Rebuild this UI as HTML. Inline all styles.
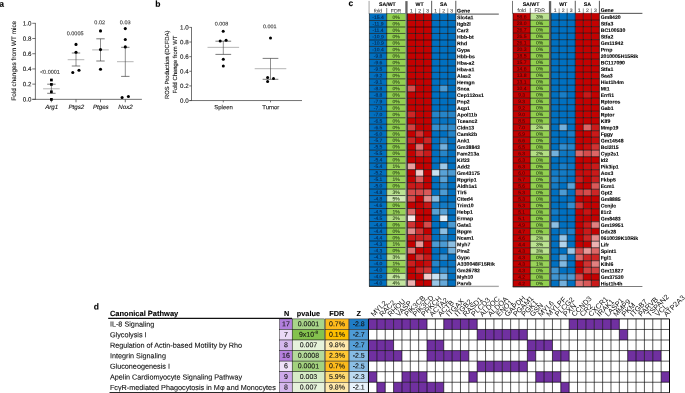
<!DOCTYPE html>
<html><head><meta charset="utf-8"><title>Figure</title>
<style>
html,body{margin:0;padding:0;background:#fff;}
body{width:685px;height:393px;overflow:hidden;font-family:'Liberation Sans', sans-serif;}
svg{display:block;font-family:"Liberation Sans",sans-serif;opacity:0.999;will-change:transform;text-rendering:geometricPrecision;}
</style></head><body>
<svg width="685" height="393" viewBox="0 0 685 393">
<rect width="685" height="393" fill="#fff"/>
<g>
<text x="-0.70" y="6.75" transform="rotate(0.04 -0.70 6.75)" font-size="8.5" text-anchor="start" font-weight="bold" font-style="normal" fill="#000" stroke="#000" stroke-width="0.1" >a</text>
<line x1="35.40" y1="22.95" x2="35.40" y2="99.70" stroke="#444" stroke-width="0.75"/>
<line x1="32.30" y1="99.35" x2="141.90" y2="99.35" stroke="#444" stroke-width="0.75"/>
<line x1="32.30" y1="99.35" x2="35.40" y2="99.35" stroke="#444" stroke-width="0.75"/>
<text x="31.40" y="101.55" transform="rotate(0.04 31.40 101.55)" font-size="6.2" text-anchor="end" font-weight="normal" font-style="normal" fill="#111" stroke="#111" stroke-width="0.1" >0.0</text>
<line x1="32.30" y1="84.14" x2="35.40" y2="84.14" stroke="#444" stroke-width="0.75"/>
<text x="31.40" y="86.34" transform="rotate(0.04 31.40 86.34)" font-size="6.2" text-anchor="end" font-weight="normal" font-style="normal" fill="#111" stroke="#111" stroke-width="0.1" >0.2</text>
<line x1="32.30" y1="68.93" x2="35.40" y2="68.93" stroke="#444" stroke-width="0.75"/>
<text x="31.40" y="71.13" transform="rotate(0.04 31.40 71.13)" font-size="6.2" text-anchor="end" font-weight="normal" font-style="normal" fill="#111" stroke="#111" stroke-width="0.1" >0.4</text>
<line x1="32.30" y1="53.72" x2="35.40" y2="53.72" stroke="#444" stroke-width="0.75"/>
<text x="31.40" y="55.92" transform="rotate(0.04 31.40 55.92)" font-size="6.2" text-anchor="end" font-weight="normal" font-style="normal" fill="#111" stroke="#111" stroke-width="0.1" >0.6</text>
<line x1="32.30" y1="38.51" x2="35.40" y2="38.51" stroke="#444" stroke-width="0.75"/>
<text x="31.40" y="40.71" transform="rotate(0.04 31.40 40.71)" font-size="6.2" text-anchor="end" font-weight="normal" font-style="normal" fill="#111" stroke="#111" stroke-width="0.1" >0.8</text>
<line x1="32.30" y1="23.30" x2="35.40" y2="23.30" stroke="#444" stroke-width="0.75"/>
<text x="31.40" y="25.50" transform="rotate(0.04 31.40 25.50)" font-size="6.2" text-anchor="end" font-weight="normal" font-style="normal" fill="#111" stroke="#111" stroke-width="0.1" >1.0</text>
<text transform="translate(15.6,60.75) rotate(-90)" font-size="6.4" text-anchor="middle" fill="#111" stroke="#111" stroke-width="0.1">Fold changes from WT mice</text>
<line x1="51.40" y1="99.35" x2="51.40" y2="102.25" stroke="#444" stroke-width="0.75"/>
<line x1="43.10" y1="88.80" x2="59.70" y2="88.80" stroke="#a8a8a8" stroke-width="0.85"/>
<line x1="51.40" y1="84.20" x2="51.40" y2="93.30" stroke="#444" stroke-width="0.6"/>
<line x1="47.20" y1="84.20" x2="55.60" y2="84.20" stroke="#333" stroke-width="0.65"/>
<line x1="47.20" y1="93.30" x2="55.60" y2="93.30" stroke="#333" stroke-width="0.65"/>
<rect x="50.04" y="78.64" width="2.73" height="2.73" fill="#000"/>
<rect x="50.04" y="83.04" width="2.73" height="2.73" fill="#000"/>
<rect x="50.04" y="90.44" width="2.73" height="2.73" fill="#000"/>
<rect x="50.04" y="98.04" width="2.73" height="2.73" fill="#000"/>
<text x="49.90" y="73.80" transform="rotate(0.04 49.90 73.80)" font-size="5.5" text-anchor="middle" font-weight="normal" font-style="normal" fill="#333" stroke="#333" stroke-width="0.1" >&lt;0.0001</text>
<text x="51.70" y="108.90" transform="rotate(0.04 51.70 108.90)" font-size="6.2" text-anchor="middle" font-weight="normal" font-style="italic" fill="#111" stroke="#111" stroke-width="0.1" >Arg1</text>
<line x1="76.00" y1="99.35" x2="76.00" y2="102.25" stroke="#444" stroke-width="0.75"/>
<line x1="67.70" y1="59.70" x2="84.30" y2="59.70" stroke="#a8a8a8" stroke-width="0.85"/>
<line x1="76.00" y1="53.00" x2="76.00" y2="66.00" stroke="#444" stroke-width="0.6"/>
<line x1="71.80" y1="53.00" x2="80.20" y2="53.00" stroke="#333" stroke-width="0.65"/>
<line x1="71.80" y1="66.00" x2="80.20" y2="66.00" stroke="#333" stroke-width="0.65"/>
<circle cx="76.00" cy="44.40" r="1.55" fill="#000"/>
<circle cx="76.00" cy="52.30" r="1.55" fill="#000"/>
<circle cx="72.80" cy="72.50" r="1.55" fill="#000"/>
<circle cx="79.00" cy="70.20" r="1.55" fill="#000"/>
<text x="75.10" y="35.30" transform="rotate(0.04 75.10 35.30)" font-size="5.5" text-anchor="middle" font-weight="normal" font-style="normal" fill="#333" stroke="#333" stroke-width="0.1" >0.0005</text>
<text x="76.30" y="108.90" transform="rotate(0.04 76.30 108.90)" font-size="6.2" text-anchor="middle" font-weight="normal" font-style="italic" fill="#111" stroke="#111" stroke-width="0.1" >Ptgs2</text>
<line x1="100.50" y1="99.35" x2="100.50" y2="102.25" stroke="#444" stroke-width="0.75"/>
<line x1="92.20" y1="49.90" x2="108.80" y2="49.90" stroke="#a8a8a8" stroke-width="0.85"/>
<line x1="100.50" y1="38.80" x2="100.50" y2="61.00" stroke="#444" stroke-width="0.6"/>
<line x1="96.30" y1="38.80" x2="104.70" y2="38.80" stroke="#333" stroke-width="0.65"/>
<line x1="96.30" y1="61.00" x2="104.70" y2="61.00" stroke="#333" stroke-width="0.65"/>
<circle cx="100.50" cy="30.90" r="1.55" fill="#000"/>
<circle cx="100.50" cy="49.60" r="1.55" fill="#000"/>
<circle cx="100.50" cy="69.30" r="1.55" fill="#000"/>
<text x="99.70" y="24.20" transform="rotate(0.04 99.70 24.20)" font-size="5.5" text-anchor="middle" font-weight="normal" font-style="normal" fill="#333" stroke="#333" stroke-width="0.1" >0.02</text>
<text x="100.80" y="108.90" transform="rotate(0.04 100.80 108.90)" font-size="6.2" text-anchor="middle" font-weight="normal" font-style="italic" fill="#111" stroke="#111" stroke-width="0.1" >Ptges</text>
<line x1="125.30" y1="99.35" x2="125.30" y2="102.25" stroke="#444" stroke-width="0.75"/>
<line x1="117.00" y1="61.70" x2="133.60" y2="61.70" stroke="#a8a8a8" stroke-width="0.85"/>
<line x1="125.30" y1="47.30" x2="125.30" y2="76.40" stroke="#444" stroke-width="0.6"/>
<line x1="121.10" y1="47.30" x2="129.50" y2="47.30" stroke="#333" stroke-width="0.65"/>
<line x1="121.10" y1="76.40" x2="129.50" y2="76.40" stroke="#333" stroke-width="0.65"/>
<circle cx="125.30" cy="28.60" r="1.55" fill="#000"/>
<circle cx="125.30" cy="39.50" r="1.55" fill="#000"/>
<circle cx="125.30" cy="46.90" r="1.55" fill="#000"/>
<circle cx="122.10" cy="97.50" r="1.55" fill="#000"/>
<circle cx="128.40" cy="96.50" r="1.55" fill="#000"/>
<text x="125.20" y="24.20" transform="rotate(0.04 125.20 24.20)" font-size="5.5" text-anchor="middle" font-weight="normal" font-style="normal" fill="#333" stroke="#333" stroke-width="0.1" >0.03</text>
<text x="125.60" y="108.90" transform="rotate(0.04 125.60 108.90)" font-size="6.2" text-anchor="middle" font-weight="normal" font-style="italic" fill="#111" stroke="#111" stroke-width="0.1" >Nox2</text>
<text x="155.20" y="6.80" transform="rotate(0.04 155.20 6.80)" font-size="8.5" text-anchor="start" font-weight="bold" font-style="normal" fill="#000" stroke="#000" stroke-width="0.1" >b</text>
<line x1="191.50" y1="27.05" x2="191.50" y2="100.90" stroke="#444" stroke-width="0.75"/>
<line x1="189.30" y1="100.55" x2="302.00" y2="100.55" stroke="#444" stroke-width="0.75"/>
<line x1="189.30" y1="100.55" x2="191.50" y2="100.55" stroke="#444" stroke-width="0.75"/>
<text x="188.70" y="102.75" transform="rotate(0.04 188.70 102.75)" font-size="6.2" text-anchor="end" font-weight="normal" font-style="normal" fill="#111" stroke="#111" stroke-width="0.1" >0.0</text>
<line x1="189.30" y1="85.92" x2="191.50" y2="85.92" stroke="#444" stroke-width="0.75"/>
<text x="188.70" y="88.12" transform="rotate(0.04 188.70 88.12)" font-size="6.2" text-anchor="end" font-weight="normal" font-style="normal" fill="#111" stroke="#111" stroke-width="0.1" >0.2</text>
<line x1="189.30" y1="71.29" x2="191.50" y2="71.29" stroke="#444" stroke-width="0.75"/>
<text x="188.70" y="73.49" transform="rotate(0.04 188.70 73.49)" font-size="6.2" text-anchor="end" font-weight="normal" font-style="normal" fill="#111" stroke="#111" stroke-width="0.1" >0.4</text>
<line x1="189.30" y1="56.66" x2="191.50" y2="56.66" stroke="#444" stroke-width="0.75"/>
<text x="188.70" y="58.86" transform="rotate(0.04 188.70 58.86)" font-size="6.2" text-anchor="end" font-weight="normal" font-style="normal" fill="#111" stroke="#111" stroke-width="0.1" >0.6</text>
<line x1="189.30" y1="42.03" x2="191.50" y2="42.03" stroke="#444" stroke-width="0.75"/>
<text x="188.70" y="44.23" transform="rotate(0.04 188.70 44.23)" font-size="6.2" text-anchor="end" font-weight="normal" font-style="normal" fill="#111" stroke="#111" stroke-width="0.1" >0.8</text>
<line x1="189.30" y1="27.40" x2="191.50" y2="27.40" stroke="#444" stroke-width="0.75"/>
<text x="188.70" y="29.60" transform="rotate(0.04 188.70 29.60)" font-size="6.2" text-anchor="end" font-weight="normal" font-style="normal" fill="#111" stroke="#111" stroke-width="0.1" >1.0</text>
<text transform="translate(169.0,64.8) rotate(-90)" font-size="5.9" text-anchor="middle" fill="#111" stroke="#111" stroke-width="0.1">ROS Production (DCFDA)</text>
<text transform="translate(177.0,64.6) rotate(-90)" font-size="5.9" text-anchor="middle" fill="#111" stroke="#111" stroke-width="0.1">Fold Change from WT</text>
<line x1="223.30" y1="100.55" x2="223.30" y2="102.35" stroke="#444" stroke-width="0.75"/>
<line x1="207.50" y1="47.35" x2="239.10" y2="47.35" stroke="#a8a8a8" stroke-width="0.85"/>
<line x1="223.30" y1="41.20" x2="223.30" y2="54.40" stroke="#444" stroke-width="0.6"/>
<line x1="215.45" y1="41.20" x2="231.15" y2="41.20" stroke="#333" stroke-width="0.65"/>
<line x1="215.45" y1="54.40" x2="231.15" y2="54.40" stroke="#333" stroke-width="0.65"/>
<circle cx="223.20" cy="31.30" r="1.5" fill="#000"/>
<circle cx="220.20" cy="41.00" r="1.5" fill="#000"/>
<circle cx="226.10" cy="40.30" r="1.5" fill="#000"/>
<circle cx="223.30" cy="59.20" r="1.5" fill="#000"/>
<circle cx="223.30" cy="66.00" r="1.5" fill="#000"/>
<text x="221.50" y="25.40" transform="rotate(0.04 221.50 25.40)" font-size="5.4" text-anchor="middle" font-weight="normal" font-style="normal" fill="#333" stroke="#333" stroke-width="0.1" >0.008</text>
<text x="223.60" y="109.20" transform="rotate(0.04 223.60 109.20)" font-size="6.0" text-anchor="middle" font-weight="normal" font-style="normal" fill="#111" stroke="#111" stroke-width="0.1" >Spleen</text>
<line x1="270.50" y1="100.55" x2="270.50" y2="102.35" stroke="#444" stroke-width="0.75"/>
<line x1="254.70" y1="68.70" x2="286.30" y2="68.70" stroke="#a8a8a8" stroke-width="0.85"/>
<line x1="270.50" y1="58.40" x2="270.50" y2="79.30" stroke="#444" stroke-width="0.6"/>
<line x1="262.65" y1="58.40" x2="278.35" y2="58.40" stroke="#333" stroke-width="0.65"/>
<line x1="262.65" y1="79.30" x2="278.35" y2="79.30" stroke="#333" stroke-width="0.65"/>
<circle cx="270.50" cy="38.10" r="1.5" fill="#000"/>
<circle cx="267.60" cy="77.60" r="1.5" fill="#000"/>
<circle cx="273.50" cy="78.50" r="1.5" fill="#000"/>
<circle cx="267.60" cy="81.60" r="1.5" fill="#000"/>
<text x="269.70" y="28.30" transform="rotate(0.04 269.70 28.30)" font-size="5.4" text-anchor="middle" font-weight="normal" font-style="normal" fill="#333" stroke="#333" stroke-width="0.1" >0.001</text>
<text x="270.80" y="109.20" transform="rotate(0.04 270.80 109.20)" font-size="6.0" text-anchor="middle" font-weight="normal" font-style="normal" fill="#111" stroke="#111" stroke-width="0.1" >Tumor</text>
<text x="348.40" y="5.90" transform="rotate(0.04 348.40 5.90)" font-size="8.5" text-anchor="start" font-weight="bold" font-style="normal" fill="#000" stroke="#000" stroke-width="0.1" >c</text>
<text x="387.40" y="6.00" transform="rotate(0.04 387.40 6.00)" font-size="5.2" text-anchor="middle" font-weight="bold" font-style="normal" fill="#000" stroke="#000" stroke-width="0.1" >SA/WT</text>
<text x="378.05" y="12.60" transform="rotate(0.04 378.05 12.60)" font-size="5.1" text-anchor="middle" font-weight="normal" font-style="normal" fill="#444" stroke="#444" stroke-width="0.1" >fold</text>
<text x="396.05" y="12.60" transform="rotate(0.04 396.05 12.60)" font-size="5.1" text-anchor="middle" font-weight="normal" font-style="normal" fill="#444" stroke="#444" stroke-width="0.1" >FDR</text>
<text x="419.57" y="6.00" transform="rotate(0.04 419.57 6.00)" font-size="5.2" text-anchor="middle" font-weight="bold" font-style="normal" fill="#000" stroke="#000" stroke-width="0.1" >WT</text>
<text x="443.73" y="6.00" transform="rotate(0.04 443.73 6.00)" font-size="5.2" text-anchor="middle" font-weight="bold" font-style="normal" fill="#000" stroke="#000" stroke-width="0.1" >SA</text>
<text x="411.52" y="12.60" transform="rotate(0.04 411.52 12.60)" font-size="5.1" text-anchor="middle" font-weight="normal" font-style="normal" fill="#444" stroke="#444" stroke-width="0.1" >1</text>
<text x="419.57" y="12.60" transform="rotate(0.04 419.57 12.60)" font-size="5.1" text-anchor="middle" font-weight="normal" font-style="normal" fill="#444" stroke="#444" stroke-width="0.1" >2</text>
<text x="427.62" y="12.60" transform="rotate(0.04 427.62 12.60)" font-size="5.1" text-anchor="middle" font-weight="normal" font-style="normal" fill="#444" stroke="#444" stroke-width="0.1" >3</text>
<text x="435.67" y="12.60" transform="rotate(0.04 435.67 12.60)" font-size="5.1" text-anchor="middle" font-weight="normal" font-style="normal" fill="#444" stroke="#444" stroke-width="0.1" >1</text>
<text x="443.72" y="12.60" transform="rotate(0.04 443.72 12.60)" font-size="5.1" text-anchor="middle" font-weight="normal" font-style="normal" fill="#444" stroke="#444" stroke-width="0.1" >2</text>
<text x="451.77" y="12.60" transform="rotate(0.04 451.77 12.60)" font-size="5.1" text-anchor="middle" font-weight="normal" font-style="normal" fill="#444" stroke="#444" stroke-width="0.1" >3</text>
<text x="457.10" y="12.60" transform="rotate(0.04 457.10 12.60)" font-size="5.2" text-anchor="start" font-weight="bold" font-style="normal" fill="#000" stroke="#000" stroke-width="0.1" >Gene</text>
<rect x="368.40" y="0.90" width="1.40" height="13.10" fill="#bdbdbd"/>
<line x1="386.70" y1="8.00" x2="386.70" y2="14.00" stroke="#333" stroke-width="0.6"/>
<rect x="405.30" y="1.10" width="2.30" height="285.25" fill="#636363"/>
<line x1="431.65" y1="0.80" x2="431.65" y2="14.00" stroke="#111" stroke-width="0.7"/>
<line x1="455.80" y1="0.80" x2="455.80" y2="14.00" stroke="#111" stroke-width="0.7"/>
<line x1="415.55" y1="8.40" x2="415.55" y2="14.00" stroke="#333" stroke-width="0.5"/>
<line x1="423.60" y1="8.40" x2="423.60" y2="14.00" stroke="#333" stroke-width="0.5"/>
<line x1="439.70" y1="8.40" x2="439.70" y2="14.00" stroke="#333" stroke-width="0.5"/>
<line x1="447.75" y1="8.40" x2="447.75" y2="14.00" stroke="#333" stroke-width="0.5"/>
<rect x="369.40" y="13.55" width="36.00" height="1.00" fill="#0070c0"/>
<rect x="386.70" y="13.55" width="18.70" height="1.00" fill="#92d050"/>
<rect x="407.50" y="13.55" width="24.15" height="1.00" fill="#c40000"/>
<rect x="431.65" y="13.55" width="24.15" height="1.00" fill="#0070c0"/>
<rect x="369.40" y="14.00" width="17.30" height="6.48" fill="#0070c0"/>
<rect x="386.70" y="14.00" width="18.70" height="6.48" fill="#92d050"/>
<rect x="407.50" y="14.00" width="8.05" height="6.48" fill="#c40000"/>
<rect x="431.65" y="14.00" width="8.05" height="6.48" fill="#0070c0"/>
<rect x="415.55" y="14.00" width="8.05" height="6.48" fill="#c40000"/>
<rect x="439.70" y="14.00" width="8.05" height="6.48" fill="#0070c0"/>
<rect x="423.60" y="14.00" width="8.05" height="6.48" fill="#c40000"/>
<rect x="447.75" y="14.00" width="8.05" height="6.48" fill="#0070c0"/>
<text x="378.05" y="18.93" transform="rotate(0.04 378.05 18.93)" font-size="5.0" text-anchor="middle" font-weight="normal" font-style="normal" fill="#08264d" stroke="#08264d" stroke-width="0.1" >-15.4</text>
<text x="396.05" y="18.93" transform="rotate(0.04 396.05 18.93)" font-size="5.0" text-anchor="middle" font-weight="normal" font-style="normal" fill="#2a4218" stroke="#2a4218" stroke-width="0.1" >0%</text>
<text x="457.10" y="19.28" transform="rotate(0.04 457.10 19.28)" font-size="5.15" text-anchor="start" font-weight="bold" font-style="normal" fill="#000" stroke="#000" stroke-width="0.1" >Slc4a1</text>
<rect x="369.40" y="20.48" width="17.30" height="6.48" fill="#0070c0"/>
<rect x="386.70" y="20.48" width="18.70" height="6.48" fill="#92d050"/>
<rect x="407.50" y="20.48" width="8.05" height="6.48" fill="#c40000"/>
<rect x="431.65" y="20.48" width="8.05" height="6.48" fill="#0070c0"/>
<rect x="415.55" y="20.48" width="8.05" height="6.48" fill="#c40000"/>
<rect x="439.70" y="20.48" width="8.05" height="6.48" fill="#0070c0"/>
<rect x="423.60" y="20.48" width="8.05" height="6.48" fill="#c40000"/>
<rect x="447.75" y="20.48" width="8.05" height="6.48" fill="#0070c0"/>
<text x="378.05" y="25.42" transform="rotate(0.04 378.05 25.42)" font-size="5.0" text-anchor="middle" font-weight="normal" font-style="normal" fill="#08264d" stroke="#08264d" stroke-width="0.1" >-11.9</text>
<text x="396.05" y="25.42" transform="rotate(0.04 396.05 25.42)" font-size="5.0" text-anchor="middle" font-weight="normal" font-style="normal" fill="#2a4218" stroke="#2a4218" stroke-width="0.1" >0%</text>
<text x="457.10" y="25.77" transform="rotate(0.04 457.10 25.77)" font-size="5.15" text-anchor="start" font-weight="bold" font-style="normal" fill="#000" stroke="#000" stroke-width="0.1" >Itgb2l</text>
<rect x="369.40" y="26.97" width="17.30" height="6.48" fill="#0070c0"/>
<rect x="386.70" y="26.97" width="18.70" height="6.48" fill="#92d050"/>
<rect x="407.50" y="26.97" width="8.05" height="6.48" fill="#c40000"/>
<rect x="431.65" y="26.97" width="8.05" height="6.48" fill="#0070c0"/>
<rect x="415.55" y="26.97" width="8.05" height="6.48" fill="#c40000"/>
<rect x="439.70" y="26.97" width="8.05" height="6.48" fill="#0070c0"/>
<rect x="423.60" y="26.97" width="8.05" height="6.48" fill="#c40000"/>
<rect x="447.75" y="26.97" width="8.05" height="6.48" fill="#0070c0"/>
<text x="378.05" y="31.90" transform="rotate(0.04 378.05 31.90)" font-size="5.0" text-anchor="middle" font-weight="normal" font-style="normal" fill="#08264d" stroke="#08264d" stroke-width="0.1" >-11.4</text>
<text x="396.05" y="31.90" transform="rotate(0.04 396.05 31.90)" font-size="5.0" text-anchor="middle" font-weight="normal" font-style="normal" fill="#2a4218" stroke="#2a4218" stroke-width="0.1" >0%</text>
<text x="457.10" y="32.25" transform="rotate(0.04 457.10 32.25)" font-size="5.15" text-anchor="start" font-weight="bold" font-style="normal" fill="#000" stroke="#000" stroke-width="0.1" >Car2</text>
<rect x="369.40" y="33.45" width="17.30" height="6.48" fill="#0070c0"/>
<rect x="386.70" y="33.45" width="18.70" height="6.48" fill="#92d050"/>
<rect x="407.50" y="33.45" width="8.05" height="6.48" fill="#c40000"/>
<rect x="431.65" y="33.45" width="8.05" height="6.48" fill="#0070c0"/>
<rect x="415.55" y="33.45" width="8.05" height="6.48" fill="#c40000"/>
<rect x="439.70" y="33.45" width="8.05" height="6.48" fill="#0070c0"/>
<rect x="423.60" y="33.45" width="8.05" height="6.48" fill="#c40000"/>
<rect x="447.75" y="33.45" width="8.05" height="6.48" fill="#0070c0"/>
<text x="378.05" y="38.39" transform="rotate(0.04 378.05 38.39)" font-size="5.0" text-anchor="middle" font-weight="normal" font-style="normal" fill="#08264d" stroke="#08264d" stroke-width="0.1" >-10.9</text>
<text x="396.05" y="38.39" transform="rotate(0.04 396.05 38.39)" font-size="5.0" text-anchor="middle" font-weight="normal" font-style="normal" fill="#2a4218" stroke="#2a4218" stroke-width="0.1" >0%</text>
<text x="457.10" y="38.74" transform="rotate(0.04 457.10 38.74)" font-size="5.15" text-anchor="start" font-weight="bold" font-style="normal" fill="#000" stroke="#000" stroke-width="0.1" >Hbb-bt</text>
<rect x="369.40" y="39.94" width="17.30" height="6.48" fill="#0070c0"/>
<rect x="386.70" y="39.94" width="18.70" height="6.48" fill="#92d050"/>
<rect x="407.50" y="39.94" width="8.05" height="6.48" fill="#c40000"/>
<rect x="431.65" y="39.94" width="8.05" height="6.48" fill="#0070c0"/>
<rect x="415.55" y="39.94" width="8.05" height="6.48" fill="#c40000"/>
<rect x="439.70" y="39.94" width="8.05" height="6.48" fill="#0070c0"/>
<rect x="423.60" y="39.94" width="8.05" height="6.48" fill="#c40000"/>
<rect x="447.75" y="39.94" width="8.05" height="6.48" fill="#0070c0"/>
<text x="378.05" y="44.87" transform="rotate(0.04 378.05 44.87)" font-size="5.0" text-anchor="middle" font-weight="normal" font-style="normal" fill="#08264d" stroke="#08264d" stroke-width="0.1" >-10.9</text>
<text x="396.05" y="44.87" transform="rotate(0.04 396.05 44.87)" font-size="5.0" text-anchor="middle" font-weight="normal" font-style="normal" fill="#2a4218" stroke="#2a4218" stroke-width="0.1" >0%</text>
<text x="457.10" y="45.22" transform="rotate(0.04 457.10 45.22)" font-size="5.15" text-anchor="start" font-weight="bold" font-style="normal" fill="#000" stroke="#000" stroke-width="0.1" >Rhd</text>
<rect x="369.40" y="46.42" width="17.30" height="6.48" fill="#0070c0"/>
<rect x="386.70" y="46.42" width="18.70" height="6.48" fill="#92d050"/>
<rect x="407.50" y="46.42" width="8.05" height="6.48" fill="#c40000"/>
<rect x="431.65" y="46.42" width="8.05" height="6.48" fill="#0070c0"/>
<rect x="415.55" y="46.42" width="8.05" height="6.48" fill="#c40000"/>
<rect x="439.70" y="46.42" width="8.05" height="6.48" fill="#0070c0"/>
<rect x="423.60" y="46.42" width="8.05" height="6.48" fill="#c40000"/>
<rect x="447.75" y="46.42" width="8.05" height="6.48" fill="#0070c0"/>
<text x="378.05" y="51.36" transform="rotate(0.04 378.05 51.36)" font-size="5.0" text-anchor="middle" font-weight="normal" font-style="normal" fill="#08264d" stroke="#08264d" stroke-width="0.1" >-10.4</text>
<text x="396.05" y="51.36" transform="rotate(0.04 396.05 51.36)" font-size="5.0" text-anchor="middle" font-weight="normal" font-style="normal" fill="#2a4218" stroke="#2a4218" stroke-width="0.1" >0%</text>
<text x="457.10" y="51.71" transform="rotate(0.04 457.10 51.71)" font-size="5.15" text-anchor="start" font-weight="bold" font-style="normal" fill="#000" stroke="#000" stroke-width="0.1" >Gypa</text>
<rect x="369.40" y="52.91" width="17.30" height="6.48" fill="#0070c0"/>
<rect x="386.70" y="52.91" width="18.70" height="6.48" fill="#92d050"/>
<rect x="407.50" y="52.91" width="8.05" height="6.48" fill="#c40000"/>
<rect x="431.65" y="52.91" width="8.05" height="6.48" fill="#0070c0"/>
<rect x="415.55" y="52.91" width="8.05" height="6.48" fill="#c40000"/>
<rect x="439.70" y="52.91" width="8.05" height="6.48" fill="#0070c0"/>
<rect x="423.60" y="52.91" width="8.05" height="6.48" fill="#c40000"/>
<rect x="447.75" y="52.91" width="8.05" height="6.48" fill="#0070c0"/>
<text x="378.05" y="57.84" transform="rotate(0.04 378.05 57.84)" font-size="5.0" text-anchor="middle" font-weight="normal" font-style="normal" fill="#08264d" stroke="#08264d" stroke-width="0.1" >-9.8</text>
<text x="396.05" y="57.84" transform="rotate(0.04 396.05 57.84)" font-size="5.0" text-anchor="middle" font-weight="normal" font-style="normal" fill="#2a4218" stroke="#2a4218" stroke-width="0.1" >0%</text>
<text x="457.10" y="58.19" transform="rotate(0.04 457.10 58.19)" font-size="5.15" text-anchor="start" font-weight="bold" font-style="normal" fill="#000" stroke="#000" stroke-width="0.1" >Hbb-bs</text>
<rect x="369.40" y="59.39" width="17.30" height="6.48" fill="#0070c0"/>
<rect x="386.70" y="59.39" width="18.70" height="6.48" fill="#92d050"/>
<rect x="407.50" y="59.39" width="8.05" height="6.48" fill="#c40000"/>
<rect x="431.65" y="59.39" width="8.05" height="6.48" fill="#0070c0"/>
<rect x="415.55" y="59.39" width="8.05" height="6.48" fill="#c40000"/>
<rect x="439.70" y="59.39" width="8.05" height="6.48" fill="#0070c0"/>
<rect x="423.60" y="59.39" width="8.05" height="6.48" fill="#c40000"/>
<rect x="447.75" y="59.39" width="8.05" height="6.48" fill="#0070c0"/>
<text x="378.05" y="64.33" transform="rotate(0.04 378.05 64.33)" font-size="5.0" text-anchor="middle" font-weight="normal" font-style="normal" fill="#08264d" stroke="#08264d" stroke-width="0.1" >-9.6</text>
<text x="396.05" y="64.33" transform="rotate(0.04 396.05 64.33)" font-size="5.0" text-anchor="middle" font-weight="normal" font-style="normal" fill="#2a4218" stroke="#2a4218" stroke-width="0.1" >0%</text>
<text x="457.10" y="64.68" transform="rotate(0.04 457.10 64.68)" font-size="5.15" text-anchor="start" font-weight="bold" font-style="normal" fill="#000" stroke="#000" stroke-width="0.1" >Hba-a2</text>
<rect x="369.40" y="65.88" width="17.30" height="6.48" fill="#0070c0"/>
<rect x="386.70" y="65.88" width="18.70" height="6.48" fill="#92d050"/>
<rect x="407.50" y="65.88" width="8.05" height="6.48" fill="#c40000"/>
<rect x="431.65" y="65.88" width="8.05" height="6.48" fill="#0070c0"/>
<rect x="415.55" y="65.88" width="8.05" height="6.48" fill="#c40000"/>
<rect x="439.70" y="65.88" width="8.05" height="6.48" fill="#0070c0"/>
<rect x="423.60" y="65.88" width="8.05" height="6.48" fill="#c40000"/>
<rect x="447.75" y="65.88" width="8.05" height="6.48" fill="#0070c0"/>
<text x="378.05" y="70.81" transform="rotate(0.04 378.05 70.81)" font-size="5.0" text-anchor="middle" font-weight="normal" font-style="normal" fill="#08264d" stroke="#08264d" stroke-width="0.1" >-9.5</text>
<text x="396.05" y="70.81" transform="rotate(0.04 396.05 70.81)" font-size="5.0" text-anchor="middle" font-weight="normal" font-style="normal" fill="#2a4218" stroke="#2a4218" stroke-width="0.1" >0%</text>
<text x="457.10" y="71.16" transform="rotate(0.04 457.10 71.16)" font-size="5.15" text-anchor="start" font-weight="bold" font-style="normal" fill="#000" stroke="#000" stroke-width="0.1" >Hba-a1</text>
<rect x="369.40" y="72.36" width="17.30" height="6.48" fill="#0070c0"/>
<rect x="386.70" y="72.36" width="18.70" height="6.48" fill="#92d050"/>
<rect x="407.50" y="72.36" width="8.05" height="6.48" fill="#c40000"/>
<rect x="431.65" y="72.36" width="8.05" height="6.48" fill="#0070c0"/>
<rect x="415.55" y="72.36" width="8.05" height="6.48" fill="#c40000"/>
<rect x="439.70" y="72.36" width="8.05" height="6.48" fill="#0070c0"/>
<rect x="423.60" y="72.36" width="8.05" height="6.48" fill="#c40000"/>
<rect x="447.75" y="72.36" width="8.05" height="6.48" fill="#0070c0"/>
<text x="378.05" y="77.30" transform="rotate(0.04 378.05 77.30)" font-size="5.0" text-anchor="middle" font-weight="normal" font-style="normal" fill="#08264d" stroke="#08264d" stroke-width="0.1" >-9.2</text>
<text x="396.05" y="77.30" transform="rotate(0.04 396.05 77.30)" font-size="5.0" text-anchor="middle" font-weight="normal" font-style="normal" fill="#2a4218" stroke="#2a4218" stroke-width="0.1" >0%</text>
<text x="457.10" y="77.65" transform="rotate(0.04 457.10 77.65)" font-size="5.15" text-anchor="start" font-weight="bold" font-style="normal" fill="#000" stroke="#000" stroke-width="0.1" >Alas2</text>
<rect x="369.40" y="78.85" width="17.30" height="6.48" fill="#0070c0"/>
<rect x="386.70" y="78.85" width="18.70" height="6.48" fill="#92d050"/>
<rect x="407.50" y="78.85" width="8.05" height="6.48" fill="#c40000"/>
<rect x="431.65" y="78.85" width="8.05" height="6.48" fill="#0070c0"/>
<rect x="415.55" y="78.85" width="8.05" height="6.48" fill="#c40000"/>
<rect x="439.70" y="78.85" width="8.05" height="6.48" fill="#0070c0"/>
<rect x="423.60" y="78.85" width="8.05" height="6.48" fill="#c40000"/>
<rect x="447.75" y="78.85" width="8.05" height="6.48" fill="#0070c0"/>
<text x="378.05" y="83.78" transform="rotate(0.04 378.05 83.78)" font-size="5.0" text-anchor="middle" font-weight="normal" font-style="normal" fill="#08264d" stroke="#08264d" stroke-width="0.1" >-9.1</text>
<text x="396.05" y="83.78" transform="rotate(0.04 396.05 83.78)" font-size="5.0" text-anchor="middle" font-weight="normal" font-style="normal" fill="#2a4218" stroke="#2a4218" stroke-width="0.1" >0%</text>
<text x="457.10" y="84.13" transform="rotate(0.04 457.10 84.13)" font-size="5.15" text-anchor="start" font-weight="bold" font-style="normal" fill="#000" stroke="#000" stroke-width="0.1" >Hemgn</text>
<rect x="369.40" y="85.33" width="17.30" height="6.48" fill="#0070c0"/>
<rect x="386.70" y="85.33" width="18.70" height="6.48" fill="#92d050"/>
<rect x="407.50" y="85.33" width="8.05" height="6.48" fill="#d64c4c"/>
<rect x="431.65" y="85.33" width="8.05" height="6.48" fill="#0070c0"/>
<rect x="415.55" y="85.33" width="8.05" height="6.48" fill="#c40000"/>
<rect x="439.70" y="85.33" width="8.05" height="6.48" fill="#4c9bd3"/>
<rect x="423.60" y="85.33" width="8.05" height="6.48" fill="#c40000"/>
<rect x="447.75" y="85.33" width="8.05" height="6.48" fill="#0070c0"/>
<text x="378.05" y="90.26" transform="rotate(0.04 378.05 90.26)" font-size="5.0" text-anchor="middle" font-weight="normal" font-style="normal" fill="#08264d" stroke="#08264d" stroke-width="0.1" >-8.8</text>
<text x="396.05" y="90.26" transform="rotate(0.04 396.05 90.26)" font-size="5.0" text-anchor="middle" font-weight="normal" font-style="normal" fill="#2a4218" stroke="#2a4218" stroke-width="0.1" >0%</text>
<text x="457.10" y="90.61" transform="rotate(0.04 457.10 90.61)" font-size="5.15" text-anchor="start" font-weight="bold" font-style="normal" fill="#000" stroke="#000" stroke-width="0.1" >Snca</text>
<rect x="369.40" y="91.81" width="17.30" height="6.48" fill="#0070c0"/>
<rect x="386.70" y="91.81" width="18.70" height="6.48" fill="#92d050"/>
<rect x="407.50" y="91.81" width="8.05" height="6.48" fill="#c40000"/>
<rect x="431.65" y="91.81" width="8.05" height="6.48" fill="#0070c0"/>
<rect x="415.55" y="91.81" width="8.05" height="6.48" fill="#c40000"/>
<rect x="439.70" y="91.81" width="8.05" height="6.48" fill="#0070c0"/>
<rect x="423.60" y="91.81" width="8.05" height="6.48" fill="#c40000"/>
<rect x="447.75" y="91.81" width="8.05" height="6.48" fill="#0070c0"/>
<text x="378.05" y="96.75" transform="rotate(0.04 378.05 96.75)" font-size="5.0" text-anchor="middle" font-weight="normal" font-style="normal" fill="#08264d" stroke="#08264d" stroke-width="0.1" >-8.8</text>
<text x="396.05" y="96.75" transform="rotate(0.04 396.05 96.75)" font-size="5.0" text-anchor="middle" font-weight="normal" font-style="normal" fill="#2a4218" stroke="#2a4218" stroke-width="0.1" >0%</text>
<text x="457.10" y="97.10" transform="rotate(0.04 457.10 97.10)" font-size="5.15" text-anchor="start" font-weight="bold" font-style="normal" fill="#000" stroke="#000" stroke-width="0.1" >Cep112os1</text>
<rect x="369.40" y="98.30" width="17.30" height="6.48" fill="#0070c0"/>
<rect x="386.70" y="98.30" width="18.70" height="6.48" fill="#92d050"/>
<rect x="407.50" y="98.30" width="8.05" height="6.48" fill="#c40000"/>
<rect x="431.65" y="98.30" width="8.05" height="6.48" fill="#0070c0"/>
<rect x="415.55" y="98.30" width="8.05" height="6.48" fill="#c40000"/>
<rect x="439.70" y="98.30" width="8.05" height="6.48" fill="#0070c0"/>
<rect x="423.60" y="98.30" width="8.05" height="6.48" fill="#c40000"/>
<rect x="447.75" y="98.30" width="8.05" height="6.48" fill="#0070c0"/>
<text x="378.05" y="103.23" transform="rotate(0.04 378.05 103.23)" font-size="5.0" text-anchor="middle" font-weight="normal" font-style="normal" fill="#08264d" stroke="#08264d" stroke-width="0.1" >-7.9</text>
<text x="396.05" y="103.23" transform="rotate(0.04 396.05 103.23)" font-size="5.0" text-anchor="middle" font-weight="normal" font-style="normal" fill="#2a4218" stroke="#2a4218" stroke-width="0.1" >0%</text>
<text x="457.10" y="103.58" transform="rotate(0.04 457.10 103.58)" font-size="5.15" text-anchor="start" font-weight="bold" font-style="normal" fill="#000" stroke="#000" stroke-width="0.1" >Pnp2</text>
<rect x="369.40" y="104.78" width="17.30" height="6.48" fill="#0070c0"/>
<rect x="386.70" y="104.78" width="18.70" height="6.48" fill="#92d050"/>
<rect x="407.50" y="104.78" width="8.05" height="6.48" fill="#c40000"/>
<rect x="431.65" y="104.78" width="8.05" height="6.48" fill="#0070c0"/>
<rect x="415.55" y="104.78" width="8.05" height="6.48" fill="#c40000"/>
<rect x="439.70" y="104.78" width="8.05" height="6.48" fill="#0070c0"/>
<rect x="423.60" y="104.78" width="8.05" height="6.48" fill="#c40000"/>
<rect x="447.75" y="104.78" width="8.05" height="6.48" fill="#0070c0"/>
<text x="378.05" y="109.72" transform="rotate(0.04 378.05 109.72)" font-size="5.0" text-anchor="middle" font-weight="normal" font-style="normal" fill="#08264d" stroke="#08264d" stroke-width="0.1" >-7.3</text>
<text x="396.05" y="109.72" transform="rotate(0.04 396.05 109.72)" font-size="5.0" text-anchor="middle" font-weight="normal" font-style="normal" fill="#2a4218" stroke="#2a4218" stroke-width="0.1" >0%</text>
<text x="457.10" y="110.07" transform="rotate(0.04 457.10 110.07)" font-size="5.15" text-anchor="start" font-weight="bold" font-style="normal" fill="#000" stroke="#000" stroke-width="0.1" >Aqp1</text>
<rect x="369.40" y="111.27" width="17.30" height="6.48" fill="#0070c0"/>
<rect x="386.70" y="111.27" width="18.70" height="6.48" fill="#92d050"/>
<rect x="407.50" y="111.27" width="8.05" height="6.48" fill="#cd2626"/>
<rect x="431.65" y="111.27" width="8.05" height="6.48" fill="#2685c9"/>
<rect x="415.55" y="111.27" width="8.05" height="6.48" fill="#c40000"/>
<rect x="439.70" y="111.27" width="8.05" height="6.48" fill="#2685c9"/>
<rect x="423.60" y="111.27" width="8.05" height="6.48" fill="#c40000"/>
<rect x="447.75" y="111.27" width="8.05" height="6.48" fill="#2685c9"/>
<text x="378.05" y="116.20" transform="rotate(0.04 378.05 116.20)" font-size="5.0" text-anchor="middle" font-weight="normal" font-style="normal" fill="#08264d" stroke="#08264d" stroke-width="0.1" >-7.0</text>
<text x="396.05" y="116.20" transform="rotate(0.04 396.05 116.20)" font-size="5.0" text-anchor="middle" font-weight="normal" font-style="normal" fill="#2a4218" stroke="#2a4218" stroke-width="0.1" >0%</text>
<text x="457.10" y="116.55" transform="rotate(0.04 457.10 116.55)" font-size="5.15" text-anchor="start" font-weight="bold" font-style="normal" fill="#000" stroke="#000" stroke-width="0.1" >Apol11b</text>
<rect x="369.40" y="117.75" width="17.30" height="6.48" fill="#0070c0"/>
<rect x="386.70" y="117.75" width="18.70" height="6.48" fill="#92d050"/>
<rect x="407.50" y="117.75" width="8.05" height="6.48" fill="#c40000"/>
<rect x="431.65" y="117.75" width="8.05" height="6.48" fill="#0874c2"/>
<rect x="415.55" y="117.75" width="8.05" height="6.48" fill="#c40000"/>
<rect x="439.70" y="117.75" width="8.05" height="6.48" fill="#0874c2"/>
<rect x="423.60" y="117.75" width="8.05" height="6.48" fill="#c40000"/>
<rect x="447.75" y="117.75" width="8.05" height="6.48" fill="#0874c2"/>
<text x="378.05" y="122.69" transform="rotate(0.04 378.05 122.69)" font-size="5.0" text-anchor="middle" font-weight="normal" font-style="normal" fill="#08264d" stroke="#08264d" stroke-width="0.1" >-6.5</text>
<text x="396.05" y="122.69" transform="rotate(0.04 396.05 122.69)" font-size="5.0" text-anchor="middle" font-weight="normal" font-style="normal" fill="#2a4218" stroke="#2a4218" stroke-width="0.1" >0%</text>
<text x="457.10" y="123.04" transform="rotate(0.04 457.10 123.04)" font-size="5.15" text-anchor="start" font-weight="bold" font-style="normal" fill="#000" stroke="#000" stroke-width="0.1" >Tceanc2</text>
<rect x="369.40" y="124.24" width="17.30" height="6.48" fill="#0070c0"/>
<rect x="386.70" y="124.24" width="18.70" height="6.48" fill="#92d050"/>
<rect x="407.50" y="124.24" width="8.05" height="6.48" fill="#d34040"/>
<rect x="431.65" y="124.24" width="8.05" height="6.48" fill="#388fce"/>
<rect x="415.55" y="124.24" width="8.05" height="6.48" fill="#c40000"/>
<rect x="439.70" y="124.24" width="8.05" height="6.48" fill="#338dcd"/>
<rect x="423.60" y="124.24" width="8.05" height="6.48" fill="#c40000"/>
<rect x="447.75" y="124.24" width="8.05" height="6.48" fill="#338dcd"/>
<text x="378.05" y="129.17" transform="rotate(0.04 378.05 129.17)" font-size="5.0" text-anchor="middle" font-weight="normal" font-style="normal" fill="#08264d" stroke="#08264d" stroke-width="0.1" >-6.5</text>
<text x="396.05" y="129.17" transform="rotate(0.04 396.05 129.17)" font-size="5.0" text-anchor="middle" font-weight="normal" font-style="normal" fill="#2a4218" stroke="#2a4218" stroke-width="0.1" >0%</text>
<text x="457.10" y="129.52" transform="rotate(0.04 457.10 129.52)" font-size="5.15" text-anchor="start" font-weight="bold" font-style="normal" fill="#000" stroke="#000" stroke-width="0.1" >Cldn13</text>
<rect x="369.40" y="130.72" width="17.30" height="6.48" fill="#0070c0"/>
<rect x="386.70" y="130.72" width="18.70" height="6.48" fill="#92d050"/>
<rect x="407.50" y="130.72" width="8.05" height="6.48" fill="#c40000"/>
<rect x="431.65" y="130.72" width="8.05" height="6.48" fill="#0070c0"/>
<rect x="415.55" y="130.72" width="8.05" height="6.48" fill="#d03333"/>
<rect x="439.70" y="130.72" width="8.05" height="6.48" fill="#0070c0"/>
<rect x="423.60" y="130.72" width="8.05" height="6.48" fill="#c40000"/>
<rect x="447.75" y="130.72" width="8.05" height="6.48" fill="#2685c9"/>
<text x="378.05" y="135.66" transform="rotate(0.04 378.05 135.66)" font-size="5.0" text-anchor="middle" font-weight="normal" font-style="normal" fill="#08264d" stroke="#08264d" stroke-width="0.1" >-6.0</text>
<text x="396.05" y="135.66" transform="rotate(0.04 396.05 135.66)" font-size="5.0" text-anchor="middle" font-weight="normal" font-style="normal" fill="#2a4218" stroke="#2a4218" stroke-width="0.1" >0%</text>
<text x="457.10" y="136.01" transform="rotate(0.04 457.10 136.01)" font-size="5.15" text-anchor="start" font-weight="bold" font-style="normal" fill="#000" stroke="#000" stroke-width="0.1" >Camk2b</text>
<rect x="369.40" y="137.21" width="17.30" height="6.48" fill="#0070c0"/>
<rect x="386.70" y="137.21" width="18.70" height="6.48" fill="#92d050"/>
<rect x="407.50" y="137.21" width="8.05" height="6.48" fill="#cd2626"/>
<rect x="431.65" y="137.21" width="8.05" height="6.48" fill="#0070c0"/>
<rect x="415.55" y="137.21" width="8.05" height="6.48" fill="#c40000"/>
<rect x="439.70" y="137.21" width="8.05" height="6.48" fill="#2685c9"/>
<rect x="423.60" y="137.21" width="8.05" height="6.48" fill="#cd2626"/>
<rect x="447.75" y="137.21" width="8.05" height="6.48" fill="#0070c0"/>
<text x="378.05" y="142.14" transform="rotate(0.04 378.05 142.14)" font-size="5.0" text-anchor="middle" font-weight="normal" font-style="normal" fill="#08264d" stroke="#08264d" stroke-width="0.1" >-5.7</text>
<text x="396.05" y="142.14" transform="rotate(0.04 396.05 142.14)" font-size="5.0" text-anchor="middle" font-weight="normal" font-style="normal" fill="#2a4218" stroke="#2a4218" stroke-width="0.1" >0%</text>
<text x="457.10" y="142.49" transform="rotate(0.04 457.10 142.49)" font-size="5.15" text-anchor="start" font-weight="bold" font-style="normal" fill="#000" stroke="#000" stroke-width="0.1" >Ank1</text>
<rect x="369.40" y="143.69" width="17.30" height="6.48" fill="#0070c0"/>
<rect x="386.70" y="143.69" width="18.70" height="6.48" fill="#92d050"/>
<rect x="407.50" y="143.69" width="8.05" height="6.48" fill="#c40000"/>
<rect x="431.65" y="143.69" width="8.05" height="6.48" fill="#0070c0"/>
<rect x="415.55" y="143.69" width="8.05" height="6.48" fill="#df7373"/>
<rect x="439.70" y="143.69" width="8.05" height="6.48" fill="#73b0dc"/>
<rect x="423.60" y="143.69" width="8.05" height="6.48" fill="#c40000"/>
<rect x="447.75" y="143.69" width="8.05" height="6.48" fill="#0070c0"/>
<text x="378.05" y="148.62" transform="rotate(0.04 378.05 148.62)" font-size="5.0" text-anchor="middle" font-weight="normal" font-style="normal" fill="#08264d" stroke="#08264d" stroke-width="0.1" >-5.5</text>
<text x="396.05" y="148.62" transform="rotate(0.04 396.05 148.62)" font-size="5.0" text-anchor="middle" font-weight="normal" font-style="normal" fill="#2a4218" stroke="#2a4218" stroke-width="0.1" >0%</text>
<text x="457.10" y="148.98" transform="rotate(0.04 457.10 148.98)" font-size="5.15" text-anchor="start" font-weight="bold" font-style="normal" fill="#000" stroke="#000" stroke-width="0.1" >Gm38843</text>
<rect x="369.40" y="150.18" width="17.30" height="6.48" fill="#0070c0"/>
<rect x="386.70" y="150.18" width="18.70" height="6.48" fill="#92d050"/>
<rect x="407.50" y="150.18" width="8.05" height="6.48" fill="#c40000"/>
<rect x="431.65" y="150.18" width="8.05" height="6.48" fill="#0070c0"/>
<rect x="415.55" y="150.18" width="8.05" height="6.48" fill="#d03333"/>
<rect x="439.70" y="150.18" width="8.05" height="6.48" fill="#2685c9"/>
<rect x="423.60" y="150.18" width="8.05" height="6.48" fill="#ca1a1a"/>
<rect x="447.75" y="150.18" width="8.05" height="6.48" fill="#0070c0"/>
<text x="378.05" y="155.11" transform="rotate(0.04 378.05 155.11)" font-size="5.0" text-anchor="middle" font-weight="normal" font-style="normal" fill="#08264d" stroke="#08264d" stroke-width="0.1" >-5.5</text>
<text x="396.05" y="155.11" transform="rotate(0.04 396.05 155.11)" font-size="5.0" text-anchor="middle" font-weight="normal" font-style="normal" fill="#2a4218" stroke="#2a4218" stroke-width="0.1" >0%</text>
<text x="457.10" y="155.46" transform="rotate(0.04 457.10 155.46)" font-size="5.15" text-anchor="start" font-weight="bold" font-style="normal" fill="#000" stroke="#000" stroke-width="0.1" >Fam213a</text>
<rect x="369.40" y="156.66" width="17.30" height="6.48" fill="#0070c0"/>
<rect x="386.70" y="156.66" width="18.70" height="6.48" fill="#92d050"/>
<rect x="407.50" y="156.66" width="8.05" height="6.48" fill="#c40000"/>
<rect x="431.65" y="156.66" width="8.05" height="6.48" fill="#0070c0"/>
<rect x="415.55" y="156.66" width="8.05" height="6.48" fill="#c40000"/>
<rect x="439.70" y="156.66" width="8.05" height="6.48" fill="#0070c0"/>
<rect x="423.60" y="156.66" width="8.05" height="6.48" fill="#c40000"/>
<rect x="447.75" y="156.66" width="8.05" height="6.48" fill="#0070c0"/>
<text x="378.05" y="161.59" transform="rotate(0.04 378.05 161.59)" font-size="5.0" text-anchor="middle" font-weight="normal" font-style="normal" fill="#08264d" stroke="#08264d" stroke-width="0.1" >-5.4</text>
<text x="396.05" y="161.59" transform="rotate(0.04 396.05 161.59)" font-size="5.0" text-anchor="middle" font-weight="normal" font-style="normal" fill="#2a4218" stroke="#2a4218" stroke-width="0.1" >0%</text>
<text x="457.10" y="161.94" transform="rotate(0.04 457.10 161.94)" font-size="5.15" text-anchor="start" font-weight="bold" font-style="normal" fill="#000" stroke="#000" stroke-width="0.1" >Kif23</text>
<rect x="369.40" y="163.14" width="17.30" height="6.48" fill="#0070c0"/>
<rect x="386.70" y="163.14" width="18.70" height="6.48" fill="#99d35a"/>
<rect x="407.50" y="163.14" width="8.05" height="6.48" fill="#e99e9e"/>
<rect x="431.65" y="163.14" width="8.05" height="6.48" fill="#0070c0"/>
<rect x="415.55" y="163.14" width="8.05" height="6.48" fill="#c40000"/>
<rect x="439.70" y="163.14" width="8.05" height="6.48" fill="#9ec9e7"/>
<rect x="423.60" y="163.14" width="8.05" height="6.48" fill="#c40000"/>
<rect x="447.75" y="163.14" width="8.05" height="6.48" fill="#0070c0"/>
<text x="378.05" y="168.08" transform="rotate(0.04 378.05 168.08)" font-size="5.0" text-anchor="middle" font-weight="normal" font-style="normal" fill="#08264d" stroke="#08264d" stroke-width="0.1" >-5.4</text>
<text x="396.05" y="168.08" transform="rotate(0.04 396.05 168.08)" font-size="5.0" text-anchor="middle" font-weight="normal" font-style="normal" fill="#2a4218" stroke="#2a4218" stroke-width="0.1" >1%</text>
<text x="457.10" y="168.43" transform="rotate(0.04 457.10 168.43)" font-size="5.15" text-anchor="start" font-weight="bold" font-style="normal" fill="#000" stroke="#000" stroke-width="0.1" >Add2</text>
<rect x="369.40" y="169.63" width="17.30" height="6.48" fill="#0070c0"/>
<rect x="386.70" y="169.63" width="18.70" height="6.48" fill="#92d050"/>
<rect x="407.50" y="169.63" width="8.05" height="6.48" fill="#c40000"/>
<rect x="431.65" y="169.63" width="8.05" height="6.48" fill="#c7e0f1"/>
<rect x="415.55" y="169.63" width="8.05" height="6.48" fill="#f2c7c7"/>
<rect x="439.70" y="169.63" width="8.05" height="6.48" fill="#59a2d6"/>
<rect x="423.60" y="169.63" width="8.05" height="6.48" fill="#c40000"/>
<rect x="447.75" y="169.63" width="8.05" height="6.48" fill="#4c9bd3"/>
<text x="378.05" y="174.56" transform="rotate(0.04 378.05 174.56)" font-size="5.0" text-anchor="middle" font-weight="normal" font-style="normal" fill="#08264d" stroke="#08264d" stroke-width="0.1" >-5.2</text>
<text x="396.05" y="174.56" transform="rotate(0.04 396.05 174.56)" font-size="5.0" text-anchor="middle" font-weight="normal" font-style="normal" fill="#2a4218" stroke="#2a4218" stroke-width="0.1" >0%</text>
<text x="457.10" y="174.91" transform="rotate(0.04 457.10 174.91)" font-size="5.15" text-anchor="start" font-weight="bold" font-style="normal" fill="#000" stroke="#000" stroke-width="0.1" >Gm43175</text>
<rect x="369.40" y="176.11" width="17.30" height="6.48" fill="#0070c0"/>
<rect x="386.70" y="176.11" width="18.70" height="6.48" fill="#99d35a"/>
<rect x="407.50" y="176.11" width="8.05" height="6.48" fill="#c40000"/>
<rect x="431.65" y="176.11" width="8.05" height="6.48" fill="#0070c0"/>
<rect x="415.55" y="176.11" width="8.05" height="6.48" fill="#d95959"/>
<rect x="439.70" y="176.11" width="8.05" height="6.48" fill="#59a2d6"/>
<rect x="423.60" y="176.11" width="8.05" height="6.48" fill="#c40000"/>
<rect x="447.75" y="176.11" width="8.05" height="6.48" fill="#0070c0"/>
<text x="378.05" y="181.05" transform="rotate(0.04 378.05 181.05)" font-size="5.0" text-anchor="middle" font-weight="normal" font-style="normal" fill="#08264d" stroke="#08264d" stroke-width="0.1" >-5.1</text>
<text x="396.05" y="181.05" transform="rotate(0.04 396.05 181.05)" font-size="5.0" text-anchor="middle" font-weight="normal" font-style="normal" fill="#2a4218" stroke="#2a4218" stroke-width="0.1" >1%</text>
<text x="457.10" y="181.40" transform="rotate(0.04 457.10 181.40)" font-size="5.15" text-anchor="start" font-weight="bold" font-style="normal" fill="#000" stroke="#000" stroke-width="0.1" >Rpgrip1</text>
<rect x="369.40" y="182.60" width="17.30" height="6.48" fill="#0070c0"/>
<rect x="386.70" y="182.60" width="18.70" height="6.48" fill="#92d050"/>
<rect x="407.50" y="182.60" width="8.05" height="6.48" fill="#ca1a1a"/>
<rect x="431.65" y="182.60" width="8.05" height="6.48" fill="#0070c0"/>
<rect x="415.55" y="182.60" width="8.05" height="6.48" fill="#ca1a1a"/>
<rect x="439.70" y="182.60" width="8.05" height="6.48" fill="#2685c9"/>
<rect x="423.60" y="182.60" width="8.05" height="6.48" fill="#c40000"/>
<rect x="447.75" y="182.60" width="8.05" height="6.48" fill="#0070c0"/>
<text x="378.05" y="187.53" transform="rotate(0.04 378.05 187.53)" font-size="5.0" text-anchor="middle" font-weight="normal" font-style="normal" fill="#08264d" stroke="#08264d" stroke-width="0.1" >-5.0</text>
<text x="396.05" y="187.53" transform="rotate(0.04 396.05 187.53)" font-size="5.0" text-anchor="middle" font-weight="normal" font-style="normal" fill="#2a4218" stroke="#2a4218" stroke-width="0.1" >0%</text>
<text x="457.10" y="187.88" transform="rotate(0.04 457.10 187.88)" font-size="5.15" text-anchor="start" font-weight="bold" font-style="normal" fill="#000" stroke="#000" stroke-width="0.1" >Aldh1a1</text>
<rect x="369.40" y="189.08" width="17.30" height="6.48" fill="#0070c0"/>
<rect x="386.70" y="189.08" width="18.70" height="6.48" fill="#bbe292"/>
<rect x="407.50" y="189.08" width="8.05" height="6.48" fill="#d64c4c"/>
<rect x="431.65" y="189.08" width="8.05" height="6.48" fill="#0070c0"/>
<rect x="415.55" y="189.08" width="8.05" height="6.48" fill="#d64c4c"/>
<rect x="439.70" y="189.08" width="8.05" height="6.48" fill="#4c9bd3"/>
<rect x="423.60" y="189.08" width="8.05" height="6.48" fill="#d95959"/>
<rect x="447.75" y="189.08" width="8.05" height="6.48" fill="#0070c0"/>
<text x="378.05" y="194.02" transform="rotate(0.04 378.05 194.02)" font-size="5.0" text-anchor="middle" font-weight="normal" font-style="normal" fill="#08264d" stroke="#08264d" stroke-width="0.1" >-4.8</text>
<text x="396.05" y="194.02" transform="rotate(0.04 396.05 194.02)" font-size="5.0" text-anchor="middle" font-weight="normal" font-style="normal" fill="#2a4218" stroke="#2a4218" stroke-width="0.1" >3%</text>
<text x="457.10" y="194.37" transform="rotate(0.04 457.10 194.37)" font-size="5.15" text-anchor="start" font-weight="bold" font-style="normal" fill="#000" stroke="#000" stroke-width="0.1" >Tlr5</text>
<rect x="369.40" y="195.57" width="17.30" height="6.48" fill="#0070c0"/>
<rect x="386.70" y="195.57" width="18.70" height="6.48" fill="#d1ebb6"/>
<rect x="407.50" y="195.57" width="8.05" height="6.48" fill="#d64c4c"/>
<rect x="431.65" y="195.57" width="8.05" height="6.48" fill="#8cbfe3"/>
<rect x="415.55" y="195.57" width="8.05" height="6.48" fill="#c40000"/>
<rect x="439.70" y="195.57" width="8.05" height="6.48" fill="#0070c0"/>
<rect x="423.60" y="195.57" width="8.05" height="6.48" fill="#e48c8c"/>
<rect x="447.75" y="195.57" width="8.05" height="6.48" fill="#0070c0"/>
<text x="378.05" y="200.50" transform="rotate(0.04 378.05 200.50)" font-size="5.0" text-anchor="middle" font-weight="normal" font-style="normal" fill="#08264d" stroke="#08264d" stroke-width="0.1" >-4.8</text>
<text x="396.05" y="200.50" transform="rotate(0.04 396.05 200.50)" font-size="5.0" text-anchor="middle" font-weight="normal" font-style="normal" fill="#2a4218" stroke="#2a4218" stroke-width="0.1" >5%</text>
<text x="457.10" y="200.85" transform="rotate(0.04 457.10 200.85)" font-size="5.15" text-anchor="start" font-weight="bold" font-style="normal" fill="#000" stroke="#000" stroke-width="0.1" >Cited4</text>
<rect x="369.40" y="202.05" width="17.30" height="6.48" fill="#0070c0"/>
<rect x="386.70" y="202.05" width="18.70" height="6.48" fill="#92d050"/>
<rect x="407.50" y="202.05" width="8.05" height="6.48" fill="#c40000"/>
<rect x="431.65" y="202.05" width="8.05" height="6.48" fill="#147bc5"/>
<rect x="415.55" y="202.05" width="8.05" height="6.48" fill="#c40000"/>
<rect x="439.70" y="202.05" width="8.05" height="6.48" fill="#147bc5"/>
<rect x="423.60" y="202.05" width="8.05" height="6.48" fill="#c91414"/>
<rect x="447.75" y="202.05" width="8.05" height="6.48" fill="#147bc5"/>
<text x="378.05" y="206.99" transform="rotate(0.04 378.05 206.99)" font-size="5.0" text-anchor="middle" font-weight="normal" font-style="normal" fill="#08264d" stroke="#08264d" stroke-width="0.1" >-4.6</text>
<text x="396.05" y="206.99" transform="rotate(0.04 396.05 206.99)" font-size="5.0" text-anchor="middle" font-weight="normal" font-style="normal" fill="#2a4218" stroke="#2a4218" stroke-width="0.1" >0%</text>
<text x="457.10" y="207.34" transform="rotate(0.04 457.10 207.34)" font-size="5.15" text-anchor="start" font-weight="bold" font-style="normal" fill="#000" stroke="#000" stroke-width="0.1" >Trim10</text>
<rect x="369.40" y="208.54" width="17.30" height="6.48" fill="#0070c0"/>
<rect x="386.70" y="208.54" width="18.70" height="6.48" fill="#99d35a"/>
<rect x="407.50" y="208.54" width="8.05" height="6.48" fill="#dc6666"/>
<rect x="431.65" y="208.54" width="8.05" height="6.48" fill="#59a2d6"/>
<rect x="415.55" y="208.54" width="8.05" height="6.48" fill="#c40000"/>
<rect x="439.70" y="208.54" width="8.05" height="6.48" fill="#59a2d6"/>
<rect x="423.60" y="208.54" width="8.05" height="6.48" fill="#c40000"/>
<rect x="447.75" y="208.54" width="8.05" height="6.48" fill="#0070c0"/>
<text x="378.05" y="213.47" transform="rotate(0.04 378.05 213.47)" font-size="5.0" text-anchor="middle" font-weight="normal" font-style="normal" fill="#08264d" stroke="#08264d" stroke-width="0.1" >-4.5</text>
<text x="396.05" y="213.47" transform="rotate(0.04 396.05 213.47)" font-size="5.0" text-anchor="middle" font-weight="normal" font-style="normal" fill="#2a4218" stroke="#2a4218" stroke-width="0.1" >1%</text>
<text x="457.10" y="213.82" transform="rotate(0.04 457.10 213.82)" font-size="5.15" text-anchor="start" font-weight="bold" font-style="normal" fill="#000" stroke="#000" stroke-width="0.1" >Hebp1</text>
<rect x="369.40" y="215.02" width="17.30" height="6.48" fill="#0070c0"/>
<rect x="386.70" y="215.02" width="18.70" height="6.48" fill="#b3de84"/>
<rect x="407.50" y="215.02" width="8.05" height="6.48" fill="#f9e6e6"/>
<rect x="431.65" y="215.02" width="8.05" height="6.48" fill="#0070c0"/>
<rect x="415.55" y="215.02" width="8.05" height="6.48" fill="#c40000"/>
<rect x="439.70" y="215.02" width="8.05" height="6.48" fill="#e6f1f9"/>
<rect x="423.60" y="215.02" width="8.05" height="6.48" fill="#c40000"/>
<rect x="447.75" y="215.02" width="8.05" height="6.48" fill="#0070c0"/>
<text x="378.05" y="219.95" transform="rotate(0.04 378.05 219.95)" font-size="5.0" text-anchor="middle" font-weight="normal" font-style="normal" fill="#08264d" stroke="#08264d" stroke-width="0.1" >-4.5</text>
<text x="396.05" y="219.95" transform="rotate(0.04 396.05 219.95)" font-size="5.0" text-anchor="middle" font-weight="normal" font-style="normal" fill="#2a4218" stroke="#2a4218" stroke-width="0.1" >2%</text>
<text x="457.10" y="220.30" transform="rotate(0.04 457.10 220.30)" font-size="5.15" text-anchor="start" font-weight="bold" font-style="normal" fill="#000" stroke="#000" stroke-width="0.1" >Ermap</text>
<rect x="369.40" y="221.50" width="17.30" height="6.48" fill="#0070c0"/>
<rect x="386.70" y="221.50" width="18.70" height="6.48" fill="#92d050"/>
<rect x="407.50" y="221.50" width="8.05" height="6.48" fill="#d03333"/>
<rect x="431.65" y="221.50" width="8.05" height="6.48" fill="#0070c0"/>
<rect x="415.55" y="221.50" width="8.05" height="6.48" fill="#c40000"/>
<rect x="439.70" y="221.50" width="8.05" height="6.48" fill="#0070c0"/>
<rect x="423.60" y="221.50" width="8.05" height="6.48" fill="#d64c4c"/>
<rect x="447.75" y="221.50" width="8.05" height="6.48" fill="#4c9bd3"/>
<text x="378.05" y="226.44" transform="rotate(0.04 378.05 226.44)" font-size="5.0" text-anchor="middle" font-weight="normal" font-style="normal" fill="#08264d" stroke="#08264d" stroke-width="0.1" >-4.4</text>
<text x="396.05" y="226.44" transform="rotate(0.04 396.05 226.44)" font-size="5.0" text-anchor="middle" font-weight="normal" font-style="normal" fill="#2a4218" stroke="#2a4218" stroke-width="0.1" >0%</text>
<text x="457.10" y="226.79" transform="rotate(0.04 457.10 226.79)" font-size="5.15" text-anchor="start" font-weight="bold" font-style="normal" fill="#000" stroke="#000" stroke-width="0.1" >Gata1</text>
<rect x="369.40" y="227.99" width="17.30" height="6.48" fill="#0070c0"/>
<rect x="386.70" y="227.99" width="18.70" height="6.48" fill="#92d050"/>
<rect x="407.50" y="227.99" width="8.05" height="6.48" fill="#e48c8c"/>
<rect x="431.65" y="227.99" width="8.05" height="6.48" fill="#0070c0"/>
<rect x="415.55" y="227.99" width="8.05" height="6.48" fill="#d03333"/>
<rect x="439.70" y="227.99" width="8.05" height="6.48" fill="#8cbfe3"/>
<rect x="423.60" y="227.99" width="8.05" height="6.48" fill="#c40000"/>
<rect x="447.75" y="227.99" width="8.05" height="6.48" fill="#0070c0"/>
<text x="378.05" y="232.92" transform="rotate(0.04 378.05 232.92)" font-size="5.0" text-anchor="middle" font-weight="normal" font-style="normal" fill="#08264d" stroke="#08264d" stroke-width="0.1" >-4.4</text>
<text x="396.05" y="232.92" transform="rotate(0.04 396.05 232.92)" font-size="5.0" text-anchor="middle" font-weight="normal" font-style="normal" fill="#2a4218" stroke="#2a4218" stroke-width="0.1" >0%</text>
<text x="457.10" y="233.27" transform="rotate(0.04 457.10 233.27)" font-size="5.15" text-anchor="start" font-weight="bold" font-style="normal" fill="#000" stroke="#000" stroke-width="0.1" >Bpgm</text>
<rect x="369.40" y="234.47" width="17.30" height="6.48" fill="#0070c0"/>
<rect x="386.70" y="234.47" width="18.70" height="6.48" fill="#92d050"/>
<rect x="407.50" y="234.47" width="8.05" height="6.48" fill="#ca1a1a"/>
<rect x="431.65" y="234.47" width="8.05" height="6.48" fill="#0070c0"/>
<rect x="415.55" y="234.47" width="8.05" height="6.48" fill="#cb1f1f"/>
<rect x="439.70" y="234.47" width="8.05" height="6.48" fill="#2685c9"/>
<rect x="423.60" y="234.47" width="8.05" height="6.48" fill="#cd2626"/>
<rect x="447.75" y="234.47" width="8.05" height="6.48" fill="#0070c0"/>
<text x="378.05" y="239.41" transform="rotate(0.04 378.05 239.41)" font-size="5.0" text-anchor="middle" font-weight="normal" font-style="normal" fill="#08264d" stroke="#08264d" stroke-width="0.1" >-4.4</text>
<text x="396.05" y="239.41" transform="rotate(0.04 396.05 239.41)" font-size="5.0" text-anchor="middle" font-weight="normal" font-style="normal" fill="#2a4218" stroke="#2a4218" stroke-width="0.1" >0%</text>
<text x="457.10" y="239.76" transform="rotate(0.04 457.10 239.76)" font-size="5.15" text-anchor="start" font-weight="bold" font-style="normal" fill="#000" stroke="#000" stroke-width="0.1" >Ncam1</text>
<rect x="369.40" y="240.96" width="17.30" height="6.48" fill="#0070c0"/>
<rect x="386.70" y="240.96" width="18.70" height="6.48" fill="#99d35a"/>
<rect x="407.50" y="240.96" width="8.05" height="6.48" fill="#c40000"/>
<rect x="431.65" y="240.96" width="8.05" height="6.48" fill="#4c9bd3"/>
<rect x="415.55" y="240.96" width="8.05" height="6.48" fill="#e79999"/>
<rect x="439.70" y="240.96" width="8.05" height="6.48" fill="#4c9bd3"/>
<rect x="423.60" y="240.96" width="8.05" height="6.48" fill="#c40000"/>
<rect x="447.75" y="240.96" width="8.05" height="6.48" fill="#8cbfe3"/>
<text x="378.05" y="245.89" transform="rotate(0.04 378.05 245.89)" font-size="5.0" text-anchor="middle" font-weight="normal" font-style="normal" fill="#08264d" stroke="#08264d" stroke-width="0.1" >-4.3</text>
<text x="396.05" y="245.89" transform="rotate(0.04 396.05 245.89)" font-size="5.0" text-anchor="middle" font-weight="normal" font-style="normal" fill="#2a4218" stroke="#2a4218" stroke-width="0.1" >1%</text>
<text x="457.10" y="246.24" transform="rotate(0.04 457.10 246.24)" font-size="5.15" text-anchor="start" font-weight="bold" font-style="normal" fill="#000" stroke="#000" stroke-width="0.1" >Myh7</text>
<rect x="369.40" y="247.44" width="17.30" height="6.48" fill="#0070c0"/>
<rect x="386.70" y="247.44" width="18.70" height="6.48" fill="#92d050"/>
<rect x="407.50" y="247.44" width="8.05" height="6.48" fill="#df7373"/>
<rect x="431.65" y="247.44" width="8.05" height="6.48" fill="#0070c0"/>
<rect x="415.55" y="247.44" width="8.05" height="6.48" fill="#c40000"/>
<rect x="439.70" y="247.44" width="8.05" height="6.48" fill="#0070c0"/>
<rect x="423.60" y="247.44" width="8.05" height="6.48" fill="#c40000"/>
<rect x="447.75" y="247.44" width="8.05" height="6.48" fill="#73b0dc"/>
<text x="378.05" y="252.38" transform="rotate(0.04 378.05 252.38)" font-size="5.0" text-anchor="middle" font-weight="normal" font-style="normal" fill="#08264d" stroke="#08264d" stroke-width="0.1" >-4.3</text>
<text x="396.05" y="252.38" transform="rotate(0.04 396.05 252.38)" font-size="5.0" text-anchor="middle" font-weight="normal" font-style="normal" fill="#2a4218" stroke="#2a4218" stroke-width="0.1" >0%</text>
<text x="457.10" y="252.73" transform="rotate(0.04 457.10 252.73)" font-size="5.15" text-anchor="start" font-weight="bold" font-style="normal" fill="#000" stroke="#000" stroke-width="0.1" >Pira2</text>
<rect x="369.40" y="253.93" width="17.30" height="6.48" fill="#0070c0"/>
<rect x="386.70" y="253.93" width="18.70" height="6.48" fill="#bbe292"/>
<rect x="407.50" y="253.93" width="8.05" height="6.48" fill="#c40000"/>
<rect x="431.65" y="253.93" width="8.05" height="6.48" fill="#0070c0"/>
<rect x="415.55" y="253.93" width="8.05" height="6.48" fill="#d34040"/>
<rect x="439.70" y="253.93" width="8.05" height="6.48" fill="#4094d0"/>
<rect x="423.60" y="253.93" width="8.05" height="6.48" fill="#ca1a1a"/>
<rect x="447.75" y="253.93" width="8.05" height="6.48" fill="#0070c0"/>
<text x="378.05" y="258.86" transform="rotate(0.04 378.05 258.86)" font-size="5.0" text-anchor="middle" font-weight="normal" font-style="normal" fill="#08264d" stroke="#08264d" stroke-width="0.1" >-4.1</text>
<text x="396.05" y="258.86" transform="rotate(0.04 396.05 258.86)" font-size="5.0" text-anchor="middle" font-weight="normal" font-style="normal" fill="#2a4218" stroke="#2a4218" stroke-width="0.1" >3%</text>
<text x="457.10" y="259.21" transform="rotate(0.04 457.10 259.21)" font-size="5.15" text-anchor="start" font-weight="bold" font-style="normal" fill="#000" stroke="#000" stroke-width="0.1" >Gypc</text>
<rect x="369.40" y="260.41" width="17.30" height="6.48" fill="#0070c0"/>
<rect x="386.70" y="260.41" width="18.70" height="6.48" fill="#99d35a"/>
<rect x="407.50" y="260.41" width="8.05" height="6.48" fill="#cb1f1f"/>
<rect x="431.65" y="260.41" width="8.05" height="6.48" fill="#2685c9"/>
<rect x="415.55" y="260.41" width="8.05" height="6.48" fill="#c40000"/>
<rect x="439.70" y="260.41" width="8.05" height="6.48" fill="#0070c0"/>
<rect x="423.60" y="260.41" width="8.05" height="6.48" fill="#c70d0d"/>
<rect x="447.75" y="260.41" width="8.05" height="6.48" fill="#0d77c3"/>
<text x="378.05" y="265.35" transform="rotate(0.04 378.05 265.35)" font-size="5.0" text-anchor="middle" font-weight="normal" font-style="normal" fill="#08264d" stroke="#08264d" stroke-width="0.1" >-4.0</text>
<text x="396.05" y="265.35" transform="rotate(0.04 396.05 265.35)" font-size="5.0" text-anchor="middle" font-weight="normal" font-style="normal" fill="#2a4218" stroke="#2a4218" stroke-width="0.1" >1%</text>
<text x="457.10" y="265.70" transform="rotate(0.04 457.10 265.70)" font-size="5.15" text-anchor="start" font-weight="bold" font-style="normal" fill="#000" stroke="#000" stroke-width="0.1" >A330048F15Rik</text>
<rect x="369.40" y="266.90" width="17.30" height="6.48" fill="#0070c0"/>
<rect x="386.70" y="266.90" width="18.70" height="6.48" fill="#92d050"/>
<rect x="407.50" y="266.90" width="8.05" height="6.48" fill="#c40000"/>
<rect x="431.65" y="266.90" width="8.05" height="6.48" fill="#0070c0"/>
<rect x="415.55" y="266.90" width="8.05" height="6.48" fill="#cd2626"/>
<rect x="439.70" y="266.90" width="8.05" height="6.48" fill="#338dcd"/>
<rect x="423.60" y="266.90" width="8.05" height="6.48" fill="#d03333"/>
<rect x="447.75" y="266.90" width="8.05" height="6.48" fill="#0d77c3"/>
<text x="378.05" y="271.83" transform="rotate(0.04 378.05 271.83)" font-size="5.0" text-anchor="middle" font-weight="normal" font-style="normal" fill="#08264d" stroke="#08264d" stroke-width="0.1" >-4.0</text>
<text x="396.05" y="271.83" transform="rotate(0.04 396.05 271.83)" font-size="5.0" text-anchor="middle" font-weight="normal" font-style="normal" fill="#2a4218" stroke="#2a4218" stroke-width="0.1" >0%</text>
<text x="457.10" y="272.18" transform="rotate(0.04 457.10 272.18)" font-size="5.15" text-anchor="start" font-weight="bold" font-style="normal" fill="#000" stroke="#000" stroke-width="0.1" >Gm26782</text>
<rect x="369.40" y="273.38" width="17.30" height="6.48" fill="#0070c0"/>
<rect x="386.70" y="273.38" width="18.70" height="6.48" fill="#c3e59f"/>
<rect x="407.50" y="273.38" width="8.05" height="6.48" fill="#c40000"/>
<rect x="431.65" y="273.38" width="8.05" height="6.48" fill="#cce2f2"/>
<rect x="415.55" y="273.38" width="8.05" height="6.48" fill="#c40000"/>
<rect x="439.70" y="273.38" width="8.05" height="6.48" fill="#8cbfe3"/>
<rect x="423.60" y="273.38" width="8.05" height="6.48" fill="#f3cccc"/>
<rect x="447.75" y="273.38" width="8.05" height="6.48" fill="#0070c0"/>
<text x="378.05" y="278.32" transform="rotate(0.04 378.05 278.32)" font-size="5.0" text-anchor="middle" font-weight="normal" font-style="normal" fill="#08264d" stroke="#08264d" stroke-width="0.1" >-4.0</text>
<text x="396.05" y="278.32" transform="rotate(0.04 396.05 278.32)" font-size="5.0" text-anchor="middle" font-weight="normal" font-style="normal" fill="#2a4218" stroke="#2a4218" stroke-width="0.1" >4%</text>
<text x="457.10" y="278.67" transform="rotate(0.04 457.10 278.67)" font-size="5.15" text-anchor="start" font-weight="bold" font-style="normal" fill="#000" stroke="#000" stroke-width="0.1" >Myh10</text>
<rect x="369.40" y="279.87" width="17.30" height="6.48" fill="#0070c0"/>
<rect x="386.70" y="279.87" width="18.70" height="6.48" fill="#c3e59f"/>
<rect x="407.50" y="279.87" width="8.05" height="6.48" fill="#edb2b2"/>
<rect x="431.65" y="279.87" width="8.05" height="6.48" fill="#99c6e6"/>
<rect x="415.55" y="279.87" width="8.05" height="6.48" fill="#c40000"/>
<rect x="439.70" y="279.87" width="8.05" height="6.48" fill="#66a9d9"/>
<rect x="423.60" y="279.87" width="8.05" height="6.48" fill="#c40000"/>
<rect x="447.75" y="279.87" width="8.05" height="6.48" fill="#0070c0"/>
<text x="378.05" y="284.80" transform="rotate(0.04 378.05 284.80)" font-size="5.0" text-anchor="middle" font-weight="normal" font-style="normal" fill="#08264d" stroke="#08264d" stroke-width="0.1" >-4.0</text>
<text x="396.05" y="284.80" transform="rotate(0.04 396.05 284.80)" font-size="5.0" text-anchor="middle" font-weight="normal" font-style="normal" fill="#2a4218" stroke="#2a4218" stroke-width="0.1" >4%</text>
<text x="457.10" y="285.15" transform="rotate(0.04 457.10 285.15)" font-size="5.15" text-anchor="start" font-weight="bold" font-style="normal" fill="#000" stroke="#000" stroke-width="0.1" >Parvb</text>
<line x1="369.40" y1="13.55" x2="405.40" y2="13.55" stroke="#333" stroke-width="0.35"/>
<line x1="407.50" y1="13.55" x2="455.80" y2="13.55" stroke="#333" stroke-width="0.35"/>
<line x1="369.40" y1="20.48" x2="405.40" y2="20.48" stroke="#000" stroke-width="0.62"/>
<line x1="407.50" y1="20.48" x2="455.80" y2="20.48" stroke="#000" stroke-width="0.62"/>
<line x1="369.40" y1="26.97" x2="405.40" y2="26.97" stroke="#000" stroke-width="0.62"/>
<line x1="407.50" y1="26.97" x2="455.80" y2="26.97" stroke="#000" stroke-width="0.62"/>
<line x1="369.40" y1="33.45" x2="405.40" y2="33.45" stroke="#000" stroke-width="0.62"/>
<line x1="407.50" y1="33.45" x2="455.80" y2="33.45" stroke="#000" stroke-width="0.62"/>
<line x1="369.40" y1="39.94" x2="405.40" y2="39.94" stroke="#000" stroke-width="0.62"/>
<line x1="407.50" y1="39.94" x2="455.80" y2="39.94" stroke="#000" stroke-width="0.62"/>
<line x1="369.40" y1="46.42" x2="405.40" y2="46.42" stroke="#000" stroke-width="0.62"/>
<line x1="407.50" y1="46.42" x2="455.80" y2="46.42" stroke="#000" stroke-width="0.62"/>
<line x1="369.40" y1="52.91" x2="405.40" y2="52.91" stroke="#000" stroke-width="0.62"/>
<line x1="407.50" y1="52.91" x2="455.80" y2="52.91" stroke="#000" stroke-width="0.62"/>
<line x1="369.40" y1="59.39" x2="405.40" y2="59.39" stroke="#000" stroke-width="0.62"/>
<line x1="407.50" y1="59.39" x2="455.80" y2="59.39" stroke="#000" stroke-width="0.62"/>
<line x1="369.40" y1="65.88" x2="405.40" y2="65.88" stroke="#000" stroke-width="0.62"/>
<line x1="407.50" y1="65.88" x2="455.80" y2="65.88" stroke="#000" stroke-width="0.62"/>
<line x1="369.40" y1="72.36" x2="405.40" y2="72.36" stroke="#000" stroke-width="0.62"/>
<line x1="407.50" y1="72.36" x2="455.80" y2="72.36" stroke="#000" stroke-width="0.62"/>
<line x1="369.40" y1="78.85" x2="405.40" y2="78.85" stroke="#000" stroke-width="0.62"/>
<line x1="407.50" y1="78.85" x2="455.80" y2="78.85" stroke="#000" stroke-width="0.62"/>
<line x1="369.40" y1="85.33" x2="405.40" y2="85.33" stroke="#000" stroke-width="0.62"/>
<line x1="407.50" y1="85.33" x2="455.80" y2="85.33" stroke="#000" stroke-width="0.62"/>
<line x1="369.40" y1="91.81" x2="405.40" y2="91.81" stroke="#000" stroke-width="0.62"/>
<line x1="407.50" y1="91.81" x2="455.80" y2="91.81" stroke="#000" stroke-width="0.62"/>
<line x1="369.40" y1="98.30" x2="405.40" y2="98.30" stroke="#000" stroke-width="0.62"/>
<line x1="407.50" y1="98.30" x2="455.80" y2="98.30" stroke="#000" stroke-width="0.62"/>
<line x1="369.40" y1="104.78" x2="405.40" y2="104.78" stroke="#000" stroke-width="0.62"/>
<line x1="407.50" y1="104.78" x2="455.80" y2="104.78" stroke="#000" stroke-width="0.62"/>
<line x1="369.40" y1="111.27" x2="405.40" y2="111.27" stroke="#000" stroke-width="0.62"/>
<line x1="407.50" y1="111.27" x2="455.80" y2="111.27" stroke="#000" stroke-width="0.62"/>
<line x1="369.40" y1="117.75" x2="405.40" y2="117.75" stroke="#000" stroke-width="0.62"/>
<line x1="407.50" y1="117.75" x2="455.80" y2="117.75" stroke="#000" stroke-width="0.62"/>
<line x1="369.40" y1="124.24" x2="405.40" y2="124.24" stroke="#000" stroke-width="0.62"/>
<line x1="407.50" y1="124.24" x2="455.80" y2="124.24" stroke="#000" stroke-width="0.62"/>
<line x1="369.40" y1="130.72" x2="405.40" y2="130.72" stroke="#000" stroke-width="0.62"/>
<line x1="407.50" y1="130.72" x2="455.80" y2="130.72" stroke="#000" stroke-width="0.62"/>
<line x1="369.40" y1="137.21" x2="405.40" y2="137.21" stroke="#000" stroke-width="0.62"/>
<line x1="407.50" y1="137.21" x2="455.80" y2="137.21" stroke="#000" stroke-width="0.62"/>
<line x1="369.40" y1="143.69" x2="405.40" y2="143.69" stroke="#000" stroke-width="0.62"/>
<line x1="407.50" y1="143.69" x2="455.80" y2="143.69" stroke="#000" stroke-width="0.62"/>
<line x1="369.40" y1="150.18" x2="405.40" y2="150.18" stroke="#000" stroke-width="0.62"/>
<line x1="407.50" y1="150.18" x2="455.80" y2="150.18" stroke="#000" stroke-width="0.62"/>
<line x1="369.40" y1="156.66" x2="405.40" y2="156.66" stroke="#000" stroke-width="0.62"/>
<line x1="407.50" y1="156.66" x2="455.80" y2="156.66" stroke="#000" stroke-width="0.62"/>
<line x1="369.40" y1="163.14" x2="405.40" y2="163.14" stroke="#000" stroke-width="0.62"/>
<line x1="407.50" y1="163.14" x2="455.80" y2="163.14" stroke="#000" stroke-width="0.62"/>
<line x1="369.40" y1="169.63" x2="405.40" y2="169.63" stroke="#000" stroke-width="0.62"/>
<line x1="407.50" y1="169.63" x2="455.80" y2="169.63" stroke="#000" stroke-width="0.62"/>
<line x1="369.40" y1="176.11" x2="405.40" y2="176.11" stroke="#000" stroke-width="0.62"/>
<line x1="407.50" y1="176.11" x2="455.80" y2="176.11" stroke="#000" stroke-width="0.62"/>
<line x1="369.40" y1="182.60" x2="405.40" y2="182.60" stroke="#000" stroke-width="0.62"/>
<line x1="407.50" y1="182.60" x2="455.80" y2="182.60" stroke="#000" stroke-width="0.62"/>
<line x1="369.40" y1="189.08" x2="405.40" y2="189.08" stroke="#000" stroke-width="0.62"/>
<line x1="407.50" y1="189.08" x2="455.80" y2="189.08" stroke="#000" stroke-width="0.62"/>
<line x1="369.40" y1="195.57" x2="405.40" y2="195.57" stroke="#000" stroke-width="0.62"/>
<line x1="407.50" y1="195.57" x2="455.80" y2="195.57" stroke="#000" stroke-width="0.62"/>
<line x1="369.40" y1="202.05" x2="405.40" y2="202.05" stroke="#000" stroke-width="0.62"/>
<line x1="407.50" y1="202.05" x2="455.80" y2="202.05" stroke="#000" stroke-width="0.62"/>
<line x1="369.40" y1="208.54" x2="405.40" y2="208.54" stroke="#000" stroke-width="0.62"/>
<line x1="407.50" y1="208.54" x2="455.80" y2="208.54" stroke="#000" stroke-width="0.62"/>
<line x1="369.40" y1="215.02" x2="405.40" y2="215.02" stroke="#000" stroke-width="0.62"/>
<line x1="407.50" y1="215.02" x2="455.80" y2="215.02" stroke="#000" stroke-width="0.62"/>
<line x1="369.40" y1="221.50" x2="405.40" y2="221.50" stroke="#000" stroke-width="0.62"/>
<line x1="407.50" y1="221.50" x2="455.80" y2="221.50" stroke="#000" stroke-width="0.62"/>
<line x1="369.40" y1="227.99" x2="405.40" y2="227.99" stroke="#000" stroke-width="0.62"/>
<line x1="407.50" y1="227.99" x2="455.80" y2="227.99" stroke="#000" stroke-width="0.62"/>
<line x1="369.40" y1="234.47" x2="405.40" y2="234.47" stroke="#000" stroke-width="0.62"/>
<line x1="407.50" y1="234.47" x2="455.80" y2="234.47" stroke="#000" stroke-width="0.62"/>
<line x1="369.40" y1="240.96" x2="405.40" y2="240.96" stroke="#000" stroke-width="0.62"/>
<line x1="407.50" y1="240.96" x2="455.80" y2="240.96" stroke="#000" stroke-width="0.62"/>
<line x1="369.40" y1="247.44" x2="405.40" y2="247.44" stroke="#000" stroke-width="0.62"/>
<line x1="407.50" y1="247.44" x2="455.80" y2="247.44" stroke="#000" stroke-width="0.62"/>
<line x1="369.40" y1="253.93" x2="405.40" y2="253.93" stroke="#000" stroke-width="0.62"/>
<line x1="407.50" y1="253.93" x2="455.80" y2="253.93" stroke="#000" stroke-width="0.62"/>
<line x1="369.40" y1="260.41" x2="405.40" y2="260.41" stroke="#000" stroke-width="0.62"/>
<line x1="407.50" y1="260.41" x2="455.80" y2="260.41" stroke="#000" stroke-width="0.62"/>
<line x1="369.40" y1="266.90" x2="405.40" y2="266.90" stroke="#000" stroke-width="0.62"/>
<line x1="407.50" y1="266.90" x2="455.80" y2="266.90" stroke="#000" stroke-width="0.62"/>
<line x1="369.40" y1="273.38" x2="405.40" y2="273.38" stroke="#000" stroke-width="0.62"/>
<line x1="407.50" y1="273.38" x2="455.80" y2="273.38" stroke="#000" stroke-width="0.62"/>
<line x1="369.40" y1="279.87" x2="405.40" y2="279.87" stroke="#000" stroke-width="0.62"/>
<line x1="407.50" y1="279.87" x2="455.80" y2="279.87" stroke="#000" stroke-width="0.62"/>
<line x1="369.40" y1="286.35" x2="405.40" y2="286.35" stroke="#000" stroke-width="0.62"/>
<line x1="407.50" y1="286.35" x2="455.80" y2="286.35" stroke="#000" stroke-width="0.62"/>
<line x1="369.40" y1="13.55" x2="369.40" y2="286.35" stroke="#000" stroke-width="0.62"/>
<line x1="386.70" y1="13.55" x2="386.70" y2="286.35" stroke="#000" stroke-width="0.62"/>
<line x1="407.50" y1="13.55" x2="407.50" y2="286.35" stroke="#000" stroke-width="0.62"/>
<line x1="415.55" y1="13.55" x2="415.55" y2="286.35" stroke="#000" stroke-width="0.62"/>
<line x1="423.60" y1="13.55" x2="423.60" y2="286.35" stroke="#000" stroke-width="0.62"/>
<line x1="431.65" y1="13.55" x2="431.65" y2="286.35" stroke="#000" stroke-width="0.62"/>
<line x1="439.70" y1="13.55" x2="439.70" y2="286.35" stroke="#000" stroke-width="0.62"/>
<line x1="447.75" y1="13.55" x2="447.75" y2="286.35" stroke="#000" stroke-width="0.62"/>
<line x1="455.80" y1="13.55" x2="455.80" y2="286.35" stroke="#000" stroke-width="0.62"/>
<line x1="455.80" y1="14.10" x2="498.80" y2="14.10" stroke="#222" stroke-width="0.8"/>
<line x1="369.00" y1="286.35" x2="455.80" y2="286.35" stroke="#222" stroke-width="0.8"/>
<rect x="455.80" y="285.70" width="43.00" height="1.35" fill="#a8a8a8"/>
<text x="531.00" y="6.00" transform="rotate(0.04 531.00 6.00)" font-size="5.2" text-anchor="middle" font-weight="bold" font-style="normal" fill="#000" stroke="#000" stroke-width="0.1" >SA/WT</text>
<text x="521.65" y="12.00" transform="rotate(0.04 521.65 12.00)" font-size="5.1" text-anchor="middle" font-weight="normal" font-style="normal" fill="#444" stroke="#444" stroke-width="0.1" >fold</text>
<text x="539.65" y="12.00" transform="rotate(0.04 539.65 12.00)" font-size="5.1" text-anchor="middle" font-weight="normal" font-style="normal" fill="#444" stroke="#444" stroke-width="0.1" >FDR</text>
<text x="563.17" y="6.00" transform="rotate(0.04 563.17 6.00)" font-size="5.2" text-anchor="middle" font-weight="bold" font-style="normal" fill="#000" stroke="#000" stroke-width="0.1" >WT</text>
<text x="587.33" y="6.00" transform="rotate(0.04 587.33 6.00)" font-size="5.2" text-anchor="middle" font-weight="bold" font-style="normal" fill="#000" stroke="#000" stroke-width="0.1" >SA</text>
<text x="555.12" y="12.00" transform="rotate(0.04 555.12 12.00)" font-size="5.1" text-anchor="middle" font-weight="normal" font-style="normal" fill="#444" stroke="#444" stroke-width="0.1" >1</text>
<text x="563.17" y="12.00" transform="rotate(0.04 563.17 12.00)" font-size="5.1" text-anchor="middle" font-weight="normal" font-style="normal" fill="#444" stroke="#444" stroke-width="0.1" >2</text>
<text x="571.23" y="12.00" transform="rotate(0.04 571.23 12.00)" font-size="5.1" text-anchor="middle" font-weight="normal" font-style="normal" fill="#444" stroke="#444" stroke-width="0.1" >3</text>
<text x="579.27" y="12.00" transform="rotate(0.04 579.27 12.00)" font-size="5.1" text-anchor="middle" font-weight="normal" font-style="normal" fill="#444" stroke="#444" stroke-width="0.1" >1</text>
<text x="587.33" y="12.00" transform="rotate(0.04 587.33 12.00)" font-size="5.1" text-anchor="middle" font-weight="normal" font-style="normal" fill="#444" stroke="#444" stroke-width="0.1" >2</text>
<text x="595.38" y="12.00" transform="rotate(0.04 595.38 12.00)" font-size="5.1" text-anchor="middle" font-weight="normal" font-style="normal" fill="#444" stroke="#444" stroke-width="0.1" >3</text>
<text x="600.70" y="12.00" transform="rotate(0.04 600.70 12.00)" font-size="5.2" text-anchor="start" font-weight="bold" font-style="normal" fill="#000" stroke="#000" stroke-width="0.1" >Gene</text>
<rect x="512.00" y="0.90" width="0.80" height="12.75" fill="#555"/>
<line x1="530.30" y1="8.00" x2="530.30" y2="13.65" stroke="#333" stroke-width="0.6"/>
<rect x="548.90" y="1.10" width="2.30" height="285.65" fill="#636363"/>
<line x1="575.25" y1="0.80" x2="575.25" y2="13.65" stroke="#111" stroke-width="0.7"/>
<line x1="599.40" y1="0.80" x2="599.40" y2="13.65" stroke="#111" stroke-width="0.7"/>
<line x1="559.15" y1="8.40" x2="559.15" y2="13.65" stroke="#333" stroke-width="0.5"/>
<line x1="567.20" y1="8.40" x2="567.20" y2="13.65" stroke="#333" stroke-width="0.5"/>
<line x1="583.30" y1="8.40" x2="583.30" y2="13.65" stroke="#333" stroke-width="0.5"/>
<line x1="591.35" y1="8.40" x2="591.35" y2="13.65" stroke="#333" stroke-width="0.5"/>
<rect x="513.00" y="13.20" width="36.00" height="1.00" fill="#c40000"/>
<rect x="530.30" y="13.20" width="18.70" height="1.00" fill="#bbe292"/>
<rect x="551.10" y="13.20" width="24.15" height="1.00" fill="#0070c0"/>
<rect x="575.25" y="13.20" width="24.15" height="1.00" fill="#c40000"/>
<rect x="513.00" y="13.65" width="17.30" height="6.50" fill="#c40000"/>
<rect x="530.30" y="13.65" width="18.70" height="6.50" fill="#bbe292"/>
<rect x="551.10" y="13.65" width="8.05" height="6.50" fill="#0070c0"/>
<rect x="575.25" y="13.65" width="8.05" height="6.50" fill="#c40000"/>
<rect x="559.15" y="13.65" width="8.05" height="6.50" fill="#0070c0"/>
<rect x="583.30" y="13.65" width="8.05" height="6.50" fill="#c40000"/>
<rect x="567.20" y="13.65" width="8.05" height="6.50" fill="#0070c0"/>
<rect x="591.35" y="13.65" width="8.05" height="6.50" fill="#c40000"/>
<text x="521.65" y="18.60" transform="rotate(0.04 521.65 18.60)" font-size="5.0" text-anchor="middle" font-weight="normal" font-style="normal" fill="#4d0000" stroke="#4d0000" stroke-width="0.1" >58.6</text>
<text x="539.65" y="18.60" transform="rotate(0.04 539.65 18.60)" font-size="5.0" text-anchor="middle" font-weight="normal" font-style="normal" fill="#2a4218" stroke="#2a4218" stroke-width="0.1" >3%</text>
<text x="600.70" y="18.95" transform="rotate(0.04 600.70 18.95)" font-size="5.15" text-anchor="start" font-weight="bold" font-style="normal" fill="#000" stroke="#000" stroke-width="0.1" >Gm8420</text>
<rect x="513.00" y="20.15" width="17.30" height="6.50" fill="#c40000"/>
<rect x="530.30" y="20.15" width="18.70" height="6.50" fill="#92d050"/>
<rect x="551.10" y="20.15" width="8.05" height="6.50" fill="#0070c0"/>
<rect x="575.25" y="20.15" width="8.05" height="6.50" fill="#c40000"/>
<rect x="559.15" y="20.15" width="8.05" height="6.50" fill="#0070c0"/>
<rect x="583.30" y="20.15" width="8.05" height="6.50" fill="#c40000"/>
<rect x="567.20" y="20.15" width="8.05" height="6.50" fill="#0070c0"/>
<rect x="591.35" y="20.15" width="8.05" height="6.50" fill="#c40000"/>
<text x="521.65" y="25.10" transform="rotate(0.04 521.65 25.10)" font-size="5.0" text-anchor="middle" font-weight="normal" font-style="normal" fill="#4d0000" stroke="#4d0000" stroke-width="0.1" >28.0</text>
<text x="539.65" y="25.10" transform="rotate(0.04 539.65 25.10)" font-size="5.0" text-anchor="middle" font-weight="normal" font-style="normal" fill="#2a4218" stroke="#2a4218" stroke-width="0.1" >0%</text>
<text x="600.70" y="25.45" transform="rotate(0.04 600.70 25.45)" font-size="5.15" text-anchor="start" font-weight="bold" font-style="normal" fill="#000" stroke="#000" stroke-width="0.1" >Stfa3</text>
<rect x="513.00" y="26.65" width="17.30" height="6.50" fill="#c40000"/>
<rect x="530.30" y="26.65" width="18.70" height="6.50" fill="#92d050"/>
<rect x="551.10" y="26.65" width="8.05" height="6.50" fill="#0070c0"/>
<rect x="575.25" y="26.65" width="8.05" height="6.50" fill="#c40000"/>
<rect x="559.15" y="26.65" width="8.05" height="6.50" fill="#0070c0"/>
<rect x="583.30" y="26.65" width="8.05" height="6.50" fill="#c40000"/>
<rect x="567.20" y="26.65" width="8.05" height="6.50" fill="#0070c0"/>
<rect x="591.35" y="26.65" width="8.05" height="6.50" fill="#c40000"/>
<text x="521.65" y="31.61" transform="rotate(0.04 521.65 31.61)" font-size="5.0" text-anchor="middle" font-weight="normal" font-style="normal" fill="#4d0000" stroke="#4d0000" stroke-width="0.1" >26.7</text>
<text x="539.65" y="31.61" transform="rotate(0.04 539.65 31.61)" font-size="5.0" text-anchor="middle" font-weight="normal" font-style="normal" fill="#2a4218" stroke="#2a4218" stroke-width="0.1" >0%</text>
<text x="600.70" y="31.96" transform="rotate(0.04 600.70 31.96)" font-size="5.15" text-anchor="start" font-weight="bold" font-style="normal" fill="#000" stroke="#000" stroke-width="0.1" >BC100530</text>
<rect x="513.00" y="33.16" width="17.30" height="6.50" fill="#c40000"/>
<rect x="530.30" y="33.16" width="18.70" height="6.50" fill="#92d050"/>
<rect x="551.10" y="33.16" width="8.05" height="6.50" fill="#0070c0"/>
<rect x="575.25" y="33.16" width="8.05" height="6.50" fill="#c40000"/>
<rect x="559.15" y="33.16" width="8.05" height="6.50" fill="#0070c0"/>
<rect x="583.30" y="33.16" width="8.05" height="6.50" fill="#c40000"/>
<rect x="567.20" y="33.16" width="8.05" height="6.50" fill="#0070c0"/>
<rect x="591.35" y="33.16" width="8.05" height="6.50" fill="#c40000"/>
<text x="521.65" y="38.11" transform="rotate(0.04 521.65 38.11)" font-size="5.0" text-anchor="middle" font-weight="normal" font-style="normal" fill="#4d0000" stroke="#4d0000" stroke-width="0.1" >26.5</text>
<text x="539.65" y="38.11" transform="rotate(0.04 539.65 38.11)" font-size="5.0" text-anchor="middle" font-weight="normal" font-style="normal" fill="#2a4218" stroke="#2a4218" stroke-width="0.1" >0%</text>
<text x="600.70" y="38.46" transform="rotate(0.04 600.70 38.46)" font-size="5.15" text-anchor="start" font-weight="bold" font-style="normal" fill="#000" stroke="#000" stroke-width="0.1" >Stfa2</text>
<rect x="513.00" y="39.66" width="17.30" height="6.50" fill="#c40000"/>
<rect x="530.30" y="39.66" width="18.70" height="6.50" fill="#92d050"/>
<rect x="551.10" y="39.66" width="8.05" height="6.50" fill="#0070c0"/>
<rect x="575.25" y="39.66" width="8.05" height="6.50" fill="#c40000"/>
<rect x="559.15" y="39.66" width="8.05" height="6.50" fill="#0070c0"/>
<rect x="583.30" y="39.66" width="8.05" height="6.50" fill="#c40000"/>
<rect x="567.20" y="39.66" width="8.05" height="6.50" fill="#0070c0"/>
<rect x="591.35" y="39.66" width="8.05" height="6.50" fill="#c40000"/>
<text x="521.65" y="44.61" transform="rotate(0.04 521.65 44.61)" font-size="5.0" text-anchor="middle" font-weight="normal" font-style="normal" fill="#4d0000" stroke="#4d0000" stroke-width="0.1" >26.1</text>
<text x="539.65" y="44.61" transform="rotate(0.04 539.65 44.61)" font-size="5.0" text-anchor="middle" font-weight="normal" font-style="normal" fill="#2a4218" stroke="#2a4218" stroke-width="0.1" >0%</text>
<text x="600.70" y="44.96" transform="rotate(0.04 600.70 44.96)" font-size="5.15" text-anchor="start" font-weight="bold" font-style="normal" fill="#000" stroke="#000" stroke-width="0.1" >Gm11942</text>
<rect x="513.00" y="46.16" width="17.30" height="6.50" fill="#c40000"/>
<rect x="530.30" y="46.16" width="18.70" height="6.50" fill="#92d050"/>
<rect x="551.10" y="46.16" width="8.05" height="6.50" fill="#0070c0"/>
<rect x="575.25" y="46.16" width="8.05" height="6.50" fill="#c40000"/>
<rect x="559.15" y="46.16" width="8.05" height="6.50" fill="#0070c0"/>
<rect x="583.30" y="46.16" width="8.05" height="6.50" fill="#c40000"/>
<rect x="567.20" y="46.16" width="8.05" height="6.50" fill="#0070c0"/>
<rect x="591.35" y="46.16" width="8.05" height="6.50" fill="#c40000"/>
<text x="521.65" y="51.11" transform="rotate(0.04 521.65 51.11)" font-size="5.0" text-anchor="middle" font-weight="normal" font-style="normal" fill="#4d0000" stroke="#4d0000" stroke-width="0.1" >20.3</text>
<text x="539.65" y="51.11" transform="rotate(0.04 539.65 51.11)" font-size="5.0" text-anchor="middle" font-weight="normal" font-style="normal" fill="#2a4218" stroke="#2a4218" stroke-width="0.1" >0%</text>
<text x="600.70" y="51.46" transform="rotate(0.04 600.70 51.46)" font-size="5.15" text-anchor="start" font-weight="bold" font-style="normal" fill="#000" stroke="#000" stroke-width="0.1" >Prnp</text>
<rect x="513.00" y="52.66" width="17.30" height="6.50" fill="#c40000"/>
<rect x="530.30" y="52.66" width="18.70" height="6.50" fill="#92d050"/>
<rect x="551.10" y="52.66" width="8.05" height="6.50" fill="#0070c0"/>
<rect x="575.25" y="52.66" width="8.05" height="6.50" fill="#c40000"/>
<rect x="559.15" y="52.66" width="8.05" height="6.50" fill="#0070c0"/>
<rect x="583.30" y="52.66" width="8.05" height="6.50" fill="#c40000"/>
<rect x="567.20" y="52.66" width="8.05" height="6.50" fill="#0070c0"/>
<rect x="591.35" y="52.66" width="8.05" height="6.50" fill="#c40000"/>
<text x="521.65" y="57.62" transform="rotate(0.04 521.65 57.62)" font-size="5.0" text-anchor="middle" font-weight="normal" font-style="normal" fill="#4d0000" stroke="#4d0000" stroke-width="0.1" >18.5</text>
<text x="539.65" y="57.62" transform="rotate(0.04 539.65 57.62)" font-size="5.0" text-anchor="middle" font-weight="normal" font-style="normal" fill="#2a4218" stroke="#2a4218" stroke-width="0.1" >0%</text>
<text x="600.70" y="57.97" transform="rotate(0.04 600.70 57.97)" font-size="5.15" text-anchor="start" font-weight="bold" font-style="normal" fill="#000" stroke="#000" stroke-width="0.1" >2010005H15Rik</text>
<rect x="513.00" y="59.17" width="17.30" height="6.50" fill="#c40000"/>
<rect x="530.30" y="59.17" width="18.70" height="6.50" fill="#92d050"/>
<rect x="551.10" y="59.17" width="8.05" height="6.50" fill="#0070c0"/>
<rect x="575.25" y="59.17" width="8.05" height="6.50" fill="#c40000"/>
<rect x="559.15" y="59.17" width="8.05" height="6.50" fill="#0070c0"/>
<rect x="583.30" y="59.17" width="8.05" height="6.50" fill="#c40000"/>
<rect x="567.20" y="59.17" width="8.05" height="6.50" fill="#0070c0"/>
<rect x="591.35" y="59.17" width="8.05" height="6.50" fill="#c40000"/>
<text x="521.65" y="64.12" transform="rotate(0.04 521.65 64.12)" font-size="5.0" text-anchor="middle" font-weight="normal" font-style="normal" fill="#4d0000" stroke="#4d0000" stroke-width="0.1" >15.7</text>
<text x="539.65" y="64.12" transform="rotate(0.04 539.65 64.12)" font-size="5.0" text-anchor="middle" font-weight="normal" font-style="normal" fill="#2a4218" stroke="#2a4218" stroke-width="0.1" >0%</text>
<text x="600.70" y="64.47" transform="rotate(0.04 600.70 64.47)" font-size="5.15" text-anchor="start" font-weight="bold" font-style="normal" fill="#000" stroke="#000" stroke-width="0.1" >BC117090</text>
<rect x="513.00" y="65.67" width="17.30" height="6.50" fill="#c40000"/>
<rect x="530.30" y="65.67" width="18.70" height="6.50" fill="#92d050"/>
<rect x="551.10" y="65.67" width="8.05" height="6.50" fill="#0070c0"/>
<rect x="575.25" y="65.67" width="8.05" height="6.50" fill="#c40000"/>
<rect x="559.15" y="65.67" width="8.05" height="6.50" fill="#0070c0"/>
<rect x="583.30" y="65.67" width="8.05" height="6.50" fill="#c40000"/>
<rect x="567.20" y="65.67" width="8.05" height="6.50" fill="#0070c0"/>
<rect x="591.35" y="65.67" width="8.05" height="6.50" fill="#c40000"/>
<text x="521.65" y="70.62" transform="rotate(0.04 521.65 70.62)" font-size="5.0" text-anchor="middle" font-weight="normal" font-style="normal" fill="#4d0000" stroke="#4d0000" stroke-width="0.1" >14.6</text>
<text x="539.65" y="70.62" transform="rotate(0.04 539.65 70.62)" font-size="5.0" text-anchor="middle" font-weight="normal" font-style="normal" fill="#2a4218" stroke="#2a4218" stroke-width="0.1" >0%</text>
<text x="600.70" y="70.97" transform="rotate(0.04 600.70 70.97)" font-size="5.15" text-anchor="start" font-weight="bold" font-style="normal" fill="#000" stroke="#000" stroke-width="0.1" >Stfa1</text>
<rect x="513.00" y="72.17" width="17.30" height="6.50" fill="#c40000"/>
<rect x="530.30" y="72.17" width="18.70" height="6.50" fill="#92d050"/>
<rect x="551.10" y="72.17" width="8.05" height="6.50" fill="#0070c0"/>
<rect x="575.25" y="72.17" width="8.05" height="6.50" fill="#c40000"/>
<rect x="559.15" y="72.17" width="8.05" height="6.50" fill="#0070c0"/>
<rect x="583.30" y="72.17" width="8.05" height="6.50" fill="#c40000"/>
<rect x="567.20" y="72.17" width="8.05" height="6.50" fill="#0070c0"/>
<rect x="591.35" y="72.17" width="8.05" height="6.50" fill="#c40000"/>
<text x="521.65" y="77.12" transform="rotate(0.04 521.65 77.12)" font-size="5.0" text-anchor="middle" font-weight="normal" font-style="normal" fill="#4d0000" stroke="#4d0000" stroke-width="0.1" >13.8</text>
<text x="539.65" y="77.12" transform="rotate(0.04 539.65 77.12)" font-size="5.0" text-anchor="middle" font-weight="normal" font-style="normal" fill="#2a4218" stroke="#2a4218" stroke-width="0.1" >0%</text>
<text x="600.70" y="77.47" transform="rotate(0.04 600.70 77.47)" font-size="5.15" text-anchor="start" font-weight="bold" font-style="normal" fill="#000" stroke="#000" stroke-width="0.1" >Saa3</text>
<rect x="513.00" y="78.67" width="17.30" height="6.50" fill="#c40000"/>
<rect x="530.30" y="78.67" width="18.70" height="6.50" fill="#92d050"/>
<rect x="551.10" y="78.67" width="8.05" height="6.50" fill="#0070c0"/>
<rect x="575.25" y="78.67" width="8.05" height="6.50" fill="#c40000"/>
<rect x="559.15" y="78.67" width="8.05" height="6.50" fill="#0070c0"/>
<rect x="583.30" y="78.67" width="8.05" height="6.50" fill="#c40000"/>
<rect x="567.20" y="78.67" width="8.05" height="6.50" fill="#0070c0"/>
<rect x="591.35" y="78.67" width="8.05" height="6.50" fill="#c40000"/>
<text x="521.65" y="83.63" transform="rotate(0.04 521.65 83.63)" font-size="5.0" text-anchor="middle" font-weight="normal" font-style="normal" fill="#4d0000" stroke="#4d0000" stroke-width="0.1" >13.1</text>
<text x="539.65" y="83.63" transform="rotate(0.04 539.65 83.63)" font-size="5.0" text-anchor="middle" font-weight="normal" font-style="normal" fill="#2a4218" stroke="#2a4218" stroke-width="0.1" >0%</text>
<text x="600.70" y="83.98" transform="rotate(0.04 600.70 83.98)" font-size="5.15" text-anchor="start" font-weight="bold" font-style="normal" fill="#000" stroke="#000" stroke-width="0.1" >Hist1h4m</text>
<rect x="513.00" y="85.18" width="17.30" height="6.50" fill="#c40000"/>
<rect x="530.30" y="85.18" width="18.70" height="6.50" fill="#92d050"/>
<rect x="551.10" y="85.18" width="8.05" height="6.50" fill="#0070c0"/>
<rect x="575.25" y="85.18" width="8.05" height="6.50" fill="#c40000"/>
<rect x="559.15" y="85.18" width="8.05" height="6.50" fill="#0070c0"/>
<rect x="583.30" y="85.18" width="8.05" height="6.50" fill="#c40000"/>
<rect x="567.20" y="85.18" width="8.05" height="6.50" fill="#0070c0"/>
<rect x="591.35" y="85.18" width="8.05" height="6.50" fill="#c40000"/>
<text x="521.65" y="90.13" transform="rotate(0.04 521.65 90.13)" font-size="5.0" text-anchor="middle" font-weight="normal" font-style="normal" fill="#4d0000" stroke="#4d0000" stroke-width="0.1" >10.4</text>
<text x="539.65" y="90.13" transform="rotate(0.04 539.65 90.13)" font-size="5.0" text-anchor="middle" font-weight="normal" font-style="normal" fill="#2a4218" stroke="#2a4218" stroke-width="0.1" >0%</text>
<text x="600.70" y="90.48" transform="rotate(0.04 600.70 90.48)" font-size="5.15" text-anchor="start" font-weight="bold" font-style="normal" fill="#000" stroke="#000" stroke-width="0.1" >Mt1</text>
<rect x="513.00" y="91.68" width="17.30" height="6.50" fill="#c40000"/>
<rect x="530.30" y="91.68" width="18.70" height="6.50" fill="#92d050"/>
<rect x="551.10" y="91.68" width="8.05" height="6.50" fill="#0070c0"/>
<rect x="575.25" y="91.68" width="8.05" height="6.50" fill="#c40000"/>
<rect x="559.15" y="91.68" width="8.05" height="6.50" fill="#1a7ec6"/>
<rect x="583.30" y="91.68" width="8.05" height="6.50" fill="#ca1a1a"/>
<rect x="567.20" y="91.68" width="8.05" height="6.50" fill="#0070c0"/>
<rect x="591.35" y="91.68" width="8.05" height="6.50" fill="#c40000"/>
<text x="521.65" y="96.63" transform="rotate(0.04 521.65 96.63)" font-size="5.0" text-anchor="middle" font-weight="normal" font-style="normal" fill="#4d0000" stroke="#4d0000" stroke-width="0.1" >9.3</text>
<text x="539.65" y="96.63" transform="rotate(0.04 539.65 96.63)" font-size="5.0" text-anchor="middle" font-weight="normal" font-style="normal" fill="#2a4218" stroke="#2a4218" stroke-width="0.1" >0%</text>
<text x="600.70" y="96.98" transform="rotate(0.04 600.70 96.98)" font-size="5.15" text-anchor="start" font-weight="bold" font-style="normal" fill="#000" stroke="#000" stroke-width="0.1" >Errfi1</text>
<rect x="513.00" y="98.18" width="17.30" height="6.50" fill="#c40000"/>
<rect x="530.30" y="98.18" width="18.70" height="6.50" fill="#92d050"/>
<rect x="551.10" y="98.18" width="8.05" height="6.50" fill="#0070c0"/>
<rect x="575.25" y="98.18" width="8.05" height="6.50" fill="#c40000"/>
<rect x="559.15" y="98.18" width="8.05" height="6.50" fill="#0070c0"/>
<rect x="583.30" y="98.18" width="8.05" height="6.50" fill="#c40000"/>
<rect x="567.20" y="98.18" width="8.05" height="6.50" fill="#0070c0"/>
<rect x="591.35" y="98.18" width="8.05" height="6.50" fill="#c40000"/>
<text x="521.65" y="103.13" transform="rotate(0.04 521.65 103.13)" font-size="5.0" text-anchor="middle" font-weight="normal" font-style="normal" fill="#4d0000" stroke="#4d0000" stroke-width="0.1" >9.3</text>
<text x="539.65" y="103.13" transform="rotate(0.04 539.65 103.13)" font-size="5.0" text-anchor="middle" font-weight="normal" font-style="normal" fill="#2a4218" stroke="#2a4218" stroke-width="0.1" >0%</text>
<text x="600.70" y="103.48" transform="rotate(0.04 600.70 103.48)" font-size="5.15" text-anchor="start" font-weight="bold" font-style="normal" fill="#000" stroke="#000" stroke-width="0.1" >Rptoros</text>
<rect x="513.00" y="104.68" width="17.30" height="6.50" fill="#c40000"/>
<rect x="530.30" y="104.68" width="18.70" height="6.50" fill="#92d050"/>
<rect x="551.10" y="104.68" width="8.05" height="6.50" fill="#0070c0"/>
<rect x="575.25" y="104.68" width="8.05" height="6.50" fill="#c40000"/>
<rect x="559.15" y="104.68" width="8.05" height="6.50" fill="#0070c0"/>
<rect x="583.30" y="104.68" width="8.05" height="6.50" fill="#c40000"/>
<rect x="567.20" y="104.68" width="8.05" height="6.50" fill="#0070c0"/>
<rect x="591.35" y="104.68" width="8.05" height="6.50" fill="#c40000"/>
<text x="521.65" y="109.64" transform="rotate(0.04 521.65 109.64)" font-size="5.0" text-anchor="middle" font-weight="normal" font-style="normal" fill="#4d0000" stroke="#4d0000" stroke-width="0.1" >9.2</text>
<text x="539.65" y="109.64" transform="rotate(0.04 539.65 109.64)" font-size="5.0" text-anchor="middle" font-weight="normal" font-style="normal" fill="#2a4218" stroke="#2a4218" stroke-width="0.1" >0%</text>
<text x="600.70" y="109.99" transform="rotate(0.04 600.70 109.99)" font-size="5.15" text-anchor="start" font-weight="bold" font-style="normal" fill="#000" stroke="#000" stroke-width="0.1" >Gab1</text>
<rect x="513.00" y="111.19" width="17.30" height="6.50" fill="#c40000"/>
<rect x="530.30" y="111.19" width="18.70" height="6.50" fill="#92d050"/>
<rect x="551.10" y="111.19" width="8.05" height="6.50" fill="#0070c0"/>
<rect x="575.25" y="111.19" width="8.05" height="6.50" fill="#c40000"/>
<rect x="559.15" y="111.19" width="8.05" height="6.50" fill="#0070c0"/>
<rect x="583.30" y="111.19" width="8.05" height="6.50" fill="#c40000"/>
<rect x="567.20" y="111.19" width="8.05" height="6.50" fill="#0070c0"/>
<rect x="591.35" y="111.19" width="8.05" height="6.50" fill="#c40000"/>
<text x="521.65" y="116.14" transform="rotate(0.04 521.65 116.14)" font-size="5.0" text-anchor="middle" font-weight="normal" font-style="normal" fill="#4d0000" stroke="#4d0000" stroke-width="0.1" >9.0</text>
<text x="539.65" y="116.14" transform="rotate(0.04 539.65 116.14)" font-size="5.0" text-anchor="middle" font-weight="normal" font-style="normal" fill="#2a4218" stroke="#2a4218" stroke-width="0.1" >0%</text>
<text x="600.70" y="116.49" transform="rotate(0.04 600.70 116.49)" font-size="5.15" text-anchor="start" font-weight="bold" font-style="normal" fill="#000" stroke="#000" stroke-width="0.1" >Rptor</text>
<rect x="513.00" y="117.69" width="17.30" height="6.50" fill="#c40000"/>
<rect x="530.30" y="117.69" width="18.70" height="6.50" fill="#92d050"/>
<rect x="551.10" y="117.69" width="8.05" height="6.50" fill="#0070c0"/>
<rect x="575.25" y="117.69" width="8.05" height="6.50" fill="#c40000"/>
<rect x="559.15" y="117.69" width="8.05" height="6.50" fill="#0070c0"/>
<rect x="583.30" y="117.69" width="8.05" height="6.50" fill="#c40000"/>
<rect x="567.20" y="117.69" width="8.05" height="6.50" fill="#0070c0"/>
<rect x="591.35" y="117.69" width="8.05" height="6.50" fill="#c40000"/>
<text x="521.65" y="122.64" transform="rotate(0.04 521.65 122.64)" font-size="5.0" text-anchor="middle" font-weight="normal" font-style="normal" fill="#4d0000" stroke="#4d0000" stroke-width="0.1" >8.5</text>
<text x="539.65" y="122.64" transform="rotate(0.04 539.65 122.64)" font-size="5.0" text-anchor="middle" font-weight="normal" font-style="normal" fill="#2a4218" stroke="#2a4218" stroke-width="0.1" >0%</text>
<text x="600.70" y="122.99" transform="rotate(0.04 600.70 122.99)" font-size="5.15" text-anchor="start" font-weight="bold" font-style="normal" fill="#000" stroke="#000" stroke-width="0.1" >Klf9</text>
<rect x="513.00" y="124.19" width="17.30" height="6.50" fill="#c40000"/>
<rect x="530.30" y="124.19" width="18.70" height="6.50" fill="#b3de84"/>
<rect x="551.10" y="124.19" width="8.05" height="6.50" fill="#0070c0"/>
<rect x="575.25" y="124.19" width="8.05" height="6.50" fill="#c40000"/>
<rect x="559.15" y="124.19" width="8.05" height="6.50" fill="#73b0dc"/>
<rect x="583.30" y="124.19" width="8.05" height="6.50" fill="#dc6666"/>
<rect x="567.20" y="124.19" width="8.05" height="6.50" fill="#0070c0"/>
<rect x="591.35" y="124.19" width="8.05" height="6.50" fill="#ca1a1a"/>
<text x="521.65" y="129.14" transform="rotate(0.04 521.65 129.14)" font-size="5.0" text-anchor="middle" font-weight="normal" font-style="normal" fill="#4d0000" stroke="#4d0000" stroke-width="0.1" >7.0</text>
<text x="539.65" y="129.14" transform="rotate(0.04 539.65 129.14)" font-size="5.0" text-anchor="middle" font-weight="normal" font-style="normal" fill="#2a4218" stroke="#2a4218" stroke-width="0.1" >2%</text>
<text x="600.70" y="129.49" transform="rotate(0.04 600.70 129.49)" font-size="5.15" text-anchor="start" font-weight="bold" font-style="normal" fill="#000" stroke="#000" stroke-width="0.1" >Mmp19</text>
<rect x="513.00" y="130.69" width="17.30" height="6.50" fill="#c40000"/>
<rect x="530.30" y="130.69" width="18.70" height="6.50" fill="#92d050"/>
<rect x="551.10" y="130.69" width="8.05" height="6.50" fill="#0070c0"/>
<rect x="575.25" y="130.69" width="8.05" height="6.50" fill="#c40000"/>
<rect x="559.15" y="130.69" width="8.05" height="6.50" fill="#0070c0"/>
<rect x="583.30" y="130.69" width="8.05" height="6.50" fill="#c40000"/>
<rect x="567.20" y="130.69" width="8.05" height="6.50" fill="#1a7ec6"/>
<rect x="591.35" y="130.69" width="8.05" height="6.50" fill="#ca1a1a"/>
<text x="521.65" y="135.65" transform="rotate(0.04 521.65 135.65)" font-size="5.0" text-anchor="middle" font-weight="normal" font-style="normal" fill="#4d0000" stroke="#4d0000" stroke-width="0.1" >6.9</text>
<text x="539.65" y="135.65" transform="rotate(0.04 539.65 135.65)" font-size="5.0" text-anchor="middle" font-weight="normal" font-style="normal" fill="#2a4218" stroke="#2a4218" stroke-width="0.1" >0%</text>
<text x="600.70" y="136.00" transform="rotate(0.04 600.70 136.00)" font-size="5.15" text-anchor="start" font-weight="bold" font-style="normal" fill="#000" stroke="#000" stroke-width="0.1" >Fggy</text>
<rect x="513.00" y="137.20" width="17.30" height="6.50" fill="#c40000"/>
<rect x="530.30" y="137.20" width="18.70" height="6.50" fill="#92d050"/>
<rect x="551.10" y="137.20" width="8.05" height="6.50" fill="#0070c0"/>
<rect x="575.25" y="137.20" width="8.05" height="6.50" fill="#c40000"/>
<rect x="559.15" y="137.20" width="8.05" height="6.50" fill="#0070c0"/>
<rect x="583.30" y="137.20" width="8.05" height="6.50" fill="#c40000"/>
<rect x="567.20" y="137.20" width="8.05" height="6.50" fill="#0070c0"/>
<rect x="591.35" y="137.20" width="8.05" height="6.50" fill="#c70d0d"/>
<text x="521.65" y="142.15" transform="rotate(0.04 521.65 142.15)" font-size="5.0" text-anchor="middle" font-weight="normal" font-style="normal" fill="#4d0000" stroke="#4d0000" stroke-width="0.1" >6.6</text>
<text x="539.65" y="142.15" transform="rotate(0.04 539.65 142.15)" font-size="5.0" text-anchor="middle" font-weight="normal" font-style="normal" fill="#2a4218" stroke="#2a4218" stroke-width="0.1" >0%</text>
<text x="600.70" y="142.50" transform="rotate(0.04 600.70 142.50)" font-size="5.15" text-anchor="start" font-weight="bold" font-style="normal" fill="#000" stroke="#000" stroke-width="0.1" >Gm14548</text>
<rect x="513.00" y="143.70" width="17.30" height="6.50" fill="#c40000"/>
<rect x="530.30" y="143.70" width="18.70" height="6.50" fill="#92d050"/>
<rect x="551.10" y="143.70" width="8.05" height="6.50" fill="#0070c0"/>
<rect x="575.25" y="143.70" width="8.05" height="6.50" fill="#c40000"/>
<rect x="559.15" y="143.70" width="8.05" height="6.50" fill="#338dcd"/>
<rect x="583.30" y="143.70" width="8.05" height="6.50" fill="#c70d0d"/>
<rect x="567.20" y="143.70" width="8.05" height="6.50" fill="#2685c9"/>
<rect x="591.35" y="143.70" width="8.05" height="6.50" fill="#d03333"/>
<text x="521.65" y="148.65" transform="rotate(0.04 521.65 148.65)" font-size="5.0" text-anchor="middle" font-weight="normal" font-style="normal" fill="#4d0000" stroke="#4d0000" stroke-width="0.1" >6.5</text>
<text x="539.65" y="148.65" transform="rotate(0.04 539.65 148.65)" font-size="5.0" text-anchor="middle" font-weight="normal" font-style="normal" fill="#2a4218" stroke="#2a4218" stroke-width="0.1" >0%</text>
<text x="600.70" y="149.00" transform="rotate(0.04 600.70 149.00)" font-size="5.15" text-anchor="start" font-weight="bold" font-style="normal" fill="#000" stroke="#000" stroke-width="0.1" >Bcl2l15</text>
<rect x="513.00" y="150.20" width="17.30" height="6.50" fill="#c40000"/>
<rect x="530.30" y="150.20" width="18.70" height="6.50" fill="#b3de84"/>
<rect x="551.10" y="150.20" width="8.05" height="6.50" fill="#73b0dc"/>
<rect x="575.25" y="150.20" width="8.05" height="6.50" fill="#dc6666"/>
<rect x="559.15" y="150.20" width="8.05" height="6.50" fill="#0d77c3"/>
<rect x="583.30" y="150.20" width="8.05" height="6.50" fill="#d64c4c"/>
<rect x="567.20" y="150.20" width="8.05" height="6.50" fill="#0d77c3"/>
<rect x="591.35" y="150.20" width="8.05" height="6.50" fill="#dc6666"/>
<text x="521.65" y="155.15" transform="rotate(0.04 521.65 155.15)" font-size="5.0" text-anchor="middle" font-weight="normal" font-style="normal" fill="#4d0000" stroke="#4d0000" stroke-width="0.1" >6.3</text>
<text x="539.65" y="155.15" transform="rotate(0.04 539.65 155.15)" font-size="5.0" text-anchor="middle" font-weight="normal" font-style="normal" fill="#2a4218" stroke="#2a4218" stroke-width="0.1" >2%</text>
<text x="600.70" y="155.50" transform="rotate(0.04 600.70 155.50)" font-size="5.15" text-anchor="start" font-weight="bold" font-style="normal" fill="#000" stroke="#000" stroke-width="0.1" >Cyp2s1</text>
<rect x="513.00" y="156.70" width="17.30" height="6.50" fill="#c40000"/>
<rect x="530.30" y="156.70" width="18.70" height="6.50" fill="#92d050"/>
<rect x="551.10" y="156.70" width="8.05" height="6.50" fill="#0070c0"/>
<rect x="575.25" y="156.70" width="8.05" height="6.50" fill="#c40000"/>
<rect x="559.15" y="156.70" width="8.05" height="6.50" fill="#0070c0"/>
<rect x="583.30" y="156.70" width="8.05" height="6.50" fill="#c40000"/>
<rect x="567.20" y="156.70" width="8.05" height="6.50" fill="#0070c0"/>
<rect x="591.35" y="156.70" width="8.05" height="6.50" fill="#c40000"/>
<text x="521.65" y="161.65" transform="rotate(0.04 521.65 161.65)" font-size="5.0" text-anchor="middle" font-weight="normal" font-style="normal" fill="#4d0000" stroke="#4d0000" stroke-width="0.1" >6.3</text>
<text x="539.65" y="161.65" transform="rotate(0.04 539.65 161.65)" font-size="5.0" text-anchor="middle" font-weight="normal" font-style="normal" fill="#2a4218" stroke="#2a4218" stroke-width="0.1" >0%</text>
<text x="600.70" y="162.00" transform="rotate(0.04 600.70 162.00)" font-size="5.15" text-anchor="start" font-weight="bold" font-style="normal" fill="#000" stroke="#000" stroke-width="0.1" >Id2</text>
<rect x="513.00" y="163.20" width="17.30" height="6.50" fill="#c40000"/>
<rect x="530.30" y="163.20" width="18.70" height="6.50" fill="#92d050"/>
<rect x="551.10" y="163.20" width="8.05" height="6.50" fill="#0070c0"/>
<rect x="575.25" y="163.20" width="8.05" height="6.50" fill="#c40000"/>
<rect x="559.15" y="163.20" width="8.05" height="6.50" fill="#1a7ec6"/>
<rect x="583.30" y="163.20" width="8.05" height="6.50" fill="#c70d0d"/>
<rect x="567.20" y="163.20" width="8.05" height="6.50" fill="#0d77c3"/>
<rect x="591.35" y="163.20" width="8.05" height="6.50" fill="#ca1a1a"/>
<text x="521.65" y="168.16" transform="rotate(0.04 521.65 168.16)" font-size="5.0" text-anchor="middle" font-weight="normal" font-style="normal" fill="#4d0000" stroke="#4d0000" stroke-width="0.1" >6.3</text>
<text x="539.65" y="168.16" transform="rotate(0.04 539.65 168.16)" font-size="5.0" text-anchor="middle" font-weight="normal" font-style="normal" fill="#2a4218" stroke="#2a4218" stroke-width="0.1" >0%</text>
<text x="600.70" y="168.51" transform="rotate(0.04 600.70 168.51)" font-size="5.15" text-anchor="start" font-weight="bold" font-style="normal" fill="#000" stroke="#000" stroke-width="0.1" >Pik3ip1</text>
<rect x="513.00" y="169.71" width="17.30" height="6.50" fill="#c40000"/>
<rect x="530.30" y="169.71" width="18.70" height="6.50" fill="#92d050"/>
<rect x="551.10" y="169.71" width="8.05" height="6.50" fill="#147bc5"/>
<rect x="575.25" y="169.71" width="8.05" height="6.50" fill="#c70d0d"/>
<rect x="559.15" y="169.71" width="8.05" height="6.50" fill="#147bc5"/>
<rect x="583.30" y="169.71" width="8.05" height="6.50" fill="#c70d0d"/>
<rect x="567.20" y="169.71" width="8.05" height="6.50" fill="#0d77c3"/>
<rect x="591.35" y="169.71" width="8.05" height="6.50" fill="#ca1a1a"/>
<text x="521.65" y="174.66" transform="rotate(0.04 521.65 174.66)" font-size="5.0" text-anchor="middle" font-weight="normal" font-style="normal" fill="#4d0000" stroke="#4d0000" stroke-width="0.1" >6.0</text>
<text x="539.65" y="174.66" transform="rotate(0.04 539.65 174.66)" font-size="5.0" text-anchor="middle" font-weight="normal" font-style="normal" fill="#2a4218" stroke="#2a4218" stroke-width="0.1" >0%</text>
<text x="600.70" y="175.01" transform="rotate(0.04 600.70 175.01)" font-size="5.15" text-anchor="start" font-weight="bold" font-style="normal" fill="#000" stroke="#000" stroke-width="0.1" >Aox3</text>
<rect x="513.00" y="176.21" width="17.30" height="6.50" fill="#c40000"/>
<rect x="530.30" y="176.21" width="18.70" height="6.50" fill="#92d050"/>
<rect x="551.10" y="176.21" width="8.05" height="6.50" fill="#1f81c8"/>
<rect x="575.25" y="176.21" width="8.05" height="6.50" fill="#ca1a1a"/>
<rect x="559.15" y="176.21" width="8.05" height="6.50" fill="#0d77c3"/>
<rect x="583.30" y="176.21" width="8.05" height="6.50" fill="#c40000"/>
<rect x="567.20" y="176.21" width="8.05" height="6.50" fill="#0070c0"/>
<rect x="591.35" y="176.21" width="8.05" height="6.50" fill="#cb1f1f"/>
<text x="521.65" y="181.16" transform="rotate(0.04 521.65 181.16)" font-size="5.0" text-anchor="middle" font-weight="normal" font-style="normal" fill="#4d0000" stroke="#4d0000" stroke-width="0.1" >5.7</text>
<text x="539.65" y="181.16" transform="rotate(0.04 539.65 181.16)" font-size="5.0" text-anchor="middle" font-weight="normal" font-style="normal" fill="#2a4218" stroke="#2a4218" stroke-width="0.1" >0%</text>
<text x="600.70" y="181.51" transform="rotate(0.04 600.70 181.51)" font-size="5.15" text-anchor="start" font-weight="bold" font-style="normal" fill="#000" stroke="#000" stroke-width="0.1" >Fkbp5</text>
<rect x="513.00" y="182.71" width="17.30" height="6.50" fill="#c40000"/>
<rect x="530.30" y="182.71" width="18.70" height="6.50" fill="#92d050"/>
<rect x="551.10" y="182.71" width="8.05" height="6.50" fill="#147bc5"/>
<rect x="575.25" y="182.71" width="8.05" height="6.50" fill="#c40000"/>
<rect x="559.15" y="182.71" width="8.05" height="6.50" fill="#0070c0"/>
<rect x="583.30" y="182.71" width="8.05" height="6.50" fill="#c40000"/>
<rect x="567.20" y="182.71" width="8.05" height="6.50" fill="#59a2d6"/>
<rect x="591.35" y="182.71" width="8.05" height="6.50" fill="#d95959"/>
<text x="521.65" y="187.66" transform="rotate(0.04 521.65 187.66)" font-size="5.0" text-anchor="middle" font-weight="normal" font-style="normal" fill="#4d0000" stroke="#4d0000" stroke-width="0.1" >5.6</text>
<text x="539.65" y="187.66" transform="rotate(0.04 539.65 187.66)" font-size="5.0" text-anchor="middle" font-weight="normal" font-style="normal" fill="#2a4218" stroke="#2a4218" stroke-width="0.1" >0%</text>
<text x="600.70" y="188.01" transform="rotate(0.04 600.70 188.01)" font-size="5.15" text-anchor="start" font-weight="bold" font-style="normal" fill="#000" stroke="#000" stroke-width="0.1" >Ecm1</text>
<rect x="513.00" y="189.21" width="17.30" height="6.50" fill="#c40000"/>
<rect x="530.30" y="189.21" width="18.70" height="6.50" fill="#92d050"/>
<rect x="551.10" y="189.21" width="8.05" height="6.50" fill="#0070c0"/>
<rect x="575.25" y="189.21" width="8.05" height="6.50" fill="#d34040"/>
<rect x="559.15" y="189.21" width="8.05" height="6.50" fill="#4c9bd3"/>
<rect x="583.30" y="189.21" width="8.05" height="6.50" fill="#d64c4c"/>
<rect x="567.20" y="189.21" width="8.05" height="6.50" fill="#0070c0"/>
<rect x="591.35" y="189.21" width="8.05" height="6.50" fill="#cd2626"/>
<text x="521.65" y="194.17" transform="rotate(0.04 521.65 194.17)" font-size="5.0" text-anchor="middle" font-weight="normal" font-style="normal" fill="#4d0000" stroke="#4d0000" stroke-width="0.1" >5.3</text>
<text x="539.65" y="194.17" transform="rotate(0.04 539.65 194.17)" font-size="5.0" text-anchor="middle" font-weight="normal" font-style="normal" fill="#2a4218" stroke="#2a4218" stroke-width="0.1" >0%</text>
<text x="600.70" y="194.52" transform="rotate(0.04 600.70 194.52)" font-size="5.15" text-anchor="start" font-weight="bold" font-style="normal" fill="#000" stroke="#000" stroke-width="0.1" >Gpt2</text>
<rect x="513.00" y="195.72" width="17.30" height="6.50" fill="#c40000"/>
<rect x="530.30" y="195.72" width="18.70" height="6.50" fill="#92d050"/>
<rect x="551.10" y="195.72" width="8.05" height="6.50" fill="#0070c0"/>
<rect x="575.25" y="195.72" width="8.05" height="6.50" fill="#c40000"/>
<rect x="559.15" y="195.72" width="8.05" height="6.50" fill="#0070c0"/>
<rect x="583.30" y="195.72" width="8.05" height="6.50" fill="#c40000"/>
<rect x="567.20" y="195.72" width="8.05" height="6.50" fill="#0070c0"/>
<rect x="591.35" y="195.72" width="8.05" height="6.50" fill="#c40000"/>
<text x="521.65" y="200.67" transform="rotate(0.04 521.65 200.67)" font-size="5.0" text-anchor="middle" font-weight="normal" font-style="normal" fill="#4d0000" stroke="#4d0000" stroke-width="0.1" >5.3</text>
<text x="539.65" y="200.67" transform="rotate(0.04 539.65 200.67)" font-size="5.0" text-anchor="middle" font-weight="normal" font-style="normal" fill="#2a4218" stroke="#2a4218" stroke-width="0.1" >0%</text>
<text x="600.70" y="201.02" transform="rotate(0.04 600.70 201.02)" font-size="5.15" text-anchor="start" font-weight="bold" font-style="normal" fill="#000" stroke="#000" stroke-width="0.1" >Gm8885</text>
<rect x="513.00" y="202.22" width="17.30" height="6.50" fill="#c40000"/>
<rect x="530.30" y="202.22" width="18.70" height="6.50" fill="#92d050"/>
<rect x="551.10" y="202.22" width="8.05" height="6.50" fill="#0070c0"/>
<rect x="575.25" y="202.22" width="8.05" height="6.50" fill="#d03333"/>
<rect x="559.15" y="202.22" width="8.05" height="6.50" fill="#0070c0"/>
<rect x="583.30" y="202.22" width="8.05" height="6.50" fill="#c40000"/>
<rect x="567.20" y="202.22" width="8.05" height="6.50" fill="#338dcd"/>
<rect x="591.35" y="202.22" width="8.05" height="6.50" fill="#c40000"/>
<text x="521.65" y="207.17" transform="rotate(0.04 521.65 207.17)" font-size="5.0" text-anchor="middle" font-weight="normal" font-style="normal" fill="#4d0000" stroke="#4d0000" stroke-width="0.1" >5.3</text>
<text x="539.65" y="207.17" transform="rotate(0.04 539.65 207.17)" font-size="5.0" text-anchor="middle" font-weight="normal" font-style="normal" fill="#2a4218" stroke="#2a4218" stroke-width="0.1" >0%</text>
<text x="600.70" y="207.52" transform="rotate(0.04 600.70 207.52)" font-size="5.15" text-anchor="start" font-weight="bold" font-style="normal" fill="#000" stroke="#000" stroke-width="0.1" >Ccnjlc</text>
<rect x="513.00" y="208.72" width="17.30" height="6.50" fill="#c40000"/>
<rect x="530.30" y="208.72" width="18.70" height="6.50" fill="#92d050"/>
<rect x="551.10" y="208.72" width="8.05" height="6.50" fill="#147bc5"/>
<rect x="575.25" y="208.72" width="8.05" height="6.50" fill="#c40000"/>
<rect x="559.15" y="208.72" width="8.05" height="6.50" fill="#0070c0"/>
<rect x="583.30" y="208.72" width="8.05" height="6.50" fill="#c91414"/>
<rect x="567.20" y="208.72" width="8.05" height="6.50" fill="#0070c0"/>
<rect x="591.35" y="208.72" width="8.05" height="6.50" fill="#c40000"/>
<text x="521.65" y="213.67" transform="rotate(0.04 521.65 213.67)" font-size="5.0" text-anchor="middle" font-weight="normal" font-style="normal" fill="#4d0000" stroke="#4d0000" stroke-width="0.1" >5.1</text>
<text x="539.65" y="213.67" transform="rotate(0.04 539.65 213.67)" font-size="5.0" text-anchor="middle" font-weight="normal" font-style="normal" fill="#2a4218" stroke="#2a4218" stroke-width="0.1" >0%</text>
<text x="600.70" y="214.02" transform="rotate(0.04 600.70 214.02)" font-size="5.15" text-anchor="start" font-weight="bold" font-style="normal" fill="#000" stroke="#000" stroke-width="0.1" >Il1r2</text>
<rect x="513.00" y="215.22" width="17.30" height="6.50" fill="#c40000"/>
<rect x="530.30" y="215.22" width="18.70" height="6.50" fill="#92d050"/>
<rect x="551.10" y="215.22" width="8.05" height="6.50" fill="#0070c0"/>
<rect x="575.25" y="215.22" width="8.05" height="6.50" fill="#c40000"/>
<rect x="559.15" y="215.22" width="8.05" height="6.50" fill="#0070c0"/>
<rect x="583.30" y="215.22" width="8.05" height="6.50" fill="#c40000"/>
<rect x="567.20" y="215.22" width="8.05" height="6.50" fill="#0070c0"/>
<rect x="591.35" y="215.22" width="8.05" height="6.50" fill="#c40000"/>
<text x="521.65" y="220.18" transform="rotate(0.04 521.65 220.18)" font-size="5.0" text-anchor="middle" font-weight="normal" font-style="normal" fill="#4d0000" stroke="#4d0000" stroke-width="0.1" >5.1</text>
<text x="539.65" y="220.18" transform="rotate(0.04 539.65 220.18)" font-size="5.0" text-anchor="middle" font-weight="normal" font-style="normal" fill="#2a4218" stroke="#2a4218" stroke-width="0.1" >0%</text>
<text x="600.70" y="220.53" transform="rotate(0.04 600.70 220.53)" font-size="5.15" text-anchor="start" font-weight="bold" font-style="normal" fill="#000" stroke="#000" stroke-width="0.1" >Gm8483</text>
<rect x="513.00" y="221.73" width="17.30" height="6.50" fill="#c40000"/>
<rect x="530.30" y="221.73" width="18.70" height="6.50" fill="#92d050"/>
<rect x="551.10" y="221.73" width="8.05" height="6.50" fill="#8cbfe3"/>
<rect x="575.25" y="221.73" width="8.05" height="6.50" fill="#c40000"/>
<rect x="559.15" y="221.73" width="8.05" height="6.50" fill="#0070c0"/>
<rect x="583.30" y="221.73" width="8.05" height="6.50" fill="#ca1a1a"/>
<rect x="567.20" y="221.73" width="8.05" height="6.50" fill="#0070c0"/>
<rect x="591.35" y="221.73" width="8.05" height="6.50" fill="#e28080"/>
<text x="521.65" y="226.68" transform="rotate(0.04 521.65 226.68)" font-size="5.0" text-anchor="middle" font-weight="normal" font-style="normal" fill="#4d0000" stroke="#4d0000" stroke-width="0.1" >4.9</text>
<text x="539.65" y="226.68" transform="rotate(0.04 539.65 226.68)" font-size="5.0" text-anchor="middle" font-weight="normal" font-style="normal" fill="#2a4218" stroke="#2a4218" stroke-width="0.1" >0%</text>
<text x="600.70" y="227.03" transform="rotate(0.04 600.70 227.03)" font-size="5.15" text-anchor="start" font-weight="bold" font-style="normal" fill="#000" stroke="#000" stroke-width="0.1" >Gm19951</text>
<rect x="513.00" y="228.23" width="17.30" height="6.50" fill="#c40000"/>
<rect x="530.30" y="228.23" width="18.70" height="6.50" fill="#92d050"/>
<rect x="551.10" y="228.23" width="8.05" height="6.50" fill="#0070c0"/>
<rect x="575.25" y="228.23" width="8.05" height="6.50" fill="#c40000"/>
<rect x="559.15" y="228.23" width="8.05" height="6.50" fill="#0d77c3"/>
<rect x="583.30" y="228.23" width="8.05" height="6.50" fill="#ca1a1a"/>
<rect x="567.20" y="228.23" width="8.05" height="6.50" fill="#1f81c8"/>
<rect x="591.35" y="228.23" width="8.05" height="6.50" fill="#c40000"/>
<text x="521.65" y="233.18" transform="rotate(0.04 521.65 233.18)" font-size="5.0" text-anchor="middle" font-weight="normal" font-style="normal" fill="#4d0000" stroke="#4d0000" stroke-width="0.1" >4.7</text>
<text x="539.65" y="233.18" transform="rotate(0.04 539.65 233.18)" font-size="5.0" text-anchor="middle" font-weight="normal" font-style="normal" fill="#2a4218" stroke="#2a4218" stroke-width="0.1" >0%</text>
<text x="600.70" y="233.53" transform="rotate(0.04 600.70 233.53)" font-size="5.15" text-anchor="start" font-weight="bold" font-style="normal" fill="#000" stroke="#000" stroke-width="0.1" >Ddx28</text>
<rect x="513.00" y="234.73" width="17.30" height="6.50" fill="#c40000"/>
<rect x="530.30" y="234.73" width="18.70" height="6.50" fill="#b3de84"/>
<rect x="551.10" y="234.73" width="8.05" height="6.50" fill="#0070c0"/>
<rect x="575.25" y="234.73" width="8.05" height="6.50" fill="#c40000"/>
<rect x="559.15" y="234.73" width="8.05" height="6.50" fill="#99c6e6"/>
<rect x="583.30" y="234.73" width="8.05" height="6.50" fill="#cd2626"/>
<rect x="567.20" y="234.73" width="8.05" height="6.50" fill="#0070c0"/>
<rect x="591.35" y="234.73" width="8.05" height="6.50" fill="#e48c8c"/>
<text x="521.65" y="239.68" transform="rotate(0.04 521.65 239.68)" font-size="5.0" text-anchor="middle" font-weight="normal" font-style="normal" fill="#4d0000" stroke="#4d0000" stroke-width="0.1" >4.6</text>
<text x="539.65" y="239.68" transform="rotate(0.04 539.65 239.68)" font-size="5.0" text-anchor="middle" font-weight="normal" font-style="normal" fill="#2a4218" stroke="#2a4218" stroke-width="0.1" >2%</text>
<text x="600.70" y="240.03" transform="rotate(0.04 600.70 240.03)" font-size="5.15" text-anchor="start" font-weight="bold" font-style="normal" fill="#000" stroke="#000" stroke-width="0.1" >0610039K10Rik</text>
<rect x="513.00" y="241.23" width="17.30" height="6.50" fill="#c40000"/>
<rect x="530.30" y="241.23" width="18.70" height="6.50" fill="#bbe292"/>
<rect x="551.10" y="241.23" width="8.05" height="6.50" fill="#0070c0"/>
<rect x="575.25" y="241.23" width="8.05" height="6.50" fill="#c40000"/>
<rect x="559.15" y="241.23" width="8.05" height="6.50" fill="#b2d4ec"/>
<rect x="583.30" y="241.23" width="8.05" height="6.50" fill="#c40000"/>
<rect x="567.20" y="241.23" width="8.05" height="6.50" fill="#0070c0"/>
<rect x="591.35" y="241.23" width="8.05" height="6.50" fill="#edb2b2"/>
<text x="521.65" y="246.19" transform="rotate(0.04 521.65 246.19)" font-size="5.0" text-anchor="middle" font-weight="normal" font-style="normal" fill="#4d0000" stroke="#4d0000" stroke-width="0.1" >4.4</text>
<text x="539.65" y="246.19" transform="rotate(0.04 539.65 246.19)" font-size="5.0" text-anchor="middle" font-weight="normal" font-style="normal" fill="#2a4218" stroke="#2a4218" stroke-width="0.1" >3%</text>
<text x="600.70" y="246.54" transform="rotate(0.04 600.70 246.54)" font-size="5.15" text-anchor="start" font-weight="bold" font-style="normal" fill="#000" stroke="#000" stroke-width="0.1" >Lifr</text>
<rect x="513.00" y="247.74" width="17.30" height="6.50" fill="#c40000"/>
<rect x="530.30" y="247.74" width="18.70" height="6.50" fill="#bbe292"/>
<rect x="551.10" y="247.74" width="8.05" height="6.50" fill="#0070c0"/>
<rect x="575.25" y="247.74" width="8.05" height="6.50" fill="#d64c4c"/>
<rect x="559.15" y="247.74" width="8.05" height="6.50" fill="#0070c0"/>
<rect x="583.30" y="247.74" width="8.05" height="6.50" fill="#e79999"/>
<rect x="567.20" y="247.74" width="8.05" height="6.50" fill="#99c6e6"/>
<rect x="591.35" y="247.74" width="8.05" height="6.50" fill="#dc6666"/>
<text x="521.65" y="252.69" transform="rotate(0.04 521.65 252.69)" font-size="5.0" text-anchor="middle" font-weight="normal" font-style="normal" fill="#4d0000" stroke="#4d0000" stroke-width="0.1" >4.3</text>
<text x="539.65" y="252.69" transform="rotate(0.04 539.65 252.69)" font-size="5.0" text-anchor="middle" font-weight="normal" font-style="normal" fill="#2a4218" stroke="#2a4218" stroke-width="0.1" >3%</text>
<text x="600.70" y="253.04" transform="rotate(0.04 600.70 253.04)" font-size="5.15" text-anchor="start" font-weight="bold" font-style="normal" fill="#000" stroke="#000" stroke-width="0.1" >Spint1</text>
<rect x="513.00" y="254.24" width="17.30" height="6.50" fill="#c40000"/>
<rect x="530.30" y="254.24" width="18.70" height="6.50" fill="#92d050"/>
<rect x="551.10" y="254.24" width="8.05" height="6.50" fill="#0070c0"/>
<rect x="575.25" y="254.24" width="8.05" height="6.50" fill="#dc6666"/>
<rect x="559.15" y="254.24" width="8.05" height="6.50" fill="#66a9d9"/>
<rect x="583.30" y="254.24" width="8.05" height="6.50" fill="#cd2626"/>
<rect x="567.20" y="254.24" width="8.05" height="6.50" fill="#0070c0"/>
<rect x="591.35" y="254.24" width="8.05" height="6.50" fill="#cd2626"/>
<text x="521.65" y="259.19" transform="rotate(0.04 521.65 259.19)" font-size="5.0" text-anchor="middle" font-weight="normal" font-style="normal" fill="#4d0000" stroke="#4d0000" stroke-width="0.1" >4.3</text>
<text x="539.65" y="259.19" transform="rotate(0.04 539.65 259.19)" font-size="5.0" text-anchor="middle" font-weight="normal" font-style="normal" fill="#2a4218" stroke="#2a4218" stroke-width="0.1" >0%</text>
<text x="600.70" y="259.54" transform="rotate(0.04 600.70 259.54)" font-size="5.15" text-anchor="start" font-weight="bold" font-style="normal" fill="#000" stroke="#000" stroke-width="0.1" >Fgl1</text>
<rect x="513.00" y="260.74" width="17.30" height="6.50" fill="#c40000"/>
<rect x="530.30" y="260.74" width="18.70" height="6.50" fill="#99d35a"/>
<rect x="551.10" y="260.74" width="8.05" height="6.50" fill="#0070c0"/>
<rect x="575.25" y="260.74" width="8.05" height="6.50" fill="#c40000"/>
<rect x="559.15" y="260.74" width="8.05" height="6.50" fill="#80b8e0"/>
<rect x="583.30" y="260.74" width="8.05" height="6.50" fill="#d03333"/>
<rect x="567.20" y="260.74" width="8.05" height="6.50" fill="#0070c0"/>
<rect x="591.35" y="260.74" width="8.05" height="6.50" fill="#e28080"/>
<text x="521.65" y="265.69" transform="rotate(0.04 521.65 265.69)" font-size="5.0" text-anchor="middle" font-weight="normal" font-style="normal" fill="#4d0000" stroke="#4d0000" stroke-width="0.1" >4.3</text>
<text x="539.65" y="265.69" transform="rotate(0.04 539.65 265.69)" font-size="5.0" text-anchor="middle" font-weight="normal" font-style="normal" fill="#2a4218" stroke="#2a4218" stroke-width="0.1" >1%</text>
<text x="600.70" y="266.04" transform="rotate(0.04 600.70 266.04)" font-size="5.15" text-anchor="start" font-weight="bold" font-style="normal" fill="#000" stroke="#000" stroke-width="0.1" >Klhl6</text>
<rect x="513.00" y="267.24" width="17.30" height="6.50" fill="#c40000"/>
<rect x="530.30" y="267.24" width="18.70" height="6.50" fill="#92d050"/>
<rect x="551.10" y="267.24" width="8.05" height="6.50" fill="#4094d0"/>
<rect x="575.25" y="267.24" width="8.05" height="6.50" fill="#c40000"/>
<rect x="559.15" y="267.24" width="8.05" height="6.50" fill="#0070c0"/>
<rect x="583.30" y="267.24" width="8.05" height="6.50" fill="#d34040"/>
<rect x="567.20" y="267.24" width="8.05" height="6.50" fill="#0070c0"/>
<rect x="591.35" y="267.24" width="8.05" height="6.50" fill="#d34040"/>
<text x="521.65" y="272.20" transform="rotate(0.04 521.65 272.20)" font-size="5.0" text-anchor="middle" font-weight="normal" font-style="normal" fill="#4d0000" stroke="#4d0000" stroke-width="0.1" >4.3</text>
<text x="539.65" y="272.20" transform="rotate(0.04 539.65 272.20)" font-size="5.0" text-anchor="middle" font-weight="normal" font-style="normal" fill="#2a4218" stroke="#2a4218" stroke-width="0.1" >0%</text>
<text x="600.70" y="272.55" transform="rotate(0.04 600.70 272.55)" font-size="5.15" text-anchor="start" font-weight="bold" font-style="normal" fill="#000" stroke="#000" stroke-width="0.1" >Gm11827</text>
<rect x="513.00" y="273.75" width="17.30" height="6.50" fill="#c40000"/>
<rect x="530.30" y="273.75" width="18.70" height="6.50" fill="#92d050"/>
<rect x="551.10" y="273.75" width="8.05" height="6.50" fill="#4094d0"/>
<rect x="575.25" y="273.75" width="8.05" height="6.50" fill="#d64c4c"/>
<rect x="559.15" y="273.75" width="8.05" height="6.50" fill="#4094d0"/>
<rect x="583.30" y="273.75" width="8.05" height="6.50" fill="#c40000"/>
<rect x="567.20" y="273.75" width="8.05" height="6.50" fill="#4c9bd3"/>
<rect x="591.35" y="273.75" width="8.05" height="6.50" fill="#c40000"/>
<text x="521.65" y="278.70" transform="rotate(0.04 521.65 278.70)" font-size="5.0" text-anchor="middle" font-weight="normal" font-style="normal" fill="#4d0000" stroke="#4d0000" stroke-width="0.1" >4.2</text>
<text x="539.65" y="278.70" transform="rotate(0.04 539.65 278.70)" font-size="5.0" text-anchor="middle" font-weight="normal" font-style="normal" fill="#2a4218" stroke="#2a4218" stroke-width="0.1" >0%</text>
<text x="600.70" y="279.05" transform="rotate(0.04 600.70 279.05)" font-size="5.15" text-anchor="start" font-weight="bold" font-style="normal" fill="#000" stroke="#000" stroke-width="0.1" >Gm37530</text>
<rect x="513.00" y="280.25" width="17.30" height="6.50" fill="#c40000"/>
<rect x="530.30" y="280.25" width="18.70" height="6.50" fill="#92d050"/>
<rect x="551.10" y="280.25" width="8.05" height="6.50" fill="#0070c0"/>
<rect x="575.25" y="280.25" width="8.05" height="6.50" fill="#df7373"/>
<rect x="559.15" y="280.25" width="8.05" height="6.50" fill="#73b0dc"/>
<rect x="583.30" y="280.25" width="8.05" height="6.50" fill="#d95959"/>
<rect x="567.20" y="280.25" width="8.05" height="6.50" fill="#0070c0"/>
<rect x="591.35" y="280.25" width="8.05" height="6.50" fill="#ca1a1a"/>
<text x="521.65" y="285.20" transform="rotate(0.04 521.65 285.20)" font-size="5.0" text-anchor="middle" font-weight="normal" font-style="normal" fill="#4d0000" stroke="#4d0000" stroke-width="0.1" >4.2</text>
<text x="539.65" y="285.20" transform="rotate(0.04 539.65 285.20)" font-size="5.0" text-anchor="middle" font-weight="normal" font-style="normal" fill="#2a4218" stroke="#2a4218" stroke-width="0.1" >0%</text>
<text x="600.70" y="285.55" transform="rotate(0.04 600.70 285.55)" font-size="5.15" text-anchor="start" font-weight="bold" font-style="normal" fill="#000" stroke="#000" stroke-width="0.1" >Hist1h4h</text>
<line x1="513.00" y1="13.20" x2="549.00" y2="13.20" stroke="#333" stroke-width="0.35"/>
<line x1="551.10" y1="13.20" x2="599.40" y2="13.20" stroke="#333" stroke-width="0.35"/>
<line x1="513.00" y1="20.15" x2="549.00" y2="20.15" stroke="#000" stroke-width="0.62"/>
<line x1="551.10" y1="20.15" x2="599.40" y2="20.15" stroke="#000" stroke-width="0.62"/>
<line x1="513.00" y1="26.65" x2="549.00" y2="26.65" stroke="#000" stroke-width="0.62"/>
<line x1="551.10" y1="26.65" x2="599.40" y2="26.65" stroke="#000" stroke-width="0.62"/>
<line x1="513.00" y1="33.16" x2="549.00" y2="33.16" stroke="#000" stroke-width="0.62"/>
<line x1="551.10" y1="33.16" x2="599.40" y2="33.16" stroke="#000" stroke-width="0.62"/>
<line x1="513.00" y1="39.66" x2="549.00" y2="39.66" stroke="#000" stroke-width="0.62"/>
<line x1="551.10" y1="39.66" x2="599.40" y2="39.66" stroke="#000" stroke-width="0.62"/>
<line x1="513.00" y1="46.16" x2="549.00" y2="46.16" stroke="#000" stroke-width="0.62"/>
<line x1="551.10" y1="46.16" x2="599.40" y2="46.16" stroke="#000" stroke-width="0.62"/>
<line x1="513.00" y1="52.66" x2="549.00" y2="52.66" stroke="#000" stroke-width="0.62"/>
<line x1="551.10" y1="52.66" x2="599.40" y2="52.66" stroke="#000" stroke-width="0.62"/>
<line x1="513.00" y1="59.17" x2="549.00" y2="59.17" stroke="#000" stroke-width="0.62"/>
<line x1="551.10" y1="59.17" x2="599.40" y2="59.17" stroke="#000" stroke-width="0.62"/>
<line x1="513.00" y1="65.67" x2="549.00" y2="65.67" stroke="#000" stroke-width="0.62"/>
<line x1="551.10" y1="65.67" x2="599.40" y2="65.67" stroke="#000" stroke-width="0.62"/>
<line x1="513.00" y1="72.17" x2="549.00" y2="72.17" stroke="#000" stroke-width="0.62"/>
<line x1="551.10" y1="72.17" x2="599.40" y2="72.17" stroke="#000" stroke-width="0.62"/>
<line x1="513.00" y1="78.67" x2="549.00" y2="78.67" stroke="#000" stroke-width="0.62"/>
<line x1="551.10" y1="78.67" x2="599.40" y2="78.67" stroke="#000" stroke-width="0.62"/>
<line x1="513.00" y1="85.18" x2="549.00" y2="85.18" stroke="#000" stroke-width="0.62"/>
<line x1="551.10" y1="85.18" x2="599.40" y2="85.18" stroke="#000" stroke-width="0.62"/>
<line x1="513.00" y1="91.68" x2="549.00" y2="91.68" stroke="#000" stroke-width="0.62"/>
<line x1="551.10" y1="91.68" x2="599.40" y2="91.68" stroke="#000" stroke-width="0.62"/>
<line x1="513.00" y1="98.18" x2="549.00" y2="98.18" stroke="#000" stroke-width="0.62"/>
<line x1="551.10" y1="98.18" x2="599.40" y2="98.18" stroke="#000" stroke-width="0.62"/>
<line x1="513.00" y1="104.68" x2="549.00" y2="104.68" stroke="#000" stroke-width="0.62"/>
<line x1="551.10" y1="104.68" x2="599.40" y2="104.68" stroke="#000" stroke-width="0.62"/>
<line x1="513.00" y1="111.19" x2="549.00" y2="111.19" stroke="#000" stroke-width="0.62"/>
<line x1="551.10" y1="111.19" x2="599.40" y2="111.19" stroke="#000" stroke-width="0.62"/>
<line x1="513.00" y1="117.69" x2="549.00" y2="117.69" stroke="#000" stroke-width="0.62"/>
<line x1="551.10" y1="117.69" x2="599.40" y2="117.69" stroke="#000" stroke-width="0.62"/>
<line x1="513.00" y1="124.19" x2="549.00" y2="124.19" stroke="#000" stroke-width="0.62"/>
<line x1="551.10" y1="124.19" x2="599.40" y2="124.19" stroke="#000" stroke-width="0.62"/>
<line x1="513.00" y1="130.69" x2="549.00" y2="130.69" stroke="#000" stroke-width="0.62"/>
<line x1="551.10" y1="130.69" x2="599.40" y2="130.69" stroke="#000" stroke-width="0.62"/>
<line x1="513.00" y1="137.20" x2="549.00" y2="137.20" stroke="#000" stroke-width="0.62"/>
<line x1="551.10" y1="137.20" x2="599.40" y2="137.20" stroke="#000" stroke-width="0.62"/>
<line x1="513.00" y1="143.70" x2="549.00" y2="143.70" stroke="#000" stroke-width="0.62"/>
<line x1="551.10" y1="143.70" x2="599.40" y2="143.70" stroke="#000" stroke-width="0.62"/>
<line x1="513.00" y1="150.20" x2="549.00" y2="150.20" stroke="#000" stroke-width="0.62"/>
<line x1="551.10" y1="150.20" x2="599.40" y2="150.20" stroke="#000" stroke-width="0.62"/>
<line x1="513.00" y1="156.70" x2="549.00" y2="156.70" stroke="#000" stroke-width="0.62"/>
<line x1="551.10" y1="156.70" x2="599.40" y2="156.70" stroke="#000" stroke-width="0.62"/>
<line x1="513.00" y1="163.20" x2="549.00" y2="163.20" stroke="#000" stroke-width="0.62"/>
<line x1="551.10" y1="163.20" x2="599.40" y2="163.20" stroke="#000" stroke-width="0.62"/>
<line x1="513.00" y1="169.71" x2="549.00" y2="169.71" stroke="#000" stroke-width="0.62"/>
<line x1="551.10" y1="169.71" x2="599.40" y2="169.71" stroke="#000" stroke-width="0.62"/>
<line x1="513.00" y1="176.21" x2="549.00" y2="176.21" stroke="#000" stroke-width="0.62"/>
<line x1="551.10" y1="176.21" x2="599.40" y2="176.21" stroke="#000" stroke-width="0.62"/>
<line x1="513.00" y1="182.71" x2="549.00" y2="182.71" stroke="#000" stroke-width="0.62"/>
<line x1="551.10" y1="182.71" x2="599.40" y2="182.71" stroke="#000" stroke-width="0.62"/>
<line x1="513.00" y1="189.21" x2="549.00" y2="189.21" stroke="#000" stroke-width="0.62"/>
<line x1="551.10" y1="189.21" x2="599.40" y2="189.21" stroke="#000" stroke-width="0.62"/>
<line x1="513.00" y1="195.72" x2="549.00" y2="195.72" stroke="#000" stroke-width="0.62"/>
<line x1="551.10" y1="195.72" x2="599.40" y2="195.72" stroke="#000" stroke-width="0.62"/>
<line x1="513.00" y1="202.22" x2="549.00" y2="202.22" stroke="#000" stroke-width="0.62"/>
<line x1="551.10" y1="202.22" x2="599.40" y2="202.22" stroke="#000" stroke-width="0.62"/>
<line x1="513.00" y1="208.72" x2="549.00" y2="208.72" stroke="#000" stroke-width="0.62"/>
<line x1="551.10" y1="208.72" x2="599.40" y2="208.72" stroke="#000" stroke-width="0.62"/>
<line x1="513.00" y1="215.22" x2="549.00" y2="215.22" stroke="#000" stroke-width="0.62"/>
<line x1="551.10" y1="215.22" x2="599.40" y2="215.22" stroke="#000" stroke-width="0.62"/>
<line x1="513.00" y1="221.73" x2="549.00" y2="221.73" stroke="#000" stroke-width="0.62"/>
<line x1="551.10" y1="221.73" x2="599.40" y2="221.73" stroke="#000" stroke-width="0.62"/>
<line x1="513.00" y1="228.23" x2="549.00" y2="228.23" stroke="#000" stroke-width="0.62"/>
<line x1="551.10" y1="228.23" x2="599.40" y2="228.23" stroke="#000" stroke-width="0.62"/>
<line x1="513.00" y1="234.73" x2="549.00" y2="234.73" stroke="#000" stroke-width="0.62"/>
<line x1="551.10" y1="234.73" x2="599.40" y2="234.73" stroke="#000" stroke-width="0.62"/>
<line x1="513.00" y1="241.23" x2="549.00" y2="241.23" stroke="#000" stroke-width="0.62"/>
<line x1="551.10" y1="241.23" x2="599.40" y2="241.23" stroke="#000" stroke-width="0.62"/>
<line x1="513.00" y1="247.74" x2="549.00" y2="247.74" stroke="#000" stroke-width="0.62"/>
<line x1="551.10" y1="247.74" x2="599.40" y2="247.74" stroke="#000" stroke-width="0.62"/>
<line x1="513.00" y1="254.24" x2="549.00" y2="254.24" stroke="#000" stroke-width="0.62"/>
<line x1="551.10" y1="254.24" x2="599.40" y2="254.24" stroke="#000" stroke-width="0.62"/>
<line x1="513.00" y1="260.74" x2="549.00" y2="260.74" stroke="#000" stroke-width="0.62"/>
<line x1="551.10" y1="260.74" x2="599.40" y2="260.74" stroke="#000" stroke-width="0.62"/>
<line x1="513.00" y1="267.24" x2="549.00" y2="267.24" stroke="#000" stroke-width="0.62"/>
<line x1="551.10" y1="267.24" x2="599.40" y2="267.24" stroke="#000" stroke-width="0.62"/>
<line x1="513.00" y1="273.75" x2="549.00" y2="273.75" stroke="#000" stroke-width="0.62"/>
<line x1="551.10" y1="273.75" x2="599.40" y2="273.75" stroke="#000" stroke-width="0.62"/>
<line x1="513.00" y1="280.25" x2="549.00" y2="280.25" stroke="#000" stroke-width="0.62"/>
<line x1="551.10" y1="280.25" x2="599.40" y2="280.25" stroke="#000" stroke-width="0.62"/>
<line x1="513.00" y1="286.75" x2="549.00" y2="286.75" stroke="#000" stroke-width="0.62"/>
<line x1="551.10" y1="286.75" x2="599.40" y2="286.75" stroke="#000" stroke-width="0.62"/>
<line x1="513.00" y1="13.20" x2="513.00" y2="286.75" stroke="#000" stroke-width="0.62"/>
<line x1="530.30" y1="13.20" x2="530.30" y2="286.75" stroke="#000" stroke-width="0.62"/>
<line x1="551.10" y1="13.20" x2="551.10" y2="286.75" stroke="#000" stroke-width="0.62"/>
<line x1="559.15" y1="13.20" x2="559.15" y2="286.75" stroke="#000" stroke-width="0.62"/>
<line x1="567.20" y1="13.20" x2="567.20" y2="286.75" stroke="#000" stroke-width="0.62"/>
<line x1="575.25" y1="13.20" x2="575.25" y2="286.75" stroke="#000" stroke-width="0.62"/>
<line x1="583.30" y1="13.20" x2="583.30" y2="286.75" stroke="#000" stroke-width="0.62"/>
<line x1="591.35" y1="13.20" x2="591.35" y2="286.75" stroke="#000" stroke-width="0.62"/>
<line x1="599.40" y1="13.20" x2="599.40" y2="286.75" stroke="#000" stroke-width="0.62"/>
<line x1="599.40" y1="13.35" x2="642.40" y2="13.35" stroke="#222" stroke-width="0.8"/>
<line x1="512.60" y1="286.75" x2="599.40" y2="286.75" stroke="#222" stroke-width="0.8"/>
<rect x="599.40" y="286.10" width="43.00" height="0.70" fill="#444"/>
<text x="93.70" y="309.60" transform="rotate(0.04 93.70 309.60)" font-size="8.5" text-anchor="start" font-weight="bold" font-style="normal" fill="#000" stroke="#000" stroke-width="0.1" >d</text>
<text x="109.90" y="315.90" transform="rotate(0.04 109.90 315.90)" font-size="7.5" text-anchor="start" font-weight="bold" font-style="normal" fill="#000" stroke="#000" stroke-width="0.1" >Canonical Pathway</text>
<text x="286.60" y="315.90" transform="rotate(0.04 286.60 315.90)" font-size="7.3" text-anchor="middle" font-weight="bold" font-style="normal" fill="#000" stroke="#000" stroke-width="0.1" >N</text>
<text x="308.40" y="315.90" transform="rotate(0.04 308.40 315.90)" font-size="7.3" text-anchor="middle" font-weight="bold" font-style="normal" fill="#000" stroke="#000" stroke-width="0.1" >pvalue</text>
<text x="336.80" y="315.90" transform="rotate(0.04 336.80 315.90)" font-size="7.3" text-anchor="middle" font-weight="bold" font-style="normal" fill="#000" stroke="#000" stroke-width="0.1" >FDR</text>
<text x="358.80" y="315.90" transform="rotate(0.04 358.80 315.90)" font-size="7.3" text-anchor="middle" font-weight="bold" font-style="normal" fill="#000" stroke="#000" stroke-width="0.1" >Z</text>
<text x="109.90" y="326.61" transform="rotate(0.04 109.90 326.61)" font-size="7.25" text-anchor="start" font-weight="normal" font-style="normal" fill="#111" stroke="#111" stroke-width="0.1" >IL-8 Signaling</text>
<rect x="279.60" y="318.90" width="12.60" height="10.56" fill="#b27fdc" stroke="#222" stroke-width="0.5"/>
<text x="285.90" y="326.16" transform="rotate(0.04 285.90 326.16)" font-size="7.0" text-anchor="middle" font-weight="normal" font-style="normal" fill="#111" stroke="#111" stroke-width="0.1" >17</text>
<rect x="292.30" y="318.90" width="32.30" height="10.56" fill="#a9d58a" stroke="#222" stroke-width="0.5"/>
<text x="308.45" y="326.16" transform="rotate(0.04 308.45 326.16)" font-size="7.0" text-anchor="middle" font-weight="normal" font-style="normal" fill="#111" stroke="#111" stroke-width="0.1" >0.0001</text>
<rect x="325.20" y="318.90" width="23.60" height="10.56" fill="#fdba1c" stroke="#222" stroke-width="0.5"/>
<text x="337.00" y="326.16" transform="rotate(0.04 337.00 326.16)" font-size="7.0" text-anchor="middle" font-weight="normal" font-style="normal" fill="#111" stroke="#111" stroke-width="0.1" >0.7%</text>
<rect x="349.20" y="318.90" width="19.00" height="10.56" fill="#1f7cc5" stroke="#222" stroke-width="0.5"/>
<text x="358.70" y="326.16" transform="rotate(0.04 358.70 326.16)" font-size="7.0" text-anchor="middle" font-weight="normal" font-style="normal" fill="#111" stroke="#111" stroke-width="0.1" >-2.8</text>
<text x="109.90" y="337.16" transform="rotate(0.04 109.90 337.16)" font-size="7.25" text-anchor="start" font-weight="normal" font-style="normal" fill="#111" stroke="#111" stroke-width="0.1" >Glycolysis I</text>
<rect x="279.60" y="329.46" width="12.60" height="10.56" fill="#ead9f6" stroke="#222" stroke-width="0.5"/>
<text x="285.90" y="336.71" transform="rotate(0.04 285.90 336.71)" font-size="7.0" text-anchor="middle" font-weight="normal" font-style="normal" fill="#111" stroke="#111" stroke-width="0.1" >7</text>
<rect x="292.30" y="329.46" width="32.30" height="10.56" fill="#84c24e" stroke="#222" stroke-width="0.5"/>
<text x="308.45" y="336.71" transform="rotate(0.04 308.45 336.71)" font-size="7.0" text-anchor="middle" font-weight="normal" font-style="normal" fill="#111" stroke="#111" stroke-width="0.1" >9x10<tspan dy="-2.9" font-size="4.4">-8</tspan></text>
<rect x="325.20" y="329.46" width="23.60" height="10.56" fill="#ffbf00" stroke="#222" stroke-width="0.5"/>
<text x="337.00" y="336.71" transform="rotate(0.04 337.00 336.71)" font-size="7.0" text-anchor="middle" font-weight="normal" font-style="normal" fill="#111" stroke="#111" stroke-width="0.1" >0.1%</text>
<rect x="349.20" y="329.46" width="19.00" height="10.56" fill="#4e9bd5" stroke="#222" stroke-width="0.5"/>
<text x="358.70" y="336.71" transform="rotate(0.04 358.70 336.71)" font-size="7.0" text-anchor="middle" font-weight="normal" font-style="normal" fill="#111" stroke="#111" stroke-width="0.1" >-2.7</text>
<text x="109.90" y="347.72" transform="rotate(0.04 109.90 347.72)" font-size="7.25" text-anchor="start" font-weight="normal" font-style="normal" fill="#111" stroke="#111" stroke-width="0.1" >Regulation of Actin-based Motility by Rho</text>
<rect x="279.60" y="340.01" width="12.60" height="10.56" fill="#d5b8ed" stroke="#222" stroke-width="0.5"/>
<text x="285.90" y="347.27" transform="rotate(0.04 285.90 347.27)" font-size="7.0" text-anchor="middle" font-weight="normal" font-style="normal" fill="#111" stroke="#111" stroke-width="0.1" >8</text>
<rect x="292.30" y="340.01" width="32.30" height="10.56" fill="#e6f2db" stroke="#222" stroke-width="0.5"/>
<text x="308.45" y="347.27" transform="rotate(0.04 308.45 347.27)" font-size="7.0" text-anchor="middle" font-weight="normal" font-style="normal" fill="#111" stroke="#111" stroke-width="0.1" >0.007</text>
<rect x="325.20" y="340.01" width="23.60" height="10.56" fill="#ffe9ad" stroke="#222" stroke-width="0.5"/>
<text x="337.00" y="347.27" transform="rotate(0.04 337.00 347.27)" font-size="7.0" text-anchor="middle" font-weight="normal" font-style="normal" fill="#111" stroke="#111" stroke-width="0.1" >9.8%</text>
<rect x="349.20" y="340.01" width="19.00" height="10.56" fill="#559fd7" stroke="#222" stroke-width="0.5"/>
<text x="358.70" y="347.27" transform="rotate(0.04 358.70 347.27)" font-size="7.0" text-anchor="middle" font-weight="normal" font-style="normal" fill="#111" stroke="#111" stroke-width="0.1" >-2.7</text>
<text x="109.90" y="358.28" transform="rotate(0.04 109.90 358.28)" font-size="7.25" text-anchor="start" font-weight="normal" font-style="normal" fill="#111" stroke="#111" stroke-width="0.1" >Integrin Signaling</text>
<rect x="279.60" y="350.57" width="12.60" height="10.56" fill="#b680dd" stroke="#222" stroke-width="0.5"/>
<text x="285.90" y="357.83" transform="rotate(0.04 285.90 357.83)" font-size="7.0" text-anchor="middle" font-weight="normal" font-style="normal" fill="#111" stroke="#111" stroke-width="0.1" >16</text>
<rect x="292.30" y="350.57" width="32.30" height="10.56" fill="#b4da9a" stroke="#222" stroke-width="0.5"/>
<text x="308.45" y="357.83" transform="rotate(0.04 308.45 357.83)" font-size="7.0" text-anchor="middle" font-weight="normal" font-style="normal" fill="#111" stroke="#111" stroke-width="0.1" >0.0008</text>
<rect x="325.20" y="350.57" width="23.60" height="10.56" fill="#ffc734" stroke="#222" stroke-width="0.5"/>
<text x="337.00" y="357.83" transform="rotate(0.04 337.00 357.83)" font-size="7.0" text-anchor="middle" font-weight="normal" font-style="normal" fill="#111" stroke="#111" stroke-width="0.1" >2.3%</text>
<rect x="349.20" y="350.57" width="19.00" height="10.56" fill="#86bbe4" stroke="#222" stroke-width="0.5"/>
<text x="358.70" y="357.83" transform="rotate(0.04 358.70 357.83)" font-size="7.0" text-anchor="middle" font-weight="normal" font-style="normal" fill="#111" stroke="#111" stroke-width="0.1" >-2.5</text>
<text x="109.90" y="368.84" transform="rotate(0.04 109.90 368.84)" font-size="7.25" text-anchor="start" font-weight="normal" font-style="normal" fill="#111" stroke="#111" stroke-width="0.1" >Gluconeogenesis I</text>
<rect x="279.60" y="361.13" width="12.60" height="10.56" fill="#efe2f8" stroke="#222" stroke-width="0.5"/>
<text x="285.90" y="368.39" transform="rotate(0.04 285.90 368.39)" font-size="7.0" text-anchor="middle" font-weight="normal" font-style="normal" fill="#111" stroke="#111" stroke-width="0.1" >6</text>
<rect x="292.30" y="361.13" width="32.30" height="10.56" fill="#a3d27e" stroke="#222" stroke-width="0.5"/>
<text x="308.45" y="368.39" transform="rotate(0.04 308.45 368.39)" font-size="7.0" text-anchor="middle" font-weight="normal" font-style="normal" fill="#111" stroke="#111" stroke-width="0.1" >0.0001</text>
<rect x="325.20" y="361.13" width="23.60" height="10.56" fill="#fdba1c" stroke="#222" stroke-width="0.5"/>
<text x="337.00" y="368.39" transform="rotate(0.04 337.00 368.39)" font-size="7.0" text-anchor="middle" font-weight="normal" font-style="normal" fill="#111" stroke="#111" stroke-width="0.1" >0.7%</text>
<rect x="349.20" y="361.13" width="19.00" height="10.56" fill="#8bbee5" stroke="#222" stroke-width="0.5"/>
<text x="358.70" y="368.39" transform="rotate(0.04 358.70 368.39)" font-size="7.0" text-anchor="middle" font-weight="normal" font-style="normal" fill="#111" stroke="#111" stroke-width="0.1" >-2.5</text>
<text x="109.90" y="379.39" transform="rotate(0.04 109.90 379.39)" font-size="7.25" text-anchor="start" font-weight="normal" font-style="normal" fill="#111" stroke="#111" stroke-width="0.1" >Apelin Cardiomyocyte Signaling Pathway</text>
<rect x="279.60" y="371.69" width="12.60" height="10.56" fill="#cda9ea" stroke="#222" stroke-width="0.5"/>
<text x="285.90" y="378.94" transform="rotate(0.04 285.90 378.94)" font-size="7.0" text-anchor="middle" font-weight="normal" font-style="normal" fill="#111" stroke="#111" stroke-width="0.1" >9</text>
<rect x="292.30" y="371.69" width="32.30" height="10.56" fill="#d6ebc6" stroke="#222" stroke-width="0.5"/>
<text x="308.45" y="378.94" transform="rotate(0.04 308.45 378.94)" font-size="7.0" text-anchor="middle" font-weight="normal" font-style="normal" fill="#111" stroke="#111" stroke-width="0.1" >0.003</text>
<rect x="325.20" y="371.69" width="23.60" height="10.56" fill="#ffd970" stroke="#222" stroke-width="0.5"/>
<text x="337.00" y="378.94" transform="rotate(0.04 337.00 378.94)" font-size="7.0" text-anchor="middle" font-weight="normal" font-style="normal" fill="#111" stroke="#111" stroke-width="0.1" >5.9%</text>
<rect x="349.20" y="371.69" width="19.00" height="10.56" fill="#bcd9f0" stroke="#222" stroke-width="0.5"/>
<text x="358.70" y="378.94" transform="rotate(0.04 358.70 378.94)" font-size="7.0" text-anchor="middle" font-weight="normal" font-style="normal" fill="#111" stroke="#111" stroke-width="0.1" >-2.3</text>
<text x="109.90" y="389.95" transform="rotate(0.04 109.90 389.95)" font-size="7.25" text-anchor="start" font-weight="normal" font-style="normal" fill="#111" stroke="#111" stroke-width="0.1" >FcγR-mediated Phagocytosis in Mφ and Monocytes</text>
<rect x="279.60" y="382.24" width="12.60" height="10.56" fill="#d5b8ed" stroke="#222" stroke-width="0.5"/>
<text x="285.90" y="389.50" transform="rotate(0.04 285.90 389.50)" font-size="7.0" text-anchor="middle" font-weight="normal" font-style="normal" fill="#111" stroke="#111" stroke-width="0.1" >8</text>
<rect x="292.30" y="382.24" width="32.30" height="10.56" fill="#e6f2db" stroke="#222" stroke-width="0.5"/>
<text x="308.45" y="389.50" transform="rotate(0.04 308.45 389.50)" font-size="7.0" text-anchor="middle" font-weight="normal" font-style="normal" fill="#111" stroke="#111" stroke-width="0.1" >0.007</text>
<rect x="325.20" y="382.24" width="23.60" height="10.56" fill="#ffe9ad" stroke="#222" stroke-width="0.5"/>
<text x="337.00" y="389.50" transform="rotate(0.04 337.00 389.50)" font-size="7.0" text-anchor="middle" font-weight="normal" font-style="normal" fill="#111" stroke="#111" stroke-width="0.1" >9.8%</text>
<rect x="349.20" y="382.24" width="19.00" height="10.56" fill="#e8f2fb" stroke="#222" stroke-width="0.5"/>
<text x="358.70" y="389.50" transform="rotate(0.04 358.70 389.50)" font-size="7.0" text-anchor="middle" font-weight="normal" font-style="normal" fill="#111" stroke="#111" stroke-width="0.1" >-2.1</text>
<line x1="108.20" y1="318.35" x2="292.00" y2="318.35" stroke="#111" stroke-width="1.1"/>
<line x1="109.50" y1="392.50" x2="368.20" y2="392.50" stroke="#111" stroke-width="0.9"/>
<rect x="368.50" y="318.90" width="8.36" height="10.56" fill="#7030a0"/>
<rect x="376.86" y="318.90" width="8.36" height="10.56" fill="#7030a0"/>
<rect x="385.22" y="318.90" width="8.36" height="10.56" fill="#7030a0"/>
<rect x="393.58" y="318.90" width="8.36" height="10.56" fill="#7030a0"/>
<rect x="401.94" y="318.90" width="8.36" height="10.56" fill="#7030a0"/>
<rect x="410.31" y="318.90" width="8.36" height="10.56" fill="#7030a0"/>
<rect x="418.67" y="318.90" width="8.36" height="10.56" fill="#7030a0"/>
<rect x="443.75" y="318.90" width="8.36" height="10.56" fill="#7030a0"/>
<rect x="452.11" y="318.90" width="8.36" height="10.56" fill="#7030a0"/>
<rect x="460.47" y="318.90" width="8.36" height="10.56" fill="#7030a0"/>
<rect x="468.83" y="318.90" width="8.36" height="10.56" fill="#7030a0"/>
<rect x="569.17" y="318.90" width="8.36" height="10.56" fill="#7030a0"/>
<rect x="577.53" y="318.90" width="8.36" height="10.56" fill="#7030a0"/>
<rect x="585.89" y="318.90" width="8.36" height="10.56" fill="#7030a0"/>
<rect x="594.25" y="318.90" width="8.36" height="10.56" fill="#7030a0"/>
<rect x="602.61" y="318.90" width="8.36" height="10.56" fill="#7030a0"/>
<rect x="610.97" y="318.90" width="8.36" height="10.56" fill="#7030a0"/>
<rect x="477.19" y="329.46" width="8.36" height="10.56" fill="#7030a0"/>
<rect x="485.56" y="329.46" width="8.36" height="10.56" fill="#7030a0"/>
<rect x="493.92" y="329.46" width="8.36" height="10.56" fill="#7030a0"/>
<rect x="502.28" y="329.46" width="8.36" height="10.56" fill="#7030a0"/>
<rect x="510.64" y="329.46" width="8.36" height="10.56" fill="#7030a0"/>
<rect x="519.00" y="329.46" width="8.36" height="10.56" fill="#7030a0"/>
<rect x="619.33" y="329.46" width="8.36" height="10.56" fill="#7030a0"/>
<rect x="368.50" y="340.01" width="8.36" height="10.56" fill="#7030a0"/>
<rect x="376.86" y="340.01" width="8.36" height="10.56" fill="#7030a0"/>
<rect x="385.22" y="340.01" width="8.36" height="10.56" fill="#7030a0"/>
<rect x="427.03" y="340.01" width="8.36" height="10.56" fill="#7030a0"/>
<rect x="435.39" y="340.01" width="8.36" height="10.56" fill="#7030a0"/>
<rect x="527.36" y="340.01" width="8.36" height="10.56" fill="#7030a0"/>
<rect x="535.72" y="340.01" width="8.36" height="10.56" fill="#7030a0"/>
<rect x="544.08" y="340.01" width="8.36" height="10.56" fill="#7030a0"/>
<rect x="368.50" y="350.57" width="8.36" height="10.56" fill="#7030a0"/>
<rect x="376.86" y="350.57" width="8.36" height="10.56" fill="#7030a0"/>
<rect x="385.22" y="350.57" width="8.36" height="10.56" fill="#7030a0"/>
<rect x="393.58" y="350.57" width="8.36" height="10.56" fill="#7030a0"/>
<rect x="427.03" y="350.57" width="8.36" height="10.56" fill="#7030a0"/>
<rect x="435.39" y="350.57" width="8.36" height="10.56" fill="#7030a0"/>
<rect x="443.75" y="350.57" width="8.36" height="10.56" fill="#7030a0"/>
<rect x="452.11" y="350.57" width="8.36" height="10.56" fill="#7030a0"/>
<rect x="460.47" y="350.57" width="8.36" height="10.56" fill="#7030a0"/>
<rect x="527.36" y="350.57" width="8.36" height="10.56" fill="#7030a0"/>
<rect x="552.44" y="350.57" width="8.36" height="10.56" fill="#7030a0"/>
<rect x="560.81" y="350.57" width="8.36" height="10.56" fill="#7030a0"/>
<rect x="627.69" y="350.57" width="8.36" height="10.56" fill="#7030a0"/>
<rect x="636.06" y="350.57" width="8.36" height="10.56" fill="#7030a0"/>
<rect x="644.42" y="350.57" width="8.36" height="10.56" fill="#7030a0"/>
<rect x="652.78" y="350.57" width="8.36" height="10.56" fill="#7030a0"/>
<rect x="477.19" y="361.13" width="8.36" height="10.56" fill="#7030a0"/>
<rect x="485.56" y="361.13" width="8.36" height="10.56" fill="#7030a0"/>
<rect x="493.92" y="361.13" width="8.36" height="10.56" fill="#7030a0"/>
<rect x="502.28" y="361.13" width="8.36" height="10.56" fill="#7030a0"/>
<rect x="510.64" y="361.13" width="8.36" height="10.56" fill="#7030a0"/>
<rect x="519.00" y="361.13" width="8.36" height="10.56" fill="#7030a0"/>
<rect x="368.50" y="371.69" width="8.36" height="10.56" fill="#7030a0"/>
<rect x="401.94" y="371.69" width="8.36" height="10.56" fill="#7030a0"/>
<rect x="410.31" y="371.69" width="8.36" height="10.56" fill="#7030a0"/>
<rect x="418.67" y="371.69" width="8.36" height="10.56" fill="#7030a0"/>
<rect x="468.83" y="371.69" width="8.36" height="10.56" fill="#7030a0"/>
<rect x="535.72" y="371.69" width="8.36" height="10.56" fill="#7030a0"/>
<rect x="544.08" y="371.69" width="8.36" height="10.56" fill="#7030a0"/>
<rect x="552.44" y="371.69" width="8.36" height="10.56" fill="#7030a0"/>
<rect x="661.14" y="371.69" width="8.36" height="10.56" fill="#7030a0"/>
<rect x="376.86" y="382.24" width="8.36" height="10.56" fill="#7030a0"/>
<rect x="393.58" y="382.24" width="8.36" height="10.56" fill="#7030a0"/>
<rect x="401.94" y="382.24" width="8.36" height="10.56" fill="#7030a0"/>
<rect x="410.31" y="382.24" width="8.36" height="10.56" fill="#7030a0"/>
<rect x="418.67" y="382.24" width="8.36" height="10.56" fill="#7030a0"/>
<rect x="427.03" y="382.24" width="8.36" height="10.56" fill="#7030a0"/>
<rect x="435.39" y="382.24" width="8.36" height="10.56" fill="#7030a0"/>
<rect x="560.81" y="382.24" width="8.36" height="10.56" fill="#7030a0"/>
<line x1="368.50" y1="318.90" x2="669.50" y2="318.90" stroke="#000" stroke-width="0.95"/>
<line x1="368.50" y1="329.46" x2="669.50" y2="329.46" stroke="#000" stroke-width="0.65"/>
<line x1="368.50" y1="340.01" x2="669.50" y2="340.01" stroke="#000" stroke-width="0.65"/>
<line x1="368.50" y1="350.57" x2="669.50" y2="350.57" stroke="#000" stroke-width="0.65"/>
<line x1="368.50" y1="361.13" x2="669.50" y2="361.13" stroke="#000" stroke-width="0.65"/>
<line x1="368.50" y1="371.69" x2="669.50" y2="371.69" stroke="#000" stroke-width="0.65"/>
<line x1="368.50" y1="382.24" x2="669.50" y2="382.24" stroke="#000" stroke-width="0.65"/>
<line x1="368.50" y1="392.80" x2="669.50" y2="392.80" stroke="#000" stroke-width="0.95"/>
<line x1="368.50" y1="318.90" x2="368.50" y2="392.80" stroke="#000" stroke-width="0.95"/>
<line x1="376.86" y1="318.90" x2="376.86" y2="392.80" stroke="#000" stroke-width="0.65"/>
<line x1="385.22" y1="318.90" x2="385.22" y2="392.80" stroke="#000" stroke-width="0.65"/>
<line x1="393.58" y1="318.90" x2="393.58" y2="392.80" stroke="#000" stroke-width="0.65"/>
<line x1="401.94" y1="318.90" x2="401.94" y2="392.80" stroke="#000" stroke-width="0.65"/>
<line x1="410.31" y1="318.90" x2="410.31" y2="392.80" stroke="#000" stroke-width="0.65"/>
<line x1="418.67" y1="318.90" x2="418.67" y2="392.80" stroke="#000" stroke-width="0.65"/>
<line x1="427.03" y1="318.90" x2="427.03" y2="392.80" stroke="#000" stroke-width="0.65"/>
<line x1="435.39" y1="318.90" x2="435.39" y2="392.80" stroke="#000" stroke-width="0.65"/>
<line x1="443.75" y1="318.90" x2="443.75" y2="392.80" stroke="#000" stroke-width="0.65"/>
<line x1="452.11" y1="318.90" x2="452.11" y2="392.80" stroke="#000" stroke-width="0.65"/>
<line x1="460.47" y1="318.90" x2="460.47" y2="392.80" stroke="#000" stroke-width="0.65"/>
<line x1="468.83" y1="318.90" x2="468.83" y2="392.80" stroke="#000" stroke-width="0.65"/>
<line x1="477.19" y1="318.90" x2="477.19" y2="392.80" stroke="#000" stroke-width="0.65"/>
<line x1="485.56" y1="318.90" x2="485.56" y2="392.80" stroke="#000" stroke-width="0.65"/>
<line x1="493.92" y1="318.90" x2="493.92" y2="392.80" stroke="#000" stroke-width="0.65"/>
<line x1="502.28" y1="318.90" x2="502.28" y2="392.80" stroke="#000" stroke-width="0.65"/>
<line x1="510.64" y1="318.90" x2="510.64" y2="392.80" stroke="#000" stroke-width="0.65"/>
<line x1="519.00" y1="318.90" x2="519.00" y2="392.80" stroke="#000" stroke-width="0.65"/>
<line x1="527.36" y1="318.90" x2="527.36" y2="392.80" stroke="#000" stroke-width="0.65"/>
<line x1="535.72" y1="318.90" x2="535.72" y2="392.80" stroke="#000" stroke-width="0.65"/>
<line x1="544.08" y1="318.90" x2="544.08" y2="392.80" stroke="#000" stroke-width="0.65"/>
<line x1="552.44" y1="318.90" x2="552.44" y2="392.80" stroke="#000" stroke-width="0.65"/>
<line x1="560.81" y1="318.90" x2="560.81" y2="392.80" stroke="#000" stroke-width="0.65"/>
<line x1="569.17" y1="318.90" x2="569.17" y2="392.80" stroke="#000" stroke-width="0.65"/>
<line x1="577.53" y1="318.90" x2="577.53" y2="392.80" stroke="#000" stroke-width="0.65"/>
<line x1="585.89" y1="318.90" x2="585.89" y2="392.80" stroke="#000" stroke-width="0.65"/>
<line x1="594.25" y1="318.90" x2="594.25" y2="392.80" stroke="#000" stroke-width="0.65"/>
<line x1="602.61" y1="318.90" x2="602.61" y2="392.80" stroke="#000" stroke-width="0.65"/>
<line x1="610.97" y1="318.90" x2="610.97" y2="392.80" stroke="#000" stroke-width="0.65"/>
<line x1="619.33" y1="318.90" x2="619.33" y2="392.80" stroke="#000" stroke-width="0.65"/>
<line x1="627.69" y1="318.90" x2="627.69" y2="392.80" stroke="#000" stroke-width="0.65"/>
<line x1="636.06" y1="318.90" x2="636.06" y2="392.80" stroke="#000" stroke-width="0.65"/>
<line x1="644.42" y1="318.90" x2="644.42" y2="392.80" stroke="#000" stroke-width="0.65"/>
<line x1="652.78" y1="318.90" x2="652.78" y2="392.80" stroke="#000" stroke-width="0.65"/>
<line x1="661.14" y1="318.90" x2="661.14" y2="392.80" stroke="#000" stroke-width="0.65"/>
<line x1="669.50" y1="318.90" x2="669.50" y2="392.80" stroke="#000" stroke-width="0.95"/>
<text transform="translate(373.78,317.0) rotate(-45)" font-size="7.3" fill="#111" stroke="#fff" stroke-width="0.7" paint-order="stroke">MYL2</text>
<text transform="translate(382.14,317.0) rotate(-45)" font-size="7.3" fill="#111" stroke="#fff" stroke-width="0.7" paint-order="stroke">RAC2</text>
<text transform="translate(390.50,317.0) rotate(-45)" font-size="7.3" fill="#111" stroke="#fff" stroke-width="0.7" paint-order="stroke">RHOU</text>
<text transform="translate(398.86,317.0) rotate(-45)" font-size="7.3" fill="#111" stroke="#fff" stroke-width="0.7" paint-order="stroke">VASP</text>
<text transform="translate(407.23,317.0) rotate(-45)" font-size="7.3" fill="#111" stroke="#fff" stroke-width="0.7" paint-order="stroke">PIK3CB</text>
<text transform="translate(415.59,317.0) rotate(-45)" font-size="7.3" fill="#111" stroke="#fff" stroke-width="0.7" paint-order="stroke">PIK3CD</text>
<text transform="translate(423.95,317.0) rotate(-45)" font-size="7.3" fill="#111" stroke="#fff" stroke-width="0.7" paint-order="stroke">PRKCH</text>
<text transform="translate(432.31,317.0) rotate(-45)" font-size="7.3" fill="#111" stroke="#fff" stroke-width="0.7" paint-order="stroke">ACTA2</text>
<text transform="translate(440.67,317.0) rotate(-45)" font-size="7.3" fill="#111" stroke="#fff" stroke-width="0.7" paint-order="stroke">ACTB</text>
<text transform="translate(449.03,317.0) rotate(-45)" font-size="7.3" fill="#111" stroke="#fff" stroke-width="0.7" paint-order="stroke">ITGAX</text>
<text transform="translate(457.39,317.0) rotate(-45)" font-size="7.3" fill="#111" stroke="#fff" stroke-width="0.7" paint-order="stroke">ITGB2</text>
<text transform="translate(465.75,317.0) rotate(-45)" font-size="7.3" fill="#111" stroke="#fff" stroke-width="0.7" paint-order="stroke">RASD1</text>
<text transform="translate(474.11,317.0) rotate(-45)" font-size="7.3" fill="#111" stroke="#fff" stroke-width="0.7" paint-order="stroke">PLCD3</text>
<text transform="translate(482.48,317.0) rotate(-45)" font-size="7.3" fill="#111" stroke="#fff" stroke-width="0.7" paint-order="stroke">ALDOC</text>
<text transform="translate(490.84,317.0) rotate(-45)" font-size="7.3" fill="#111" stroke="#fff" stroke-width="0.7" paint-order="stroke">ALDOA</text>
<text transform="translate(499.20,317.0) rotate(-45)" font-size="7.3" fill="#111" stroke="#fff" stroke-width="0.7" paint-order="stroke">ENO1</text>
<text transform="translate(507.56,317.0) rotate(-45)" font-size="7.3" fill="#111" stroke="#fff" stroke-width="0.7" paint-order="stroke">GAPDH</text>
<text transform="translate(515.92,317.0) rotate(-45)" font-size="7.3" fill="#111" stroke="#fff" stroke-width="0.7" paint-order="stroke">PGAM1</text>
<text transform="translate(524.28,317.0) rotate(-45)" font-size="7.3" fill="#111" stroke="#fff" stroke-width="0.7" paint-order="stroke">PGK1</text>
<text transform="translate(532.64,317.0) rotate(-45)" font-size="7.3" fill="#111" stroke="#fff" stroke-width="0.7" paint-order="stroke">GSN</text>
<text transform="translate(541.00,317.0) rotate(-45)" font-size="7.3" fill="#111" stroke="#fff" stroke-width="0.7" paint-order="stroke">MYL6</text>
<text transform="translate(549.36,317.0) rotate(-45)" font-size="7.3" fill="#111" stroke="#fff" stroke-width="0.7" paint-order="stroke">MYLPF</text>
<text transform="translate(557.73,317.0) rotate(-45)" font-size="7.3" fill="#111" stroke="#fff" stroke-width="0.7" paint-order="stroke">PLCG2</text>
<text transform="translate(566.09,317.0) rotate(-45)" font-size="7.3" fill="#111" stroke="#fff" stroke-width="0.7" paint-order="stroke">PXN</text>
<text transform="translate(574.45,317.0) rotate(-45)" font-size="7.3" fill="#111" stroke="#fff" stroke-width="0.7" paint-order="stroke">CCND3</text>
<text transform="translate(582.81,317.0) rotate(-45)" font-size="7.3" fill="#111" stroke="#fff" stroke-width="0.7" paint-order="stroke">CR2</text>
<text transform="translate(591.17,317.0) rotate(-45)" font-size="7.3" fill="#111" stroke="#fff" stroke-width="0.7" paint-order="stroke">CXCR1</text>
<text transform="translate(599.53,317.0) rotate(-45)" font-size="7.3" fill="#111" stroke="#fff" stroke-width="0.7" paint-order="stroke">IRAK1</text>
<text transform="translate(607.89,317.0) rotate(-45)" font-size="7.3" fill="#111" stroke="#fff" stroke-width="0.7" paint-order="stroke">LASP1</text>
<text transform="translate(616.25,317.0) rotate(-45)" font-size="7.3" fill="#111" stroke="#fff" stroke-width="0.7" paint-order="stroke">MMP9</text>
<text transform="translate(624.61,317.0) rotate(-45)" font-size="7.3" fill="#111" stroke="#fff" stroke-width="0.7" paint-order="stroke">PKM</text>
<text transform="translate(632.98,317.0) rotate(-45)" font-size="7.3" fill="#111" stroke="#fff" stroke-width="0.7" paint-order="stroke">ITGB7</text>
<text transform="translate(641.34,317.0) rotate(-45)" font-size="7.3" fill="#111" stroke="#fff" stroke-width="0.7" paint-order="stroke">PARVB</text>
<text transform="translate(649.70,317.0) rotate(-45)" font-size="7.3" fill="#111" stroke="#fff" stroke-width="0.7" paint-order="stroke">TSPAN2</text>
<text transform="translate(658.06,317.0) rotate(-45)" font-size="7.3" fill="#111" stroke="#fff" stroke-width="0.7" paint-order="stroke">VCL</text>
<text transform="translate(666.42,317.0) rotate(-45)" font-size="7.3" fill="#111" stroke="#fff" stroke-width="0.7" paint-order="stroke">ATP2A3</text>
</g>
</svg>
</body></html>
